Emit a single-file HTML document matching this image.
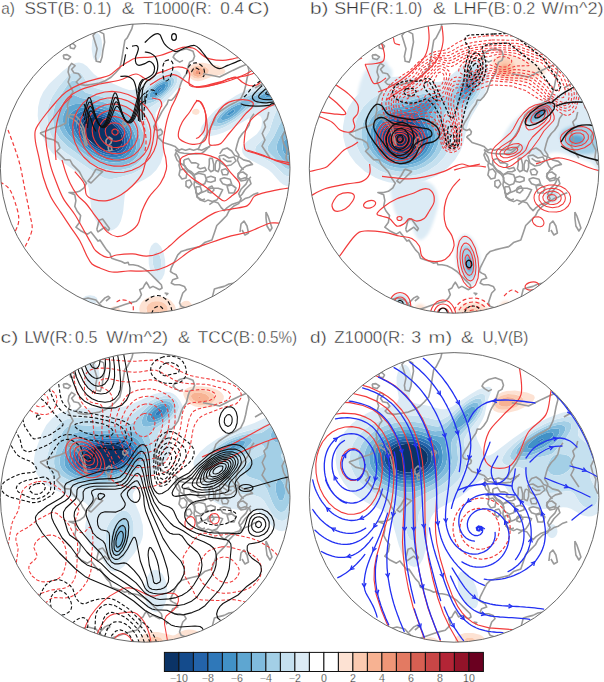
<!DOCTYPE html><html><head><meta charset="utf-8"><style>html,body{margin:0;padding:0;background:#fff;width:604px;height:682px;overflow:hidden}svg{display:block}text{font-family:"Liberation Sans",sans-serif}</style></head><body>
<svg width="604" height="682" viewBox="0 0 604 682">
<defs>
<filter id="b1" x="-50%" y="-50%" width="200%" height="200%"><feGaussianBlur stdDeviation="0.8"/></filter>
<filter id="b2" x="-50%" y="-50%" width="200%" height="200%"><feGaussianBlur stdDeviation="1.6"/></filter>
<filter id="b3" x="-50%" y="-50%" width="200%" height="200%"><feGaussianBlur stdDeviation="2.4000000000000004"/></filter>
<filter id="b4" x="-50%" y="-50%" width="200%" height="200%"><feGaussianBlur stdDeviation="3.2"/></filter>
<filter id="b5" x="-50%" y="-50%" width="200%" height="200%"><feGaussianBlur stdDeviation="4.0"/></filter>
<clipPath id="ca"><circle cx="145.2" cy="168.4" r="144.8"/></clipPath>
<clipPath id="cb"><circle cx="454.1" cy="168.4" r="144.8"/></clipPath>
<clipPath id="cc"><circle cx="145.2" cy="497.4" r="144.8"/></clipPath>
<clipPath id="cd"><circle cx="454.1" cy="497.4" r="144.8"/></clipPath>
</defs>
<rect width="604" height="682" fill="#fff"/>
<text x="1.3" y="13.6" font-size="15.6" fill="#303030" stroke="#fff" stroke-width="0.35" textLength="13.7" lengthAdjust="spacingAndGlyphs">a)</text>
<text x="24.4" y="13.6" font-size="15.6" fill="#303030" stroke="#fff" stroke-width="0.35" textLength="55" lengthAdjust="spacingAndGlyphs">SST(B:</text>
<text x="83.3" y="13.6" font-size="15.6" fill="#303030" stroke="#fff" stroke-width="0.35" textLength="28.1" lengthAdjust="spacingAndGlyphs">0.1)</text>
<text x="121.8" y="13.6" font-size="15.6" fill="#303030" stroke="#fff" stroke-width="0.35" textLength="12.8" lengthAdjust="spacingAndGlyphs">&amp;</text>
<text x="143.2" y="13.6" font-size="15.6" fill="#303030" stroke="#fff" stroke-width="0.35" textLength="68.4" lengthAdjust="spacingAndGlyphs">T1000(R:</text>
<text x="220.2" y="13.6" font-size="15.6" fill="#303030" stroke="#fff" stroke-width="0.35" textLength="23.9" lengthAdjust="spacingAndGlyphs">0.4</text>
<text x="247.4" y="13.6" font-size="15.6" fill="#303030" stroke="#fff" stroke-width="0.35" textLength="22.2" lengthAdjust="spacingAndGlyphs">C)</text>
<text x="309.9" y="13.6" font-size="15.6" fill="#303030" stroke="#fff" stroke-width="0.35" textLength="18.5" lengthAdjust="spacingAndGlyphs">b)</text>
<text x="334.2" y="13.6" font-size="15.6" fill="#303030" stroke="#fff" stroke-width="0.35" textLength="59.6" lengthAdjust="spacingAndGlyphs">SHF(R:</text>
<text x="395" y="13.6" font-size="15.6" fill="#303030" stroke="#fff" stroke-width="0.35" textLength="27.3" lengthAdjust="spacingAndGlyphs">1.0)</text>
<text x="433" y="13.6" font-size="15.6" fill="#303030" stroke="#fff" stroke-width="0.35" textLength="12.9" lengthAdjust="spacingAndGlyphs">&amp;</text>
<text x="453.4" y="13.6" font-size="15.6" fill="#303030" stroke="#fff" stroke-width="0.35" textLength="57.1" lengthAdjust="spacingAndGlyphs">LHF(B:</text>
<text x="513" y="13.6" font-size="15.6" fill="#303030" stroke="#fff" stroke-width="0.35" textLength="22.3" lengthAdjust="spacingAndGlyphs">0.2</text>
<text x="541.6" y="13.6" font-size="15.6" fill="#303030" stroke="#fff" stroke-width="0.35" textLength="62" lengthAdjust="spacingAndGlyphs">W/m^2)</text>
<text x="0.6" y="343" font-size="15.6" fill="#303030" stroke="#fff" stroke-width="0.35" textLength="17.9" lengthAdjust="spacingAndGlyphs">c)</text>
<text x="24.2" y="343" font-size="15.6" fill="#303030" stroke="#fff" stroke-width="0.35" textLength="48.4" lengthAdjust="spacingAndGlyphs">LW(R:</text>
<text x="75.1" y="343" font-size="15.6" fill="#303030" stroke="#fff" stroke-width="0.35" textLength="22.3" lengthAdjust="spacingAndGlyphs">0.5</text>
<text x="106.2" y="343" font-size="15.6" fill="#303030" stroke="#fff" stroke-width="0.35" textLength="61.8" lengthAdjust="spacingAndGlyphs">W/m^2)</text>
<text x="178" y="343" font-size="15.6" fill="#303030" stroke="#fff" stroke-width="0.35" textLength="12.3" lengthAdjust="spacingAndGlyphs">&amp;</text>
<text x="197.8" y="343" font-size="15.6" fill="#303030" stroke="#fff" stroke-width="0.35" textLength="57.1" lengthAdjust="spacingAndGlyphs">TCC(B:</text>
<text x="257.4" y="343" font-size="15.6" fill="#303030" stroke="#fff" stroke-width="0.35" textLength="39.7" lengthAdjust="spacingAndGlyphs">0.5%)</text>
<text x="309.9" y="343" font-size="15.6" fill="#303030" stroke="#fff" stroke-width="0.35" textLength="16.8" lengthAdjust="spacingAndGlyphs">d)</text>
<text x="334.2" y="343" font-size="15.6" fill="#303030" stroke="#fff" stroke-width="0.35" textLength="70.7" lengthAdjust="spacingAndGlyphs">Z1000(R:</text>
<text x="411.2" y="343" font-size="15.6" fill="#303030" stroke="#fff" stroke-width="0.35" textLength="9.9" lengthAdjust="spacingAndGlyphs">3</text>
<text x="428.6" y="343" font-size="15.6" fill="#303030" stroke="#fff" stroke-width="0.35" textLength="23.5" lengthAdjust="spacingAndGlyphs">m)</text>
<text x="460.9" y="343" font-size="15.6" fill="#303030" stroke="#fff" stroke-width="0.35" textLength="12.8" lengthAdjust="spacingAndGlyphs">&amp;</text>
<text x="482.4" y="343" font-size="15.6" fill="#303030" stroke="#fff" stroke-width="0.35" textLength="45.9" lengthAdjust="spacingAndGlyphs">U,V(B)</text>
<g clip-path="url(#ca)">
<path d="M93.4 117 100 117.6 106 119.7 112 123.4 117 128.1 120.8 134 122.3 139 121.9 144 119.2 148 116 149.8 113 150.6 109 150.6 104 149.7 99 147.7 95 145.3 88 139 85.1 135 83.3 131 82.6 127 83 124 84.5 121 86.8 119 90 117.6 93.4 117Z" fill="#0b3366" fill-rule="evenodd"/><path d="M89.7 115 97 114.9 104 116.7 111 120.3 117.8 126 122.2 132 124.7 139 124.4 145 122 149.1 119 151.3 115 152.6 111 152.8 106 152.2 101 150.6 96 148 91.6 145 87.2 141 84 137 81.6 133 80.1 129 79.7 125 80.8 121 83 118.1 86 116.2 89.7 115ZM94 117 90 117.6 86.8 119 84.5 121 83 124 82.6 127 83.3 131 87.2 138 90.8 142 95 145.3 99 147.7 104 149.7 108 150.5 112 150.7 116 149.8 119 148.2 121.5 145 122.4 140 121.2 135 117.7 129 113 124.2 107 120.2 100 117.6 94 117Z" fill="#144b8c" fill-rule="evenodd"/><path d="M86.4 113 94 112.3 103 114.1 112 118.5 118.8 124 124.2 131 126.1 135 127.2 139 127.5 143 127 146 125.7 149 124 151 121 153.2 117 154.6 112 155 107 154.4 101 152.6 96 150.2 91 146.9 86 142.5 82.1 138 78.9 133 77 128 76.5 124 77.4 120 79.4 117 82 114.9 86.4 113ZM90 114.9 86 116.2 83.1 118 80.8 121 79.8 124 79.9 128 81.1 132 84 137 87.2 141 91.6 145 96 148 101 150.6 106 152.2 111 152.8 115 152.6 119 151.3 122 149.1 124.4 145 124.7 139 122.2 132 117.8 126 111 120.3 104 116.7 97 114.9 90 114.9Z" fill="#2363aa" fill-rule="evenodd"/><path d="M159.7 88 161 87.7 161.5 88 161.2 89 159 90.9 157.7 91 157.6 90 159.7 88ZM86.7 110 91 109.6 96 110 105 112.4 114 117.1 122 124 127.4 132 130.1 140 130.2 144 129.7 147 128.5 150 126 153.1 122 155.7 117 157.1 112 157.3 106 156.4 100 154.3 94 151.3 88 147.1 82.6 142 78.4 137 74.8 131 73.1 126 72.9 121 74.3 117 77 114 81 111.6 86.7 110ZM87 112.9 83 114.3 79.4 117 77.4 120 76.5 124 77 128 78.9 133 82.1 138 85.5 142 90 146.1 95 149.6 101 152.6 106 154.2 111 155 116 154.8 121 153.2 124 151 125.7 149 127 146 127.5 143 127.2 139 126.1 135 124.2 131 119 124.2 112 118.5 103 114.1 95 112.3 87 112.9Z" fill="#2f78b9" fill-rule="evenodd"/><path d="M162.7 84 165 84 166 85 165.7 87 163.7 90 158 94.2 155 95.1 153 94.4 153 92 155 89 159 85.6 162.7 84ZM160 87.8 158 89.4 157.7 91 159 90.9 161.2 89 161.5 88 160 87.8ZM271.4 93 275 92.6 277.1 93 277.6 94 275.7 96 270 97.7 265.7 97 265.7 96 266.7 95 271.4 93ZM85.4 107 95 107.1 105 109.7 115.4 115 120 118.4 123.7 122 126.9 126 129.9 131 131.7 135 133 140 133.3 144 132.7 148 131 152 128.6 155 124 158 118 159.6 112 159.7 105 158.5 98 155.9 91 151.9 84.5 147 78.4 141 72.9 134 69.6 128 68.2 123 68.4 118 70.2 114 74 110.5 79 108.3 85.4 107ZM87 109.9 81 111.6 77 114 74.3 117 72.9 121 72.9 125 74.4 130 77.7 136 81.7 141 87 146.2 93 150.7 99 153.9 105 156.1 111 157.2 117 157.1 122 155.7 126 153.1 128.5 150 129.7 147 130.2 144 130.1 140 127.4 132 122 124 114 117.1 105 112.4 96 110 87 109.9ZM232.5 110 235 109.8 234 112 230 115 227 115.6 226.7 115 228 113 232.5 110Z" fill="#4191c6" fill-rule="evenodd"/><path d="M162.8 82 167 81.5 168.8 83 168.4 86 165.8 90 162 93.5 157 96.5 153 97.7 150 97 149.5 96 149.7 94 152.8 89 157.2 85 162.8 82ZM163 83.9 159 85.6 155 89 153 92 153 94.4 155 95.1 158 94.2 163.7 90 165.7 87 166 85 165 84 163 83.9ZM271.6 91 278 90.4 281 90.9 282 91.7 282.5 93 282.2 94 278.7 97 273 99.2 267 100.1 262 99.8 259.5 99 259 98.3 259.2 97 261.6 95 266 92.8 271.6 91ZM272 92.9 266.7 95 265.7 96 265.7 97 270 97.7 275.7 96 277.6 94 277.1 93 272 92.9ZM75 104 90 103.4 101 105.2 107 107.3 113 110.1 119 113.8 123.2 117 127 121 131 126.7 133.8 132 135.9 138 136.6 143 136.3 148 135 152 132.5 156 128 159.6 123 161.6 116 162.6 109 162.1 102 160.3 94 156.6 87 152.2 80 146.5 72.5 139 67.6 133 64.7 128 63 122 63.1 116 65.5 110 69.4 106 75 104ZM86 106.9 79 108.3 74 110.5 70.2 114 68.4 118 68.2 123 69.6 128 72.9 134 77.5 140 83.4 146 90 151.3 97 155.4 104 158.2 111 159.6 118 159.6 123.9 158 128 155.5 130.3 153 132.4 149 133.2 145 133.1 141 132.3 137 130.4 132 124.6 123 117 116.1 107 110.5 101 108.3 96 107.2 86 106.9ZM237.4 105 241 104.3 242.4 105 242.4 106 240.5 109 236.6 113 232 116.5 227 119.2 223 120.2 221 119.4 220.9 118 221.9 116 225.7 112 231.2 108 237.4 105ZM233 109.8 228 113 226.7 115 227 115.6 230 115 234 112 235.2 110 233 109.8ZM285.8 139 288 138.3 289.3 139 291 141.6 291.9 145 292 149 291 153 290 154.6 288 155.7 286 155.1 284.8 154 283.5 152 282.5 149 283 143.6 284.2 141 285.8 139Z" fill="#5ea6d1" fill-rule="evenodd"/><path d="M163.5 80 167 79.2 169 79.2 170.6 80 171.3 81 171.5 83 171 85 167.7 90 162 95.3 156 98.8 151 100.4 149 100.5 147 99.7 146.1 98 146.3 96 149.8 90 156 84.1 163.5 80ZM163 81.9 158 84.5 152.8 89 149.7 94 149.5 96 150 97 153 97.7 157 96.5 162 93.5 165.8 90 168.4 86 168.8 83 167 81.5 163 81.9ZM273.5 89 281 88.6 285.3 90 286.2 91 286.2 93 285 95 282 97.4 277 99.8 271 101.4 265 102 255 102.2 251 103.2 247 105.9 237.1 115 230 119.8 222 123.1 219 123.4 217 122.6 216.8 120 220.1 115 225.5 110 232 105.6 239 102 251 97.7 263.2 92 273.5 89ZM238 104.8 231.2 108 225.7 112 221.9 116 220.9 118 221 119.4 223 120.2 227 119.2 232 116.5 236.6 113 240.5 109 242.4 106 242 104.5 238 104.8ZM272 90.9 263.3 94 260.2 96 259.2 97 259 98.3 259.5 99 262 99.8 267 100.1 273 99.2 278.7 97 282.2 94 282.5 93 282 91.7 281 90.9 278 90.4 272 90.9ZM70 95 73 94.5 81 98 97 100.4 105 102.6 118 108.7 127.1 115 131 119.6 135.5 127 138.6 134 140.2 140 140.6 146 139.8 151 138.2 155 135.2 159 129.7 163 122 165.5 114 166 105 164.6 97 161.6 88 156.5 79.2 150 67.9 140 63 134.5 59.9 129 58.2 123 57.8 117 58.8 111 61.3 105 66 98.5 70 95ZM76 103.9 70 105.6 66.2 109 63.3 115 62.9 121 64.3 127 66.9 132 71.6 138 78.4 145 85 150.7 92 155.5 100 159.5 107 161.7 114 162.6 121 162.1 127 160.1 132 156.5 134.6 153 136.1 149 136.6 144 136.1 139 134.6 134 131.8 128 128 122.2 124 117.8 119.4 114 114 110.7 102 105.5 91 103.5 76 103.9ZM286.2 129 289 129.2 292 132.3 294 137 295.4 144 295.4 151 294 157 292 160.7 289 162.7 286 162.2 282 158.7 278 153 276.5 148 277.3 143 280.4 136 283 131.6 286.2 129ZM286 138.8 284.2 141 283 143.6 282.5 149 283.5 152 284.8 154 286 155.1 288 155.7 290 154.6 291 153 291.9 150 292 145.9 291.2 142 290 139.7 288 138.3 286 138.8Z" fill="#80bbdd" fill-rule="evenodd"/><path d="M167.2 77 172 77.1 173.4 78 174.3 80 174.3 82 173.2 85 168 92 161 97.9 153 102.3 146 104.2 143.4 104 142 103 141.5 101 142.6 97 145.7 92 149.2 88 158 80.9 163 78.3 167.2 77ZM164 79.8 156.2 84 149.8 90 146.3 96 146.1 98 147 99.7 149 100.5 151 100.4 156 98.8 162 95.3 167.7 90 171 85 171.5 83 171.3 81 170.6 80 169 79.2 164 79.8ZM71.7 81 75 80.2 77 81.1 82.5 90 86 92.7 101 96.5 109 99.2 129.6 109 133.4 112 142.5 131 144.5 137 145.5 143 145.4 149 143.8 155 141 160 137 164 130 167.9 121 170.1 112 170.5 103 168.7 94 164.7 84 158.5 67 145.9 60 139 56.3 133 53.8 126 52.8 118 53.5 111 55.6 104 59.3 97 67 85.5 71.7 81ZM70 95 66 98.5 61.3 105 58.8 111 57.8 117 58.2 123 59.9 129 63 134.5 67.9 140 79.2 150 88 156.5 97 161.6 105 164.6 114 166 122 165.5 129.7 163 135.2 159 138.2 155 139.8 151 140.6 146 140.2 140 138.6 134 135.5 127 131 119.6 127.1 115 118 108.7 105 102.6 97 100.4 81 98 73 94.5 70 95ZM275.4 87 281 86.6 285 87 288 88.1 289.9 90 290.1 92 288.6 95 283 99.5 279 101.4 274 102.8 257 104.7 253 105.7 248 108.4 235 118.8 227 123.5 222 125.5 217 126.7 214 126.3 212.6 125 212.5 123 213.2 121 217.6 115 224 109.2 232 103.6 242 98.4 259 91.6 268 88.6 275.4 87ZM274 88.9 263.2 92 251 97.7 239 102 232 105.6 225.5 110 220.1 115 216.8 120 217 122.6 219 123.4 222 123.1 230 119.8 238 114.2 248 105.1 252 102.8 255 102.2 265 102 271 101.4 276 100.1 281 98 284 96 285.8 94 286.4 92 286 90.8 285 89.8 282 88.7 274 88.9ZM283.4 120 285 119.3 287 119.2 290 120.6 293 124.1 296 130.9 296 161.6 293 166.8 291 168.5 289 169.2 286 168.5 283 166.3 269.5 153 268 151 267.4 149 268 146 274 136.5 279.3 125 281 122.3 283.4 120ZM287 128.8 284 130.4 281 134.8 277.3 143 276.5 148 277.5 152 280.6 157 285 161.6 288 162.8 291 161.7 293.6 158 295.1 153 295.6 146 294.8 140 292.9 134 290 129.9 287 128.8Z" fill="#a3cfe6" fill-rule="evenodd"/><path d="M73.5 72 77 71.4 80.6 73 83 75.8 87.1 83 91 86.5 107 91.6 124 98.9 130 100.1 133 99.6 136 98 149.2 85 155 80.5 160 77.5 165 75.2 170 74 174 74.2 176.7 76 177.7 79 177.2 82 175.3 86 171.6 91 162 99.7 147.8 109 145.8 111 144.7 113 144.4 116 144.9 119 149.9 132 151.6 138 152.4 148 151.5 154 149.2 160 145.7 165 141 169.2 133 173.4 120 177.3 111 179.3 105 178.6 98 174.8 65 152.3 59 147.3 55 142.5 50.5 134 47.9 125 47.1 115 48.4 106 52 97 58.6 87 67 76.7 70 74 73.5 72ZM168 76.9 164 77.9 159 80.3 154 83.7 149.2 88 145.7 92 142.6 97 141.5 101 142 103 143.4 104 146 104.2 153 102.3 161 97.9 168 92 172.7 86 174.4 81 174.1 79 173 77.7 171 76.9 168 76.9ZM72 80.8 67 85.5 59.3 97 55.6 104 53.5 111 52.8 118 53.8 126 56.3 133 60 139 67 145.9 84 158.5 94 164.7 103 168.7 112 170.5 121 170.1 130 167.9 137 164 141 160 143.8 155 145.4 149 145.5 143 144.5 137 142.5 131 133.4 112 129.6 109 109 99.2 101 96.5 86 92.7 82.5 90 77 81.1 75 80.2 72 80.8ZM274.2 85 282 84.3 288 84.9 292.7 87 294.4 90 294.2 92 292.7 95 285.9 103 285 105 285.4 106 292 111.6 296 118.1 296 130.9 294 125.9 291 121.5 288 119.4 286 119.1 284 119.6 282 121.1 280 123.7 274.2 136 268.5 145 267.4 148 267.5 150 269.5 153 283 166.3 286 168.5 289 169.2 291 168.5 294 165.5 296 161.6 296 170.9 293 174.6 290 176.3 287 176.2 284 174.7 274 164.5 270 161.7 259.6 156 257 153.8 255.3 151 255.1 149 256.3 146 265.4 137 269.3 131 273.8 117 277.1 109 277 108 276 107.4 273 106.8 267 106.8 255.8 108 251 110 235 121.6 224 127.5 218 129.7 213 130.5 209.7 130 207.8 128 207.7 126 208.7 123 212.8 117 221 109.1 230 102.6 239 97.4 250 92.4 264 87.5 274.2 85ZM276 86.9 268 88.6 259 91.6 242 98.4 232 103.6 224 109.2 217.6 115 213.2 121 212.5 123 212.6 125 214 126.3 217 126.7 222 125.5 227 123.5 235 118.8 248 108.4 253 105.7 257 104.7 274 102.8 279 101.4 283 99.5 288.6 95 290.1 92 289.9 90 288 88.1 285 87 281 86.6 276 86.9ZM155.7 252 157 252 159 253.8 160.4 257 161.3 261 160.9 268 160 270.4 158 272.1 156 271.3 154.9 270 153.6 267 152.7 263 153.1 256 154 253.5 155.7 252Z" fill="#c5e0ef" fill-rule="evenodd"/><path d="M95 34 96 33.3 98 33.3 100 35.4 101.6 40 102.2 45 101.8 51 100.6 56 98 60.2 96 60.9 94 59.5 93 57.4 91.6 49 92.3 40 93.7 36 95 34ZM75.3 63 79 62.6 83 63.6 87 66.3 93.9 74 97.9 77 123 88 129 89.9 133 89.9 138 88.1 157 75.4 163 72.4 168 70.7 173 69.9 177 70.5 180 72.7 181.5 76 181.5 81 178.7 87 172 95.1 158.6 108 155.7 113 155.5 116 156 119 161.6 134 163.7 144 163.4 154 160.7 163 156.3 170 151 175.3 145 179.3 131.5 186 127.1 190 125.5 193 124.7 196 123 213 120.9 221 119 224.8 117 227.3 114 229.6 111 230.6 106 230.2 102 228 98.1 224 95 219.1 92.9 214 91.3 208 88.7 188 87.3 184 85 180 78.2 173 60 160.3 52 152.7 47.9 147 44 140 41.2 133 39 125 37.7 116 38.1 107 40 99 43.2 92 49.1 84 62.8 71 70 65.4 75.3 63ZM74 71.8 71 73.3 67.7 76 59.4 86 52 97 48.4 106 47.1 115 47.7 124 50.5 134 54.7 142 59 147.3 65 152.3 98 174.8 105 178.6 111 179.3 120 177.3 133 173.4 141 169.2 145.7 165 149.2 160 151.5 154 152.4 148 151.6 138 149.9 132 144.9 119 144.4 116 144.7 113 145.8 111 147.8 109 162 99.7 171.6 91 175.3 86 177.2 82 177.7 79 176.7 76 174 74.2 170 74 165 75.2 160 77.5 155 80.5 149.2 85 136 98 133 99.6 130 100.1 124 98.9 107 91.6 91 86.5 87.1 83 83.1 76 81 73.3 78 71.6 74 71.8ZM272.5 81 278 80.2 285 80.3 291 81.4 296 83.3 296 118.1 292 111.6 285.4 106 285 105 285.9 103 293.3 94 294.4 91 293.6 88 291.1 86 287 84.7 282 84.3 277 84.6 267 86.6 253 91.3 241 96.4 232 101.3 222 108.3 213.7 116 208.7 123 207.7 126 207.8 128 209.7 130 213 130.5 218 129.7 224 127.5 235 121.6 251 110 255.8 108 262 107 270 106.7 274.9 107 277 108 276.8 110 274 116.3 268.8 132 265.4 137 256.3 146 255.3 148 255.1 150 256 152.5 258.3 155 273 163.7 282.1 173 286 175.8 289 176.4 291 175.9 294 173.6 296 170.9 296 182.1 293 184.9 290 186.2 287 186.2 283 184.6 279.9 182 272.1 173 268.8 170 264 166.9 248.5 159 244.7 156 242.6 153 241.9 149 243.5 145 247 141.4 256.9 134 260.5 129 261.7 125 262 121 261.5 118 260 115.8 257 115 252.9 116 230 129.6 223 132.8 216 135.1 210 136.3 205 136.3 201.8 135 200.3 132 200.6 129 201.9 126 206.8 119 215 110.5 225 102.5 236 95.4 246 90.3 261 84.4 272.5 81ZM154 243 156 242.6 158 243.4 161 246.7 163.7 253 165.1 260 165.4 267 164.4 274 162 279.1 159 281 156 280.3 152.9 277 150.3 271 148.8 264 148.6 257 149.3 251 151.1 246 154 243ZM156 251.9 154 253.5 153.1 256 152.7 263 153.6 267 154.9 270 156 271.3 158 272.1 160 270.4 160.9 268 161.3 261 160.4 257 159.1 254 158 252.6 156 251.9ZM85.6 296 90 295.2 94.4 296 97.1 298 97.6 301 96.1 303 93 304.5 89 304.8 85.6 304 82.9 302 82.2 300 82.9 298 85.6 296Z" fill="#dcebf5" fill-rule="evenodd"/><path d="M196 63 203 62.8 218 65.6 221.6 67 224.4 69 225.4 71 225.3 72 224 73.5 222 74.6 211 76.9 202 80.6 198 81.2 194 80.6 191.2 79 189.3 77 188 74 187.6 71 188.4 68 190 65.9 193 63.9 196 63ZM196 65.7 192 67.8 190.2 71 190.8 75 192 76.6 194 78 198 78.8 202 77.9 206.4 75 208.7 72 208.8 70 208.2 69 205.4 67 201 65.6 196 65.7ZM194.2 109 197 108.8 199.1 110 199.7 112 198.5 114 196 115 192.9 114 192.2 113 192.1 111 194.2 109ZM149.8 297 155 296.3 162 296.8 167 298.3 171 300.8 174.6 305 175.7 308 174.7 312 172.2 316 168.8 319 145.2 319 143.9 318 141.1 315 139.7 312 139.2 309 139.7 306 141.1 303 143 300.8 146 298.6 149.8 297ZM152 301.9 148 304.6 146.3 308 146.5 311 149 314.4 153 316.5 158 317.1 163 315.7 166.4 313 167.5 311 167.7 308 167 306 165 303.7 162 302 159 301.3 155 301.2 152 301.9ZM184.5 301 187 300.7 189 301.3 191.6 304 192.1 306 191.7 308 190.3 310 188 311.3 186 311.6 183.3 311 181.4 310 179.5 308 179.3 306 180.4 304 182.4 302 184.5 301ZM112 307 115 306.1 118.2 307 119.8 309 119.8 311 119.3 312 118 313.1 116 313.8 114 313.8 111.9 313 110.9 312 110.2 310 110.9 308 112 307Z" fill="#fde2d3" fill-rule="evenodd"/><path d="M195.1 66 200 65.5 205 66.8 208.2 69 208.8 70 208.7 72 206.4 75 202 77.9 198 78.8 194 78 191 75.4 190.1 72 190.5 70 191.8 68 195.1 66ZM196 68 194 69 192.5 71 192.4 73 193.3 75 195 76.3 198 76.9 200 76.5 202.6 75 204.3 72 203.7 70 202 68.6 200 67.8 196 68ZM151.8 302 155 301.2 159 301.3 162 302 165 303.7 167 306 167.7 308 167.5 311 166.4 313 163 315.7 159 317 154 316.8 149.7 315 147 312 146.3 308 148 304.6 151.8 302Z" fill="#fbcab0" fill-rule="evenodd"/><path d="M195.9 68 200 67.8 202 68.6 203.7 70 204.3 72 202.6 75 200 76.5 198 76.9 195 76.3 193.3 75 192.4 73 192.5 71 194 69 195.9 68ZM196 70.8 195.2 72 196 74 199 74.2 200.4 73 200.2 71 199 70.3 196 70.8Z" fill="#f7b292" fill-rule="evenodd"/><path d="M195.7 71 197 70.3 199 70.3 200.2 71 200.4 73 199 74.2 196 74 195.2 73 195.7 71Z" fill="#ef9677" fill-rule="evenodd"/><path d="M133 24 131.9 28.6 129.5 33.3 127.2 37.9 124.9 40.2 123.7 47.2 122.6 54.1 121.4 61.1 119.8 68 115.6 72.7 111 77.3 105.2 80.8 99.4 83.1 92.5 84.3 85.5 85.4 78.5 84.3 76.2 82 80.9 77.3 78.5 73.8 73.9 72.7 71.6 69.2 75.1 65.7 71.6 63.4 69 67 68.1 72 69.8 77 68.1 82 70.6 86.9 73.1 91.9 70.6 95.2 69 100.2 67.3 105.1 68.1 110.1 66.5 116.7 65.7 123.3 60 126 53 128 46 131 40 133" fill="none" stroke="#9a9a9a" stroke-width="1.6" stroke-linejoin="round"/><path d="M97.9 30.6 103.7 33.9 104.6 42.2 102.9 50.5 102.1 57.1 100.4 62.1 96.3 61.3 95.5 56.3 97.1 48.8 94.6 40.6 93 35.6 96.3 31.5 97.9 30.6" fill="none" stroke="#9a9a9a" stroke-width="1.6" stroke-linejoin="round"/><path d="M69.8 44 73 43.5 75.6 46 74 48.8 70.5 48 69.8 44" fill="none" stroke="#9a9a9a" stroke-width="1.6" stroke-linejoin="round"/><path d="M63.2 55 67 54.6 70.6 57 68 59.6 64 58.5 63.2 55" fill="none" stroke="#9a9a9a" stroke-width="1.6" stroke-linejoin="round"/><path d="M68.1 116.6 71.5 118.2 76.4 121.5 81.4 128.1 83.9 138.1 85.5 145.5 87.2 144.7 85.5 138.1 83.9 128.1 79.7 119.9 74.8 114.9 70 114.5 68.1 116.6" fill="none" stroke="#9a9a9a" stroke-width="1.6" stroke-linejoin="round"/><path d="M40 133.1 46.6 138.1 53.2 139.7 58.2 143 59.9 148 56.6 151.3 59.9 154.6 64.8 159.6 70.1 160 72.5 164.6 79.4 171.6 82.9 178.5 86.4 183.2 84 187.8 79.4 191.3 74.8 192.5 69 192.5 74.8 194.8 75.9 200.6 74.8 206.4 77.1 211 80.6 215.6 79.4 222.6 75.9 227.2 80.6 230.7 87.5 234.2 91 231.9 94.5 236.5 98 241.1 100 240 103.3 245 106.6 249.9 109.9 253.2 111.6 258.2 116.6 259.9 121.5 261.5 124.8 263.2 128.1 262.4 129 264.8 133.1 264.8 138.1 265.7 143 268.1 148 271.5 151.3 274.8 154.6 278.1 157.9 281.4 161.3 284.7 162.1 288 159.6 289.7 156.3 288 153 286.4 149.7 288 148 284.7 146.4 282.2 144.7 284.7 143 288 139.7 289.7 141.4 294.6 139.7 297.9 136.4 301.3 129.8 302.9 124.8 304.6 119.9 306.2 114.9 307.9 109.9 309.5 105 307.9 101.7 306.2 100 304.6 95.9 300 88 298 80 300 74 304" fill="none" stroke="#9a9a9a" stroke-width="1.6" stroke-linejoin="round"/><path d="M100 303 105 297.9 108.3 296.3 109.9 297.9 106 301" fill="none" stroke="#9a9a9a" stroke-width="1.6" stroke-linejoin="round"/><path d="M96 169 102.6 171.6 99 175 95 179 91 183 88 181 92 176 96 169" fill="none" stroke="#9a9a9a" stroke-width="1.6" stroke-linejoin="round"/><path d="M96.8 229.5 99.1 220.3 102.6 219.1 106 223.7 109.5 228.4 108.4 230.7 104.9 227.2 101.4 229.5 98 231.9 96.8 229.5" fill="none" stroke="#9a9a9a" stroke-width="1.6" stroke-linejoin="round"/><path d="M106 140 109 137 112 139 111 143 108 146 106 144 106 140" fill="none" stroke="#9a9a9a" stroke-width="1.6" stroke-linejoin="round"/><path d="M108 147 111 146 112 150 109 151 108 147" fill="none" stroke="#9a9a9a" stroke-width="1.6" stroke-linejoin="round"/><path d="M122.8 122 126 121.5 127.7 124 125 126.5 123 125 122.8 122" fill="none" stroke="#9a9a9a" stroke-width="1.6" stroke-linejoin="round"/><path d="M200 246.6 192.7 248.3 186.1 249.9 181.1 251.6 177.8 254.9 176.2 258.2 174.5 261.5 172.8 264.8 171.2 268.1 170.4 271.5 172.8 273.1 176.2 274.8 177.8 278.1 172.8 279.7 171.2 283 174.5 284.7 179.5 284.7 184.4 286.4 186.1 289.7 182.8 293 181.1 297.9 179.5 302.9 181.1 306.2 186.1 307.9 189.4 306.2" fill="none" stroke="#9a9a9a" stroke-width="1.6" stroke-linejoin="round"/><path d="M164.6 293 167.9 293.5 166 295" fill="none" stroke="#9a9a9a" stroke-width="1.6" stroke-linejoin="round"/><path d="M200 246.6 204.6 242.6 211.9 240.1 214.4 232.8 216.8 225.5 221.7 220.6 226.5 215.8 229 210.9 233.8 206 238.7 203.6 241.2 198.7 238.7 193.8 241.2 189 246 184.1 248.5 179.2 250.9 176.8" fill="none" stroke="#9a9a9a" stroke-width="1.6" stroke-linejoin="round"/><path d="M209.3 204.6 213.7 201.6 218.2 203.1 221.2 207.6 224.2 210.6 227.2 207.6 231.6 204.6 236.1 203.1 240.6 201.6 245 198.6 249.5 197.2 254 194.2 258.4 192.7" fill="none" stroke="#9a9a9a" stroke-width="1.6" stroke-linejoin="round"/><path d="M240 232 241 224 244 221 247 226 248.5 233 245 235 242 230" fill="none" stroke="#9a9a9a" stroke-width="1.6" stroke-linejoin="round"/><path d="M266 212 268 216 270 222 272 228 270 231 267 226 266 218 266 212" fill="none" stroke="#9a9a9a" stroke-width="1.6" stroke-linejoin="round"/><path d="M212 298.6 214.4 288.9 219.2 287.6 224.1 286.4 229 284 236.3 282.8" fill="none" stroke="#9a9a9a" stroke-width="1.6" stroke-linejoin="round"/><path d="M174.8 53.8 179.7 50.5 186.4 48.8 193 51.3 194.6 56.3 193 60.4 189.7 62.1 188 67 186.4 73.7 183 78.6 181.4 82 179.7 86.9 178.1 91.9 174.8 96.8 171.5 100.2 168.4 100 167.1 104 164.4 107.9 161.8 111.9 159.1 117.2 156.5 121.2 153.8 126.5 154.5 129.1 157.8 130.5 160.5 129.1 162.5 131.8 161.8 134.4 159.1 135.8 157.8 137.1 160.5 139.7 163.1 142.4 167.1 143.7 171.1 145 175 146.4 177.7 149 179 150.3 181.7 149 185.6 150.3 189.6 149 193.6 150.3 197.5 149 201.5 150.3 204.2 149 206.8 147.7 210 146.4" fill="none" stroke="#9a9a9a" stroke-width="1.6" stroke-linejoin="round"/><path d="M176.4 153 179 157 180.3 160.9 179 164.9 180.3 170" fill="none" stroke="#9a9a9a" stroke-width="1.6" stroke-linejoin="round"/><path d="M174.8 53.8 173.1 57.1 175.6 59.6 179.7 62.1 183 60.4" fill="none" stroke="#9a9a9a" stroke-width="1.6" stroke-linejoin="round"/><path d="M202.9 73.7 211.2 75.3 219.5 77 226.1 73.7 232.7 70.4 240 67 247.3 64" fill="none" stroke="#9a9a9a" stroke-width="1.6" stroke-linejoin="round"/><path d="M247.3 64 249 70.6 247.3 77.2 245.7 85.5 244 92.1 240.7 98.8 235.7 102.1 232.4 103.7 229.1 105.4 224.1 108.7 219.2 112 215.9 115.3 214.2 120.3 210.9 126.9 207.6 133.5 204.3 138.5 201 143.5 197.7 150.1" fill="none" stroke="#9a9a9a" stroke-width="1.6" stroke-linejoin="round"/><path d="M254 113.7 250.6 118.6 249 125.3 245.7 130.2 242.4 133.5 239 138.5 237.4 143.5 235.7 150.1 239 155.1 237.4 160 240 166 243.5 170" fill="none" stroke="#9a9a9a" stroke-width="1.6" stroke-linejoin="round"/><path d="M268.8 112 267.2 118.6 263.9 122 265.5 126.9 262.2 133.5 265 140 262 146 266 152 270 158" fill="none" stroke="#9a9a9a" stroke-width="1.6" stroke-linejoin="round"/><path d="M278.8 110.4 282 117 285.4 123.6 285.4 130.2 282 136.8 283.7 143.5 287 150.1 286 158 289 165" fill="none" stroke="#9a9a9a" stroke-width="1.6" stroke-linejoin="round"/><path d="M255 88 262 84 270 82 278 86 285 90 292 94" fill="none" stroke="#9a9a9a" stroke-width="1.6" stroke-linejoin="round"/><path d="M183.9 159.9 188.4 158.4 191.4 162.9 195.9 162.9 198.8 164.4 197.4 167.4 200.3 168.8 204.8 167.4 206.3 170.3 203.3 171.8 198.8 171.8 194.4 174.8 191.4 171.8 188.4 170.3 185.4 167.4 183.9 164.4 183.9 159.9" fill="none" stroke="#9a9a9a" stroke-width="1.6" stroke-linejoin="round"/><path d="M209.3 158.4 212.3 158.4 213.7 164.4 213.7 170.3 210.8 171.8 208.5 168.8 209.3 164.4 209.3 158.4" fill="none" stroke="#9a9a9a" stroke-width="1.6" stroke-linejoin="round"/><path d="M216.7 159.9 219.7 161.4 219.7 167.4 218.2 171.8 215.2 170.3 215.2 164.4 216.7 159.9" fill="none" stroke="#9a9a9a" stroke-width="1.6" stroke-linejoin="round"/><path d="M221.2 170.3 225.7 168.8 228.6 171.8 227.2 174.8 222.7 174.8 221.2 170.3" fill="none" stroke="#9a9a9a" stroke-width="1.6" stroke-linejoin="round"/><path d="M219.7 179.3 224.2 177.8 230.1 179.3 231.6 183.7 227.2 185.2 222.7 183.7 219.7 179.3" fill="none" stroke="#9a9a9a" stroke-width="1.6" stroke-linejoin="round"/><path d="M206.3 177.8 210.8 176.3 215.2 177.8 215.2 180.8 210.8 182.3 207 181.5 206.3 177.8" fill="none" stroke="#9a9a9a" stroke-width="1.6" stroke-linejoin="round"/><path d="M194.4 174.8 198.8 173.3 204.8 174.8 206.3 179.3 204.8 183.7 200.3 185.2 195.9 182.3 194.4 179.3 194.4 174.8" fill="none" stroke="#9a9a9a" stroke-width="1.6" stroke-linejoin="round"/><path d="M195.9 186.7 200.3 186.7 201.8 191.2 198.8 194.2 195.9 192.7 195.9 186.7" fill="none" stroke="#9a9a9a" stroke-width="1.6" stroke-linejoin="round"/><path d="M197.4 194.2 204.8 191.2 210.8 188.2 218.2 188.2 222.7 189.7 219.7 195.7 216.7 200.1 212.3 201.6 207.8 200.1 204.8 201.6 200.3 200.1 197.4 197.2 197.4 194.2" fill="none" stroke="#9a9a9a" stroke-width="1.6" stroke-linejoin="round"/><path d="M222.7 158.4 227.2 161.4 231.6 161.4" fill="none" stroke="#9a9a9a" stroke-width="1.6" stroke-linejoin="round"/><path d="M219.7 153.9 222.7 149.5 227.2 148 231.6 151 234.6 155.4 239.1 156.9 243.5 159.9 249.5 161.4 252.5 164.4 246.5 165.9 242.1 168.8 239.1 173.3 237.6 176.3 240.6 179.3 245 177.8 249.5 179.3 251 183.7 248 186.7 245 189.7 242.1 194.2 239.1 197.2" fill="none" stroke="#9a9a9a" stroke-width="1.6" stroke-linejoin="round"/><path d="M175 149.5 179.5 152.5 183.9 153.2 189.9 153.9 195.9 153.9 201.8 153.2 204.8 151 207.8 148 210.8 145" fill="none" stroke="#9a9a9a" stroke-width="1.6" stroke-linejoin="round"/><path d="M177 150 175 155 177 160 180 163 185 166 188 171 192 174 195 178 194 185 196 191 197 197 202 200 205 199" fill="none" stroke="#9a9a9a" stroke-width="1.6" stroke-linejoin="round"/><path d="M180 170 184 169 187 173 186 178 182 179 179 175 180 170" fill="none" stroke="#9a9a9a" stroke-width="1.6" stroke-linejoin="round"/><path d="M186 181 190 180 192 184 189 188 186 186 186 181" fill="none" stroke="#9a9a9a" stroke-width="1.6" stroke-linejoin="round"/><path d="M219 156 224 155 229 158 234 157 236 161 231 165 226 166 221 163 219 156" fill="none" stroke="#9a9a9a" stroke-width="1.6" stroke-linejoin="round"/><path d="M238 173 243 172 247 175 246 180 241 181 238 178 238 173" fill="none" stroke="#9a9a9a" stroke-width="1.6" stroke-linejoin="round"/><path d="M227 186 232 185 236 188 234 193 229 193 227 186" fill="none" stroke="#9a9a9a" stroke-width="1.6" stroke-linejoin="round"/><path d="M208 188 212 186 214 190 211 193 208 192 208 188" fill="none" stroke="#9a9a9a" stroke-width="1.6" stroke-linejoin="round"/><path d="M104.7 92 112 91.4 120 92.2 128 94.5 135 97.8 141.1 102 147.2 108 152 114.9 155.2 122 156.9 129 157.4 137 156.4 144 153.9 151 150 157.5 145 162.8 139 167.1 132 170.3 124 172.2 115 172.5 106 170.9 98 167.8 90.2 163 83.7 157 78.5 150 74.8 142 72.9 134 72.8 125 74.5 117 77.7 110 83 103.1 89 98.1 96 94.4 104.7 92" fill="none" stroke="#f23b3b" stroke-width="1.15" stroke-linejoin="round"/><path d="M107.3 98 114 97.7 121 98.7 127 100.6 133 103.7 138.7 108 143 112.6 146.6 118 149.2 124 150.6 130 150.8 137 149.8 143 147.5 149 144.3 154 140 158.4 135 161.9 129 164.6 122 166.1 114 166.1 107 164.8 100 162 93.7 158 88.4 153 84 147 80.8 140 79.3 133 79.3 126 80.8 119 83.6 113 88 107.4 93.5 103 100 99.8 107.3 98" fill="none" stroke="#f23b3b" stroke-width="1.15" stroke-linejoin="round"/><path d="M110.4 104 116 104.1 121 105 126 106.8 131 109.7 135 113 138.5 117 141.6 122 143.4 127 144.3 132 144.2 137 143.2 142 141 147 138 151.1 134 154.8 130 157.2 125 159.1 119 160 113 159.8 107 158.4 101 155.6 96.1 152 92 147.7 88.9 143 86.6 137 85.6 131 86.1 125 87.5 120 90.3 115 94 110.9 99 107.3 104.7 105 110.4 104" fill="none" stroke="#f23b3b" stroke-width="1.15" stroke-linejoin="round"/><path d="M107 111 111 110.3 115 110.2 123 112.2 127 114.4 130.3 117 133.1 120 135.6 124 137.1 128 137.8 132 137.7 136 136.8 140 135 144 132.8 147 129.4 150 126 151.9 122 153.3 117 153.8 112 153.4 108 152.2 104 150.3 100 147.3 96.9 144 94.4 140 92.9 136 92.2 131 92.6 126 93.9 122 96 118.5 99 115.3 103 112.6 107 111" fill="none" stroke="#f23b3b" stroke-width="1.15" stroke-linejoin="round"/><path d="M109.3 117 115 116.4 121.1 118 126.7 122 130 127 131.3 133 130.5 138 127.4 143 123 146.2 117 147.6 113 147.3 110 146.4 104 142.7 101.7 140 100 137 98.7 131 99.9 125 103.6 120 109.3 117" fill="none" stroke="#f23b3b" stroke-width="1.15" stroke-linejoin="round"/><path d="M111.6 123 115 122.7 119 123.8 122 126 124 129 124.8 133 124.2 136 122.1 139 120 140.4 116 141.4 112 140.7 108 138 106 135 105.2 131 105.8 128 108 125 111.6 123" fill="none" stroke="#f23b3b" stroke-width="1.15" stroke-linejoin="round"/><path d="M113.9 129 116 129.1 118 131 118 133.4 116 135 114 134.9 112 133 112 130.6 113.9 129" fill="none" stroke="#f23b3b" stroke-width="1.15" stroke-linejoin="round"/><path d="M62 160C62.6 161.9 64.2 167.7 65.5 171.6C66.8 175.5 68.2 179.3 70.1 183.2C72 187.1 74.4 191.3 77.1 194.8C79.8 198.3 83.7 200.9 86.4 204C89.1 207.1 91 210.2 93.3 213.3C95.6 216.4 98 219.5 100.3 222.6C102.6 225.7 104.5 229.6 107.2 231.9C109.9 234.2 113.4 236.1 116.5 236.5C119.6 236.9 122.3 236.1 125.8 234.2C129.3 232.3 134.7 228.8 137.4 224.9C140.1 221 140.1 215.6 142 211C143.9 206.4 145.9 201.7 149 197.1C152.1 192.5 157.6 187.8 160.5 183.2C163.4 178.6 165.4 173.5 166.3 169.3C167.2 165.2 166.1 161 165.8 158.3C165.5 155.6 164.9 155.4 164.4 153C163.9 150.6 163.1 147 163.1 143.7C163.1 140.4 163.7 137.1 164.4 133.1C165.1 129.1 166 124.1 167.1 119.9C168.2 115.7 169.8 111.2 171.1 107.9C172.4 104.6 173.5 103.3 175 100C176.5 96.7 179.2 90 180 88" fill="none" stroke="#f23b3b" stroke-width="1.2"/><path d="M56 160C55.8 156.7 54.7 147 55 140C55.3 133 56.2 124.7 58 118C59.8 111.3 62.3 104.7 66 100C69.7 95.3 74.3 92.7 80 90C85.7 87.3 93.3 85.7 100 84C106.7 82.3 114 81.7 120 80C126 78.3 131.3 74 136 74C140.7 74 144.9 80.3 148.3 80.3C151.7 80.2 153.6 75.3 156.6 73.7C159.6 72.1 163.2 71.5 166.5 70.4C169.8 69.3 173.1 67.3 176.4 67C179.7 66.7 184.2 67.6 186.4 68.7C188.6 69.8 189.1 70.9 189.7 73.7C190.2 76.5 187.5 83.1 189.7 85.3C191.9 87.5 198.2 87.2 202.9 86.9C207.6 86.6 213.4 85 217.8 83.6C222.2 82.2 225.7 79.7 229.4 78.6C233.1 77.5 236.2 77.8 240 77C243.8 76.2 248.3 75.5 252 74C255.7 72.5 260.3 69 262 68" fill="none" stroke="#f23b3b" stroke-width="1.2"/><path d="M74.8 171.6C76.3 173.5 82.1 179.3 84 183.2C85.9 187.1 84.9 192.1 86.4 194.8C88 197.5 89.8 198.4 93.3 199.4C96.8 200.4 102.6 201.4 107.2 200.6C111.8 199.8 116.8 197.3 121.1 194.8C125.3 192.3 129.2 189 132.7 185.5C136.2 182 139.8 178 142 173.9C144.2 169.8 144.6 164.4 145.9 160.9C147.2 157.4 148.8 155.9 149.9 153C151 150.1 151.8 146.8 152.5 143.7C153.2 140.6 153.4 137.3 153.8 134.4C154.2 131.5 154.5 129.6 155.2 126.5C155.9 123.4 156.9 119 157.8 115.9C158.7 112.8 159.8 109.7 160.5 107.9C161.2 106.1 161.9 106.6 161.8 105.3C161.7 104 161.5 101.2 159.9 100C158.3 98.8 153.3 98.3 152 98" fill="none" stroke="#f23b3b" stroke-width="1.2"/><path d="M72 96C70.6 97.5 66 101.7 63.4 104.7C60.8 107.7 58.6 110.9 56.3 114C53.9 117.1 51 120.7 49.3 123.5C47.5 126.3 46.3 128.2 45.8 131C45.2 133.8 45.8 137 46 140C46.2 143 46.2 144.7 47 149C47.8 153.3 49 160.2 50.5 165.7C52 171.2 54.1 176.7 56.3 182.2C58.4 187.7 60.3 193.1 63.4 198.6C66.5 204.1 71.6 209.5 75.1 215C78.6 220.5 81.8 226.8 84.5 231.5C87.2 236.2 89.1 239.8 91 243C92.9 246.2 93.3 248.6 96 251C98.7 253.4 103.8 256.7 107.2 257.4C110.6 258.1 112.2 255.6 116.5 255C120.8 254.4 127.7 253.7 132.7 253.9C137.7 254.1 142 256.4 146.6 256.2C151.2 256 156.6 254.4 160.5 252.7C164.4 251 166.6 248.5 169.8 245.8C173.1 243.1 175.6 240.1 180 236.5C184.4 232.9 190.6 228.2 196.4 224.2C202.2 220.2 209.1 215.1 214.9 212.6C220.7 210.1 225.7 210.3 231.1 209.1C236.5 207.9 243.5 207.7 247.4 205.6C251.3 203.5 251.6 198.5 254.3 196.4C257 194.3 259.4 194.1 263.6 192.9C267.9 191.7 274.4 190.4 279.8 189.4C285.2 188.4 293.3 187.4 296 187" fill="none" stroke="#f23b3b" stroke-width="1.2"/><path d="M255 54C252.5 54.5 243.7 56.3 240 57.1C236.3 57.9 235.6 58.2 232.7 58.8C229.8 59.3 226.7 60.4 222.8 60.4C218.9 60.4 212.8 59.6 209.5 58.8C206.2 58 205.4 57.2 202.9 55.5C200.4 53.8 197.6 50.2 194.6 48.8C191.6 47.4 187.4 47.2 184.7 47.2C181.9 47.2 180.6 48 178.1 48.8C175.6 49.6 172.8 51 169.8 52.1C166.8 53.2 163.2 54.7 159.9 55.5C156.6 56.3 153.9 56.7 149.9 57.1C145.9 57.5 139.7 57.2 136 58C132.3 58.8 130.7 60.3 127.7 62.1C124.7 63.9 120.8 66.5 117.8 68.7C114.8 70.9 112.8 73.7 109.5 75.3C106.2 76.9 102.6 77.2 97.9 78.6C93.2 80 86.7 81.4 81.4 83.6C76.1 85.8 70.2 88.9 66 92C61.8 95.1 59.3 98.3 56 102C52.7 105.7 48.8 110.4 46 114C43.2 117.6 40.8 120.7 39 123.5C37.2 126.3 35.8 127.9 35.2 131C34.6 134.1 34.9 137.8 35.5 142C36.1 146.2 37.4 150.4 38.7 156.3C40 162.2 41.4 170.8 43.4 177.5C45.4 184.2 47.6 190.3 50.5 196.2C53.4 202.1 57.7 207.6 61 212.7C64.3 217.8 67.3 222.1 70.4 226.8C73.5 231.5 77 235.9 79.8 240.8C82.5 245.7 84.9 252.1 86.9 256C88.9 259.9 89.8 262 92 264C94.2 266 96.7 266.7 100 268C103.3 269.3 107.3 271.5 112 272C116.7 272.5 122.5 271.2 128 271C133.5 270.8 139.7 271.3 145 271C150.3 270.7 155 270.5 160 269C165 267.5 169.7 265.2 175 262C180.3 258.8 185.8 253.2 191.7 250C197.6 246.8 203.7 245.1 210.3 242.7C216.9 240.3 224.9 237.5 231.1 235.8C237.3 234.1 242.4 233.9 247.4 232.3C252.4 230.8 257.4 228.1 261.3 226.5C265.2 224.9 267.4 223.6 270.5 223C273.6 222.4 275.6 223.2 279.8 223C284.1 222.8 293.3 222.2 296 222" fill="none" stroke="#f23b3b" stroke-width="1.2"/><path d="M150 85C152 83.8 157.9 79.7 162 78C166.1 76.3 170.6 74.1 174.8 74.8C179 75.5 183.5 80.1 187.2 82.2C190.9 84.3 192.6 86.8 197.2 87.2C201.8 87.6 208.8 86 214.6 84.7C220.4 83.5 226.2 81.8 232 79.7C237.8 77.6 244.8 74.8 249.3 72.3C253.9 69.8 255.5 67.2 259.3 64.8C263.1 62.4 269.9 59.1 272 58" fill="none" stroke="#f23b3b" stroke-width="1.2"/><path d="M197.2 100.8C199.2 99.6 200.6 102.3 202 104.6C203.4 106.9 205.1 109.5 205.9 114.5C206.7 119.5 207.4 129.8 207 134.4C206.6 139 205.9 140.2 203.4 141.8C200.9 143.5 196.1 144.7 192.2 144.3C188.3 143.9 182.1 141.4 179.8 139.3C177.5 137.2 178.2 134.8 178.6 131.9C179 129 180.5 125.3 182.3 122C184.2 118.7 187.2 115.5 189.7 112C192.2 108.5 195.1 102 197.2 100.8Z" fill="none" stroke="#f23b3b" stroke-width="1.2"/><path d="M209.2 143.5C208.6 140.5 209.2 132.4 210.9 126.9C212.6 121.4 216.2 114.5 219.2 110.4C222.2 106.3 225.2 103.9 229.1 102.1C233 100.3 238.5 99.6 242.4 99.6C246.3 99.6 250.7 100.9 252.3 102.1C254 103.3 253.4 105.1 252.3 107C251.2 108.9 248.2 110.9 245.7 113.7C243.2 116.5 240.2 120.3 237.4 123.6C234.6 126.9 231.9 130.2 229.1 133.5C226.3 136.8 223.3 141.6 220.8 143.5C218.3 145.4 216.1 145.1 214.2 145.1C212.3 145.1 209.8 146.5 209.2 143.5Z" fill="none" stroke="#f23b3b" stroke-width="1.2"/><path d="M244 143.5C244.3 141.3 244.6 134.1 245.7 130.2C246.8 126.3 247.8 123.6 250.6 120.3C253.3 117 258.3 113 262.2 110.4C266.1 107.8 270.2 105.7 273.8 104.6C277.4 103.5 280 103.8 283.7 103.7C287.4 103.6 293.9 104 296 104" fill="none" stroke="#f23b3b" stroke-width="1.2"/><path d="M244 143.5C244.3 144.6 243.8 148.4 245.7 150.1C247.6 151.8 252.3 152.3 255.6 153.4C258.9 154.5 262.2 155.6 265.5 156.7C268.8 157.8 272.5 159.2 275.5 160C278.5 160.8 280.3 161 283.7 161.7C287.1 162.4 293.9 163.6 296 164" fill="none" stroke="#f23b3b" stroke-width="1.2"/><path d="M196 87.2C197.7 86.9 202 86.3 205.9 85.5C209.8 84.7 215.3 83.3 219.2 82.2C223.1 81.1 226.3 79.7 229.1 78.9C231.8 78.1 233.5 76.7 235.7 77.2C237.9 77.8 240.2 80.8 242.4 82.2C244.6 83.6 246.8 85 249 85.5C251.2 86 253.7 86 255.6 85.5C257.5 85 259.8 82.8 260.6 82.2" fill="none" stroke="#f23b3b" stroke-width="1.2"/><path d="M196 100.4C196.8 100.7 199.6 100.7 201 102.1C202.4 103.5 203.5 106 204.3 108.7C205.1 111.5 205.9 115 205.9 118.6C205.9 122.2 205.4 127.2 204.3 130.2C203.2 133.2 200.7 135.4 199.3 136.8C197.9 138.2 196.6 138.2 196 138.5" fill="none" stroke="#f23b3b" stroke-width="1.2"/><path d="M182.5 157C184.8 155.7 189.4 153.7 194 153.5C198.6 153.3 205.7 154.5 210.3 155.8C215 157.2 218.4 158.7 221.9 161.6C225.4 164.5 228.2 169.7 231.1 173.2C234 176.7 238 179.6 239.2 182.5C240.4 185.4 239.4 188.3 238.1 190.6C236.8 192.9 233.4 194.7 231.1 196.4C228.8 198.1 226.5 201 224.2 201C221.9 201 220.3 198.7 217.2 196.4C214.1 194.1 209.8 190.2 205.6 187.1C201.3 184 195.5 180.9 191.7 177.8C187.8 174.7 184.4 171.2 182.5 168.5C180.6 165.8 180.1 163.5 180.1 161.6C180.1 159.7 180.2 158.3 182.5 157Z" fill="none" stroke="#f23b3b" stroke-width="1.2"/><path d="M247.4 150C249.7 150.8 256.7 152.9 261.3 154.6C265.9 156.3 270.4 158.7 275.2 160.4C280 162.1 287.5 164.2 290 165" fill="none" stroke="#f23b3b" stroke-width="1.2"/><path d="M143.2 121.2C143.4 122.5 144.1 126.4 144.6 129.1C145.1 131.8 145.7 134.4 145.9 137.1C146.1 139.8 146.1 142.3 145.9 145C145.7 147.7 144.8 151.7 144.6 153" fill="none" stroke="#f23b3b" stroke-width="1.2" stroke-dasharray="4 2.5"/><path d="M8 130C9 132.7 12 140.2 14 146C16 151.8 18.2 157.7 20 165C21.8 172.3 23.3 181.7 25 190C26.7 198.3 28.8 208.3 30 215C31.2 221.7 32.8 224.7 32 230C31.2 235.3 26.2 244.2 25 247" fill="none" stroke="#f23b3b" stroke-width="1.2" stroke-dasharray="4 2.5"/><path d="M0 182C1.7 183.3 7.1 185.3 10 190C12.9 194.7 16 204.7 17.4 210C18.8 215.3 19 218.3 18.6 222C18.2 225.7 15.6 230.3 15 232" fill="none" stroke="#f23b3b" stroke-width="1.2" stroke-dasharray="4 2.5"/><path d="M116.6 302C117.3 301.7 119.1 300.2 121 300C122.9 299.8 126 300 128 301C130 302 132.2 303.8 133 306C133.8 308.2 133 312.7 133 314" fill="none" stroke="#f23b3b" stroke-width="1.2" stroke-dasharray="4 2.5"/><path d="M83 116C83.4 114.7 84.7 110.1 85.1 108.4C85.6 106.7 85.6 106.5 85.8 105.7C86 104.8 86.2 104 86.4 103.2C86.6 102.5 86.8 101.8 87 101.1C87.2 100.5 87.4 99.9 87.6 99.5C87.8 99 88 98.6 88.2 98.3C88.4 98 88.6 97.8 88.7 97.6C88.9 97.5 89.1 97.5 89.3 97.5C89.5 97.5 89.7 97.7 89.8 97.9C90 98.1 90.2 98.4 90.4 98.8C90.6 99.2 90.8 99.7 91 100.2C91.2 100.8 91.4 101.4 91.6 102.1C91.8 102.7 92 103.5 92.2 104.2C92.4 105 92.7 105.8 92.9 106.7C93.1 107.6 93.4 108.4 93.6 109.3C93.9 110.2 94.1 111.2 94.4 112.1C94.6 113 94.9 113.9 95.2 114.8C95.4 115.7 95.7 116.6 96 117.4C96.3 118.3 96.6 119.1 96.9 119.8C97.2 120.6 97.5 121.3 97.8 122C98.1 122.6 98.4 123.2 98.7 123.7C99 124.2 99.4 124.7 99.7 125C100 125.4 100.3 125.7 100.7 125.9C101 126.1 101.3 126.2 101.7 126.2C102 126.2 102.3 126.1 102.7 125.9C103 125.8 103.3 125.5 103.7 125.2C104 124.8 104.3 124.4 104.6 123.9C105 123.4 105.3 122.8 105.6 122.2C105.9 121.5 106.2 120.8 106.5 120C106.8 119.2 107.1 118.4 107.4 117.5C107.7 116.6 108 115.7 108.3 114.7C108.6 113.8 108.8 112.8 109.1 111.8C109.4 110.8 109.6 109.8 109.9 108.8C110.1 107.8 110.4 106.7 110.6 105.8C110.9 104.8 111.1 103.8 111.3 102.9C111.6 102 111.8 101.1 112 100.2C112.2 99.4 112.4 98.6 112.6 97.9C112.8 97.2 113 96.5 113.2 95.9C113.4 95.3 113.6 94.8 113.8 94.4C114 94 114.2 93.6 114.3 93.4C114.5 93.1 114.7 92.9 114.9 92.9C115.1 92.8 115.3 92.8 115.4 92.9C115.6 93 115.8 93.2 116 93.4C116.2 93.7 116.4 94.1 116.6 94.5C116.8 94.9 117 95.5 117.2 96C117.4 96.6 117.6 97.3 117.8 98C118 98.7 118.2 99.5 118.4 100.3C118.6 101.1 118.9 101.9 119.1 102.8C119.3 103.7 119.6 104.6 119.8 105.5C120.1 106.4 120.3 107.3 120.6 108.2C120.9 109.1 121.1 110 121.4 110.9C121.7 111.8 122 112.7 122.3 113.5C122.5 114.3 122.8 115.1 123.1 115.8C123.4 116.6 123.8 117.2 124.1 117.9C124.4 118.5 124.7 119 125 119.5C125.3 120 125.7 120.3 126 120.7C126.3 121 126.6 121.2 127 121.3C127.3 121.5 127.6 121.5 128 121.5C128.3 121.4 128.6 121.3 129 121.1C129.3 120.9 129.6 120.6 129.9 120.2C130.3 119.8 130.6 119.3 130.9 118.8C131.2 118.2 131.6 117.6 131.9 116.9C132.2 116.2 132.5 115.4 132.8 114.6C133.1 113.8 133.4 112.9 133.7 112C134 111.1 134.2 110.2 134.5 109.2C134.8 108.2 135.1 107.2 135.3 106.2C135.6 105.2 135.9 104.2 136.1 103.2C136.4 102.2 136.6 101.2 136.8 100.2C137.1 99.3 137.3 98.3 137.5 97.4C137.7 96.5 138 95.6 138.2 94.8C138.4 94 138.8 93 138.8 92.6C138.8 92.1 137.9 93.4 138 92C138.1 90.6 138.7 86.2 139.5 84C140.3 81.8 142.4 79.8 143 79" fill="none" stroke="#111111" stroke-width="1.15"/><path d="M84.5 120C84.8 118.2 86 111.3 86.4 109.1C86.8 107 86.8 107.7 87 107.1C87.2 106.4 87.4 105.8 87.6 105.3C87.8 104.7 88 104.2 88.2 103.8C88.4 103.4 88.6 103.1 88.7 102.8C88.9 102.5 89.1 102.3 89.3 102.2C89.4 102 89.6 102 89.8 102C90 102 90.1 102.1 90.3 102.2C90.5 102.4 90.7 102.6 90.9 102.9C91.1 103.2 91.2 103.5 91.4 104C91.6 104.4 91.8 104.8 92 105.4C92.2 105.9 92.4 106.5 92.6 107.1C92.8 107.7 93 108.4 93.3 109.1C93.5 109.8 93.7 110.5 93.9 111.3C94.2 112 94.4 112.8 94.6 113.5C94.9 114.3 95.1 115.1 95.4 115.8C95.7 116.6 95.9 117.3 96.2 118.1C96.5 118.8 96.7 119.5 97 120.2C97.3 120.8 97.6 121.5 97.9 122.1C98.2 122.7 98.5 123.2 98.8 123.7C99.1 124.2 99.4 124.7 99.7 125.1C100 125.4 100.3 125.8 100.6 126C100.9 126.3 101.3 126.4 101.6 126.5C101.9 126.7 102.2 126.7 102.5 126.7C102.9 126.6 103.2 126.5 103.5 126.3C103.8 126.2 104.1 125.9 104.5 125.6C104.8 125.3 105.1 124.9 105.4 124.4C105.7 124 106 123.4 106.3 122.9C106.6 122.3 106.9 121.7 107.2 121C107.5 120.3 107.8 119.6 108.1 118.8C108.4 118.1 108.6 117.3 108.9 116.5C109.2 115.7 109.4 114.8 109.7 114C110 113.1 110.2 112.3 110.5 111.4C110.7 110.6 110.9 109.7 111.2 108.9C111.4 108 111.6 107.2 111.9 106.4C112.1 105.6 112.3 104.9 112.5 104.2C112.7 103.4 112.9 102.7 113.1 102.1C113.3 101.5 113.5 100.9 113.7 100.4C113.9 99.9 114.1 99.4 114.3 99C114.4 98.6 114.6 98.3 114.8 98C115 97.7 115.2 97.6 115.3 97.4C115.5 97.3 115.7 97.3 115.9 97.3C116 97.3 116.2 97.4 116.4 97.6C116.6 97.8 116.8 98 116.9 98.3C117.1 98.6 117.3 99 117.5 99.4C117.7 99.9 117.9 100.4 118.1 100.9C118.3 101.5 118.5 102.1 118.7 102.7C118.9 103.3 119.1 104 119.3 104.7C119.6 105.4 119.8 106.1 120 106.9C120.3 107.6 120.5 108.4 120.7 109.1C121 109.9 121.2 110.7 121.5 111.4C121.8 112.2 122 113 122.3 113.7C122.6 114.4 122.8 115.1 123.1 115.8C123.4 116.4 123.7 117.1 124 117.6C124.3 118.2 124.6 118.8 124.9 119.3C125.2 119.7 125.5 120.2 125.8 120.5C126.1 120.9 126.4 121.2 126.8 121.4C127.1 121.7 127.4 121.8 127.7 121.9C128 122 128.3 122 128.7 122C129 121.9 129.3 121.8 129.6 121.6C129.9 121.4 130.3 121.1 130.6 120.8C130.9 120.4 131.2 120 131.5 119.5C131.8 119.1 132.1 118.5 132.4 118C132.7 117.4 133 116.7 133.3 116C133.6 115.4 133.9 114.6 134.2 113.9C134.5 113.1 134.7 112.3 135 111.5C135.3 110.7 135.6 109.8 135.8 109C136.1 108.1 136.3 107.2 136.6 106.4C136.8 105.5 137 104.7 137.3 103.9C137.5 103 137.7 102.2 137.9 101.4C138.2 100.7 138.4 100.1 138.6 99.2C138.7 98.3 138.4 97.5 138.8 96C139.2 94.5 139.8 91.7 140.7 90C141.6 88.3 143.4 86.7 144 86" fill="none" stroke="#111111" stroke-width="1.15"/><path d="M86 124C86.3 121.8 87.3 113.2 87.7 110.8C88.1 108.3 88.1 109.7 88.2 109.3C88.4 108.9 88.6 108.4 88.8 108.1C89 107.8 89.1 107.5 89.3 107.2C89.5 107 89.7 106.8 89.8 106.7C90 106.5 90.2 106.5 90.3 106.5C90.5 106.5 90.7 106.5 90.9 106.6C91 106.7 91.2 106.9 91.4 107.1C91.6 107.3 91.7 107.6 91.9 107.9C92.1 108.2 92.3 108.6 92.5 109C92.7 109.4 92.8 109.8 93 110.3C93.2 110.8 93.4 111.3 93.7 111.9C93.9 112.4 94.1 113 94.3 113.6C94.5 114.2 94.7 114.8 95 115.4C95.2 116 95.4 116.7 95.7 117.3C95.9 117.9 96.2 118.5 96.4 119.1C96.7 119.7 96.9 120.3 97.2 120.9C97.5 121.5 97.7 122 98 122.6C98.3 123.1 98.6 123.6 98.9 124C99.2 124.5 99.5 124.9 99.7 125.2C100 125.6 100.3 125.9 100.6 126.2C100.9 126.5 101.2 126.7 101.6 126.8C101.9 127 102.2 127.1 102.5 127.1C102.8 127.2 103.1 127.2 103.4 127.1C103.7 127 104 126.9 104.3 126.7C104.6 126.5 104.9 126.3 105.3 126C105.6 125.7 105.9 125.4 106.2 125C106.5 124.6 106.8 124.1 107 123.6C107.3 123.1 107.6 122.6 107.9 122C108.2 121.5 108.5 120.9 108.7 120.2C109 119.6 109.3 118.9 109.5 118.3C109.8 117.6 110.1 116.9 110.3 116.2C110.6 115.5 110.8 114.8 111 114.1C111.3 113.4 111.5 112.6 111.7 111.9C112 111.3 112.2 110.6 112.4 109.9C112.6 109.2 112.8 108.6 113 108C113.2 107.4 113.4 106.8 113.6 106.3C113.8 105.7 114 105.2 114.2 104.8C114.4 104.3 114.5 103.9 114.7 103.5C114.9 103.2 115.1 102.9 115.3 102.6C115.4 102.4 115.6 102.2 115.8 102C115.9 101.9 116.1 101.8 116.3 101.8C116.5 101.8 116.6 101.8 116.8 101.9C117 102 117.1 102.1 117.3 102.3C117.5 102.5 117.7 102.8 117.9 103.1C118 103.4 118.2 103.8 118.4 104.2C118.6 104.6 118.8 105 119 105.5C119.2 106 119.4 106.5 119.6 107C119.8 107.6 120 108.1 120.2 108.7C120.4 109.3 120.7 109.9 120.9 110.5C121.1 111.1 121.4 111.8 121.6 112.4C121.8 113 122.1 113.6 122.3 114.3C122.6 114.9 122.9 115.5 123.1 116C123.4 116.6 123.7 117.2 123.9 117.7C124.2 118.2 124.5 118.7 124.8 119.2C125.1 119.6 125.4 120.1 125.6 120.4C125.9 120.8 126.2 121.1 126.5 121.4C126.8 121.7 127.1 121.9 127.5 122.1C127.8 122.3 128.1 122.4 128.4 122.4C128.7 122.5 129 122.5 129.3 122.4C129.6 122.4 129.9 122.3 130.2 122.1C130.5 121.9 130.8 121.7 131.2 121.4C131.5 121.1 131.8 120.8 132.1 120.4C132.4 120 132.7 119.6 132.9 119.1C133.2 118.6 133.5 118.1 133.8 117.5C134.1 117 134.4 116.4 134.6 115.8C134.9 115.1 135.2 114.5 135.5 113.8C135.7 113.1 136 112.4 136.2 111.7C136.5 111 136.7 110.3 137 109.6C137.2 108.9 137.4 108.2 137.7 107.5C137.9 106.8 138 106.7 138.3 105.4C138.6 104.2 139 101.6 139.6 100C140.2 98.4 141 97.2 141.9 96C142.8 94.8 144.5 93.5 145 93" fill="none" stroke="#111111" stroke-width="1.15"/><path d="M87.5 128C87.7 125.5 88.6 115.9 88.9 113.3C89.2 110.6 89.3 112.6 89.4 112.3C89.6 112 89.8 111.8 89.9 111.6C90.1 111.4 90.3 111.3 90.4 111.1C90.6 111 90.8 111 90.9 111C91.1 110.9 91.3 111 91.4 111C91.6 111.1 91.8 111.2 91.9 111.4C92.1 111.5 92.3 111.7 92.4 112C92.6 112.2 92.8 112.5 93 112.8C93.1 113.1 93.3 113.4 93.5 113.8C93.7 114.1 93.9 114.5 94.1 115C94.3 115.4 94.5 115.8 94.7 116.3C94.9 116.7 95.1 117.2 95.4 117.7C95.6 118.2 95.8 118.7 96 119.1C96.3 119.6 96.5 120.1 96.7 120.6C97 121.1 97.2 121.6 97.5 122C97.7 122.5 98 123 98.2 123.4C98.5 123.8 98.8 124.2 99 124.6C99.3 125 99.6 125.3 99.9 125.6C100.2 126 100.4 126.3 100.7 126.5C101 126.8 101.3 127 101.6 127.1C101.9 127.3 102.2 127.4 102.5 127.5C102.8 127.6 103.1 127.7 103.4 127.7C103.7 127.7 104 127.6 104.3 127.5C104.6 127.4 104.9 127.3 105.2 127.1C105.5 127 105.8 126.7 106.1 126.5C106.3 126.2 106.6 125.9 106.9 125.6C107.2 125.2 107.5 124.9 107.8 124.5C108.1 124 108.3 123.6 108.6 123.1C108.9 122.7 109.1 122.2 109.4 121.7C109.7 121.2 109.9 120.6 110.2 120.1C110.4 119.5 110.7 119 110.9 118.4C111.2 117.8 111.4 117.2 111.6 116.7C111.8 116.1 112.1 115.5 112.3 115C112.5 114.4 112.7 113.8 112.9 113.3C113.1 112.8 113.3 112.3 113.5 111.8C113.7 111.3 113.9 110.8 114.1 110.3C114.3 109.9 114.5 109.5 114.7 109.1C114.8 108.7 115 108.3 115.2 108C115.4 107.7 115.5 107.4 115.7 107.2C115.9 107 116 106.8 116.2 106.6C116.4 106.5 116.5 106.4 116.7 106.3C116.9 106.3 117 106.3 117.2 106.3C117.4 106.3 117.5 106.4 117.7 106.5C117.9 106.6 118 106.8 118.2 107C118.4 107.2 118.5 107.4 118.7 107.7C118.9 108 119.1 108.3 119.3 108.6C119.5 109 119.6 109.3 119.8 109.7C120 110.1 120.2 110.6 120.4 111C120.6 111.4 120.8 111.9 121.1 112.4C121.3 112.8 121.5 113.3 121.7 113.8C121.9 114.3 122.2 114.8 122.4 115.3C122.6 115.8 122.9 116.3 123.1 116.7C123.4 117.2 123.6 117.7 123.9 118.1C124.2 118.6 124.4 119 124.7 119.4C125 119.8 125.2 120.2 125.5 120.5C125.8 120.9 126.1 121.2 126.3 121.5C126.6 121.7 126.9 122 127.2 122.2C127.5 122.4 127.8 122.6 128.1 122.7C128.4 122.8 128.7 122.9 129 123C129.3 123 129.6 123 129.9 122.9C130.2 122.9 130.5 122.8 130.8 122.7C131.1 122.5 131.4 122.3 131.7 122.1C132 121.9 132.2 121.6 132.5 121.3C132.8 121 133.1 120.7 133.4 120.3C133.7 119.9 134 119.5 134.2 119.1C134.5 118.6 134.8 118.2 135 117.7C135.3 117.2 135.6 116.6 135.8 116.1C136.1 115.6 136.3 115 136.6 114.5C136.8 113.9 137.1 113.3 137.3 112.8C137.5 112.2 137.5 112.5 138 111.1C138.5 109.6 139.5 105.5 140.4 104C141.3 102.5 142.2 102.7 143.1 102C144 101.3 145.5 100.3 146 100" fill="none" stroke="#111111" stroke-width="1.15"/><path d="M84 103.7C84.4 104.8 85.5 107.9 86.6 110.3C87.7 112.7 89.5 115.6 90.6 118.3C91.7 121 92.3 124 93.2 126.2C94.1 128.4 95.5 130.6 95.9 131.5" fill="none" stroke="#111111" stroke-width="1.2"/><path d="M126.2 47.6C126.5 47.8 127.5 48.6 127.8 48.8" fill="none" stroke="#111111" stroke-width="1.2"/><path d="M125.6 54.3C125.4 55.3 124.9 58.2 124.5 60.1C124.1 62 123.5 64.9 123.3 65.9" fill="none" stroke="#111111" stroke-width="1.2"/><path d="M132 46.2C132.8 46.1 135.6 45.2 136.7 45.6C137.8 46 138.3 47.2 138.4 48.5C138.5 49.8 137.7 51.7 137.2 53.2C136.7 54.8 135.7 56.1 135.5 57.8C135.3 59.5 135.5 62.4 136.1 63.6C136.7 64.8 137.6 65.3 139 65.3C140.4 65.3 143.1 64.3 144.8 63.6C146.5 62.9 148.1 61.3 149.4 61.3C150.8 61.3 152 62.5 152.9 63.6C153.8 64.8 154.6 66.5 154.6 68.2C154.6 69.9 154 72.5 152.9 74C151.8 75.5 149.8 76.5 148.2 77.5C146.6 78.5 144.8 78.6 143.6 79.8C142.3 81 141.4 82.8 140.7 84.5C140 86.2 139.8 87.7 139.5 90.3C139.2 92.9 139 96.4 139 100C139 103.6 139.3 108.3 139.5 112C139.7 115.7 139.9 120.3 140 122" fill="none" stroke="#111111" stroke-width="1.2"/><path d="M144.8 52C145.8 52.2 148.9 52.4 150.6 53.2C152.3 54 154 55.2 155.2 56.7C156.3 58.2 157.1 60.3 157.5 62.4C157.9 64.5 157.9 67.3 157.5 69.4C157.1 71.5 156.3 73.7 155.2 75.2C154 76.8 152.1 77.6 150.6 78.7C149.1 79.8 147.3 80.5 146 82C144.7 83.5 143.7 85.7 143 88C142.3 90.3 142.2 92.7 142 96C141.8 99.3 141.9 104 142 108C142.1 112 142.4 118 142.5 120" fill="none" stroke="#111111" stroke-width="1.2"/><path d="M144.8 42.7C145.6 41.9 147.7 39.5 149.4 38.1C151.1 36.7 153.5 34.7 155.2 34.1C156.9 33.5 158.7 33.7 159.8 34.6C161 35.5 161.3 37.8 162.1 39.3C162.9 40.8 163.5 42.5 164.5 43.9C165.5 45.2 166.6 46.3 167.9 47.4C169.2 48.5 171.1 49.6 172.6 50.3C174.1 51 174.9 51.9 177.2 51.4C179.5 50.9 183.5 48.2 186.4 47.2C189.3 46.2 192.4 45.2 194.6 45.5C196.8 45.8 197.7 46.9 199.6 48.8C201.5 50.7 204 54.3 206.2 57.1C208.4 59.9 210.6 63.5 212.8 65.4C215 67.3 217 68.7 219.5 68.7C222 68.7 224.9 66.5 227.7 65.4C230.4 64.3 232.3 63.7 236 62.1C239.7 60.5 245.7 58 250 56C254.3 54 260 51 262 50" fill="none" stroke="#111111" stroke-width="1.2"/><ellipse cx="174" cy="37" rx="2.4" ry="3.3" fill="none" stroke="#111" stroke-width="1.2"/><path d="M120.4 76.4C121.6 76.4 125.3 75.8 127.4 76.4C129.5 77 131.8 78.3 133.2 79.8C134.5 81.3 134.9 83.5 135.5 85.6C136.1 87.7 136.3 90.2 136.7 92.6C137.1 95 137.6 97.1 137.8 100C138 102.9 137.9 106.5 138 110C138.1 113.5 138.4 119.2 138.5 121" fill="none" stroke="#111111" stroke-width="1.2"/><path d="M165 61C165.8 60.8 168.7 59.5 170 60C171.3 60.5 172.7 62 173 64C173.3 66 172.7 69.5 172 72C171.3 74.5 170.2 77.5 169 79C167.8 80.5 166 81.7 165 81C164 80.3 163.3 77.5 163 75C162.7 72.5 162.7 68.3 163 66C163.3 63.7 164.7 61.8 165 61C165.3 60.2 164.2 61.2 165 61Z" fill="none" stroke="#111111" stroke-width="1.2" stroke-dasharray="4 2.5"/><path d="M144.8 100C145 98.8 145.1 94.7 146 93C146.9 91.3 148.5 90.3 150 90C151.5 89.7 153.9 90.2 155 91C156.1 91.8 156.1 94.3 156.3 95" fill="none" stroke="#111111" stroke-width="1.2" stroke-dasharray="4 2.5"/><path d="M147 94C146.7 95.7 145.5 101 145 104C144.5 107 144 109.3 144 112C144 114.7 144.8 118.7 145 120" fill="none" stroke="#111111" stroke-width="1.2" stroke-dasharray="4 2.5"/><path d="M186.4 73.7C186.9 72.3 188 67.2 189.7 65.4C191.3 63.6 194.1 62.6 196.3 62.9C198.5 63.2 201.5 65.2 202.9 67C204.3 68.8 204.6 72 204.6 73.7C204.6 75.4 203.2 76.5 202.9 77" fill="none" stroke="#111111" stroke-width="1.2" stroke-dasharray="4 2.5"/><path d="M191.3 72C191.9 71.3 193.3 68.3 194.6 67.9C195.8 67.5 198 68.5 198.8 69.5C199.6 70.5 199.5 73 199.6 73.7" fill="none" stroke="#111111" stroke-width="1.2" stroke-dasharray="4 2.5"/><path d="M296 107C292.3 106.5 278.3 104 273.8 103.7C269.3 103.4 271.3 105 268.8 105.4C266.3 105.8 262.8 106.2 258.9 106.2C255 106.2 248.7 105.8 245.7 105.4C242.7 105 241.5 104 240.7 103.7" fill="none" stroke="#111111" stroke-width="1.2"/><path d="M296 101C292 101.2 277.3 101.8 272.2 102.1C267.1 102.4 268.3 103 265.5 102.9C262.7 102.8 257.8 102.3 255.6 101.3C253.4 100.3 252.3 98.6 252.3 97.1C252.3 95.6 253.9 94 255.6 92.1C257.2 90.2 261.1 86.6 262.2 85.5" fill="none" stroke="#111111" stroke-width="1.2"/><path d="M296 97C291.7 97.4 275.9 99.3 270 99.6C264.1 99.9 262.5 99.5 260.6 98.8C258.8 98.1 258.3 96.9 258.9 95.5C259.4 94.1 262.4 91.9 263.9 90.5C265.4 89.1 267.3 87.6 268 87" fill="none" stroke="#111111" stroke-width="1.2"/><path d="M296 93C292.3 93.3 279 94.8 274 95C269 95.2 267 94.7 266 94C265 93.3 267 91.8 268 91C269 90.2 271.3 89.3 272 89" fill="none" stroke="#111111" stroke-width="1.2"/><path d="M260.6 80.6C259.2 81.7 254.5 85 252.3 87.2C250.1 89.4 248.7 92.2 247.3 93.8C245.9 95.4 244.6 96.5 244 97.1" fill="none" stroke="#111111" stroke-width="1.2" stroke-dasharray="4 2.5"/><path d="M145.5 301.3C146.5 300.6 149.2 298.1 151.3 297.1C153.4 296.1 156 295.5 157.9 295.5C159.8 295.5 161.2 296.1 162.9 297.1C164.6 298.1 166.5 299.5 167.9 301.3C169.3 303.1 170.5 305.8 171.2 307.9C171.9 310 171.9 313 172 314" fill="none" stroke="#111111" stroke-width="1.2" stroke-dasharray="4 2.5"/><path d="M151.3 314C151.9 313 153.3 309.2 154.6 307.9C155.8 306.6 157.6 306.2 158.8 306.2C160.1 306.2 161.1 306.6 162.1 307.9C163.1 309.2 164.2 313 164.6 314" fill="none" stroke="#111111" stroke-width="1.2" stroke-dasharray="4 2.5"/>
</g>
<circle cx="145.2" cy="168.4" r="144.8" fill="none" stroke="#6a6a6a" stroke-width="1"/>
<g clip-path="url(#cb)">
<path d="M396.3 123 403.5 122.1 409.5 123.6 414.7 127 418.4 132 419.8 137 419.2 143 416.2 148 411.5 151.6 408.5 152.8 404.5 153.6 397.5 152.9 393.5 151.3 390.5 149.2 386.3 144 385.2 141 384.7 137 386.3 131 390.5 126 396.3 123Z" fill="#0b3366" fill-rule="evenodd"/><path d="M397.2 120 404.5 119.4 408.5 120.1 411.5 121.2 417.5 125.9 421.4 132 422.3 135 422.7 139 421.2 145 417.5 150.2 411.5 154.2 407.5 155.4 403.5 155.9 399.5 155.6 395.5 154.6 391.9 153 388.5 150.6 385.5 147.4 383.5 144 382.3 140 382.1 136 382.9 132 384.3 129 386.5 126 389.5 123.4 393.5 121.2 397.2 120ZM396.5 122.9 390.5 126 386.3 131 384.7 137 385.2 141 386.3 144 390.5 149.2 393.5 151.3 397.5 152.9 404.5 153.6 408.5 152.8 411.5 151.6 416.2 148 419.2 143 419.8 137 418.4 132 414.7 127 409.5 123.6 403.5 122.1 396.5 122.9Z" fill="#144b8c" fill-rule="evenodd"/><path d="M398.1 117 407.5 116.5 413.5 118.3 416.5 120.5 420.5 124.9 423.1 129 424.7 133 425.4 137 425.2 141 424.1 145 422.6 148 417.5 153.5 410.5 157 405.5 158 400.5 158 395.5 157 391.5 155.4 387.7 153 384.5 150 381.7 146 380 142 379.4 138 379.6 134 380.7 130 382.9 126 385.6 123 389.5 120.1 393.5 118.2 398.1 117ZM397.5 119.9 393.5 121.2 390.1 123 386.5 126 384.5 128.6 382.9 132 382.1 136 382.3 140 383.1 143 385.2 147 387.5 149.7 390.5 152.1 394.5 154.3 398.5 155.5 402.5 155.9 406.5 155.6 410.5 154.6 416.7 151 419.5 148 421.2 145 422.7 139 422.5 136 421.5 132.2 417.5 125.9 411.5 121.2 405.5 119.5 397.5 119.9Z" fill="#2363aa" fill-rule="evenodd"/><path d="M405.7 113 414.5 112.3 417.5 113.1 426.9 130 428.2 135 428.2 141 427.1 145 425.1 149 421.9 153 418.5 155.8 414.5 158 409.5 159.7 404.5 160.4 399.5 160.2 394.5 159.1 389.6 157 385.5 154.3 382.1 151 379.3 147 377.5 143 376.7 139 376.7 134 377.6 130 379.5 125.9 382.5 122 385.9 119 389.5 116.8 394.5 114.9 405.7 113ZM398.5 116.9 393.5 118.2 389.5 120.1 385.6 123 382.9 126 380.7 130 379.6 134 379.4 138 380 142 381.7 146 384.5 150 387.7 153 391.5 155.4 395.5 157 400.5 158 405.5 158 409.5 157.3 416.8 154 420.3 151 422.6 148 424.1 145 425.2 141 425.4 137 424.7 133 423.1 129 420.5 124.9 416.5 120.5 413.5 118.3 407.5 116.5 398.5 116.9Z" fill="#2f78b9" fill-rule="evenodd"/><path d="M468.9 83 470.5 83 471.4 84 471.2 88 468.5 92.5 466.5 94.1 464.5 94.5 463.5 94 463.1 93 463.5 89 466 85 468.9 83ZM425.4 102 429.5 102.3 430.8 103 431.6 105 430.5 107.9 426.5 113 425.3 116 425.8 120 430.7 131 431.6 137 431.3 141 430.3 145 426.5 152 422.5 156.1 417.5 159.4 412.5 161.4 406.5 162.6 400.5 162.7 394.5 161.6 389.5 159.7 384.5 156.7 380.3 153 377.3 149 375.2 145 373.8 140 373.5 135 374.1 131 375.9 126 378.3 122 383.3 117 389.5 113.3 395.5 111.3 409.5 108.4 421.5 103 425.4 102ZM406.5 112.9 394.5 114.9 386.5 118.6 382.5 122 380.1 125 378 129 376.8 133 376.6 138 377.2 142 378.7 146 381.2 150 384.5 153.5 388.5 156.4 392.5 158.4 397.5 159.8 402.5 160.4 407.5 160.1 412.5 158.8 417.5 156.5 421.5 153.4 424.5 150 426.7 146 428 142 428.3 136 427.3 131 425.5 127 417.5 113.1 414.5 112.3 406.5 112.9Z" fill="#4191c6" fill-rule="evenodd"/><path d="M468.7 79 470.5 78.3 472.5 78.4 474.4 80 475.1 83 474.1 88 471.6 93 468.5 96.6 464.5 99.2 461.5 99.5 459.6 98 459 96 460 90 463.5 83.7 465.9 81 468.7 79ZM469.5 82.9 466.5 84.5 463.5 89 463.1 93 463.5 94 464.5 94.5 467.5 93.4 470.8 89 471.5 86.9 471.5 84.4 470.5 83 469.5 82.9ZM425.7 99 430.5 98.8 433.5 99.6 435.6 101 436.5 103 435.7 107 431.2 114 430.3 117 430.6 120 434.4 130 435.2 137 433.9 145 430.4 152 426.5 156.5 421.5 160.4 415.5 163.3 408.5 165 401.5 165.3 394.5 164.3 388.5 162.2 382.5 158.7 378.2 155 374.3 150 371.8 145 370.5 140 370.1 135 370.7 130 372.4 125 375.3 120 381.2 114 388.5 109.8 394.5 107.9 407.5 105.1 420.5 100.3 425.7 99ZM425.5 102 421.5 103 409.5 108.4 395.5 111.3 389.5 113.3 383.3 117 378.3 122 375.9 126 374.1 131 373.5 135 373.8 140 375.2 145 377.3 149 380.3 153 384.5 156.7 389.5 159.7 394.5 161.6 400.5 162.7 406.5 162.6 412.5 161.4 417.5 159.4 422.5 156.1 426.5 152 430.3 145 431.3 141 431.6 137 430.7 131 425.8 120 425.3 116 426.5 113 430.5 107.9 431.6 105 430.8 103 429.5 102.3 425.5 102Z" fill="#5ea6d1" fill-rule="evenodd"/><path d="M470.2 75 472.5 74.4 474.5 74.7 477 77 477.8 82 476.1 89 472.5 95.6 467.5 100.9 462.5 103.8 458.5 103.9 455.9 102 455 99 455.2 96 456.7 91 459.2 86 462.6 81 466.5 77.1 470.2 75ZM469.5 78.6 466.5 80.5 464 83 460 90 459 96 459.6 98 461.5 99.5 464.5 99.2 468.5 96.6 471.6 93 474.1 88 475 84 474.5 80.2 472.5 78.4 469.5 78.6ZM422.5 97 429.5 96.1 435.5 96.7 439.7 99 441.3 102 440.7 106 436.9 113 435.9 116 436.2 120 439.2 130 439.6 136 438.4 144 434.8 152 430.5 157.4 425 162 418.5 165.4 411.5 167.6 404.5 168.3 396.5 167.7 389.5 165.9 382.5 162.5 377.5 158.8 372.9 154 369.7 149 367.3 143 366.2 137 366.4 131 367.9 125 370.8 119 373.8 115 377.5 111.4 381.5 108.5 386.5 105.9 393.5 103.6 408.5 101 422.5 97ZM426.5 98.9 420.5 100.3 407.5 105.1 394.5 107.9 388.5 109.8 381.2 114 375.3 120 372.4 125 370.7 130 370.1 135 370.5 140 371.8 145 374.3 150 378.2 155 382.5 158.7 388.5 162.2 394.5 164.3 400.5 165.3 407.5 165.2 414.5 163.6 420.4 161 425.5 157.4 429.7 153 432.2 149 433.9 145 435.2 137 434.4 130 430.6 120 430.3 117 431.2 114 435.7 107 436.5 103 435.6 101 433.5 99.6 430.5 98.8 426.5 98.9Z" fill="#80bbdd" fill-rule="evenodd"/><path d="M471.7 71 474.5 70.6 476.6 71 478.5 72.3 480.1 75 480.7 78 480.5 82 478.2 90 475.6 95 472.5 99.5 468.5 103.8 464.5 106.9 461.5 108.6 457.5 109.8 448.5 109.3 445.5 111.8 444.4 114 443.9 117 445.4 132 445 138 444 143 442.2 148 439.6 153 435.9 158 431.7 162 424.5 166.8 416.5 170.1 408.5 171.6 399.5 171.7 391.5 170.3 383.5 167.3 376.5 163 370 157 365.8 151 363 145 361.4 138 361.3 131 362.7 124 365.2 118 369.1 112 374.1 107 378.5 103.7 384.5 100.6 389.5 98.8 395.5 97.5 409.5 96.3 424.5 93.7 430.5 93.2 436.5 93.6 446.5 96.4 448.5 96.2 451.5 93.5 458 83 461.8 78 466.5 73.7 471.7 71ZM423.5 96.8 408.3 101 393.5 103.6 386.5 105.9 381.5 108.5 377.5 111.4 373.8 115 370.8 119 367.9 125 366.4 131 366.2 137 367.3 143 369.7 149 372.9 154 377.5 158.8 382.5 162.5 389.5 165.9 396.5 167.7 404.5 168.3 411.5 167.6 418.5 165.4 425 162 430.5 157.4 434.8 152 438.4 144 439.6 136 439.2 130 436.2 120 435.9 116 436.9 113 440.7 106 441.3 102 439.7 99 435.5 96.7 430.5 96.1 423.5 96.8ZM470.5 74.9 466.5 77.1 462.6 81 459.2 86 456.7 91 455.2 96 455 99 455.9 102 458.5 103.9 462.5 103.8 467.5 100.9 472.5 95.6 476.1 89 477.7 83 477.4 78 476.4 76 474.5 74.7 470.5 74.9Z" fill="#a3cfe6" fill-rule="evenodd"/><path d="M471.2 67 474.5 66.2 477.5 66.2 480.5 67.6 482.5 70 483.8 74 484.1 78 483.4 83 482 88 478.9 95 473.7 103 468.5 108.9 458.7 118 456.5 121 454.6 126 451.9 141 449.1 149 444.4 157 437.5 164.4 428.5 170.5 419.5 174.3 409.5 176.3 399.5 176.4 389.5 174.6 379.5 170.8 371.5 165.7 364.4 159 359.5 152 356.3 145 354.5 137 354.4 129 356 121 358.8 114 363.3 107 369.5 100.6 374.5 96.9 380.5 93.6 386.5 91.3 393.5 89.7 400.5 89.2 417.5 90 443.5 89.8 446.5 89.4 450.5 86.8 458.4 77 462.5 72.7 466.5 69.5 471.2 67ZM472.5 70.8 467.5 73 462.5 77.3 458 83 451.5 93.5 448.5 96.2 446.5 96.4 436.5 93.6 430.5 93.2 424.5 93.7 409.5 96.3 395.5 97.5 389.5 98.8 384.5 100.6 379.5 103.1 374.5 106.6 369.5 111.6 365.7 117 363 123 361.4 130 361.3 137 362.7 144 365.2 150 369.2 156 375.2 162 382.5 166.8 390.5 170 399.5 171.7 408.5 171.6 416.5 170.1 424.5 166.8 431.5 162.2 435.9 158 439 154 441.8 149 444 143 445 138 445.4 132 443.9 117 444.4 114 445.5 111.8 448.5 109.3 457.5 109.8 461.5 108.6 464.5 106.9 468.5 103.8 472.1 100 477.8 91 480.3 83 480.4 76 479.5 73.7 477.5 71.5 475.5 70.7 472.5 70.8Z" fill="#c5e0ef" fill-rule="evenodd"/><path d="M473.2 60 476.5 59.4 480.5 59.7 483.6 61 486.6 64 488.3 68 489.1 73 489 78 487.9 84 486.1 90 483.1 97 471.8 116 468.8 122 466.9 128 463.4 143 460.4 151 454.9 160 447.5 168 437.5 175.2 425.5 180.6 413.5 183.4 400.5 184 388.5 182.3 382.5 180.6 375.5 177.8 364.5 171.2 355.5 163 349.6 155 345.4 146 343.2 137 342.9 127 344.7 117 348.7 107 354.5 98.2 361.5 90.9 368.5 85.6 375.5 81.8 383.5 78.8 392.5 76.9 399.5 76.5 407.5 77 431.5 82.1 437.5 82.1 441.5 81.4 447.5 78.3 463.5 64.7 468.5 61.8 473.2 60ZM471.5 66.9 466.5 69.5 462.5 72.7 458.4 77 450.5 86.8 446.5 89.4 443.5 89.8 417.5 90 400.5 89.2 393.5 89.7 386.5 91.3 380.5 93.6 374.5 96.9 369.5 100.6 363.3 107 358.8 114 356 121 354.4 129 354.5 137 356.3 145 359.5 152 364.4 159 371.5 165.7 379.5 170.8 389.5 174.6 399.5 176.4 409.5 176.3 419.5 174.3 428.5 170.5 437.5 164.4 444.4 157 449.1 149 451.9 141 454.6 126 456.5 121 458.7 118 468.5 108.9 473.7 103 478.9 95 482 88 483.4 83 484.1 78 483.8 74 482.5 70 480.5 67.6 478.5 66.5 475.5 66.1 471.5 66.9Z" fill="#dcebf5" fill-rule="evenodd"/><path d="M388 66C388 67.3 387.5 68.8 386.7 70C385.8 71.2 384.4 72.3 383 72.9C381.6 73.6 379.7 74 378 74C376.3 74 374.4 73.6 373 72.9C371.6 72.3 370.2 71.2 369.3 70C368.5 68.8 368 67.3 368 66C368 64.7 368.5 63.2 369.3 62C370.2 60.8 371.6 59.7 373 59.1C374.4 58.4 376.3 58 378 58C379.7 58 381.6 58.4 383 59.1C384.4 59.7 385.8 60.8 386.7 62C387.5 63.2 388 64.7 388 66Z" fill="#dcebf5" filter="url(#b2)"/><path d="M366 70C369.7 65.3 375.7 64 380 64C384.3 64 390.7 66.3 392 70C393.3 73.7 391.3 81.3 388 86C384.7 90.7 376.3 95 372 98C367.7 101 364.3 105 362 104C359.7 103 357.3 97.7 358 92C358.7 86.3 362.3 74.7 366 70Z" fill="#dcebf5" filter="url(#b2)"/><path d="M492 60C493.7 56.7 501.3 54.3 506 54C510.7 53.7 515 56.3 520 58C525 59.7 531.7 61.7 536 64C540.3 66.3 547 69.3 546 72C545 74.7 536 78.7 530 80C524 81.3 515.7 81 510 80C504.3 79 499 77.3 496 74C493 70.7 490.3 63.3 492 60Z" fill="#fde2d3" filter="url(#b2)"/><path d="M515 68C515 69.5 514.5 71.2 513.7 72.5C512.8 73.8 511.4 75 510 75.8C508.6 76.5 506.7 77 505 77C503.3 77 501.4 76.5 500 75.8C498.6 75 497.2 73.8 496.3 72.5C495.5 71.2 495 69.5 495 68C495 66.5 495.5 64.8 496.3 63.5C497.2 62.2 498.6 61 500 60.2C501.4 59.5 503.3 59 505 59C506.7 59 508.6 59.5 510 60.2C511.4 61 512.8 62.2 513.7 63.5C514.5 64.8 515 66.5 515 68Z" fill="#fbcab0" filter="url(#b2)"/><path d="M510 69C510 69.8 509.7 70.8 509.3 71.5C508.9 72.2 508.2 72.9 507.5 73.3C506.8 73.7 505.8 74 505 74C504.2 74 503.2 73.7 502.5 73.3C501.8 72.9 501.1 72.2 500.7 71.5C500.3 70.8 500 69.8 500 69C500 68.2 500.3 67.2 500.7 66.5C501.1 65.8 501.8 65.1 502.5 64.7C503.2 64.3 504.2 64 505 64C505.8 64 506.8 64.3 507.5 64.7C508.2 65.1 508.9 65.8 509.3 66.5C509.7 67.2 510 68.2 510 69Z" fill="#f7b292" filter="url(#b1)"/><path d="M500 150C498 145 504 134.3 508 128C512 121.7 518 116.7 524 112C530 107.3 537 103.3 544 100C551 96.7 558.3 93.7 566 92C573.7 90.3 583.7 89.3 590 90C596.3 90.7 601.7 82.7 604 96C606.3 109.3 606.3 159 604 170C601.7 181 595.3 164.3 590 162C584.7 159.7 577.7 157.7 572 156C566.3 154.3 561.3 152 556 152C550.7 152 546 155 540 156C534 157 526.7 159 520 158C513.3 157 502 155 500 150Z" fill="#dcebf5" filter="url(#b2)"/><path d="M552.3 104.4C552.9 105.2 552.9 106.6 552.4 108C551.8 109.4 550.6 111.3 549.1 113C547.6 114.6 545.5 116.5 543.4 117.9C541.4 119.3 538.9 120.7 536.8 121.6C534.8 122.4 532.6 122.9 531.1 122.9C529.6 122.9 528.3 122.4 527.7 121.6C527.1 120.8 527.1 119.4 527.6 118C528.2 116.6 529.4 114.7 530.9 113C532.4 111.4 534.5 109.5 536.6 108.1C538.6 106.7 541.1 105.3 543.2 104.4C545.2 103.6 547.4 103.1 548.9 103.1C550.4 103.1 551.7 103.6 552.3 104.4Z" fill="#80bbdd" filter="url(#b2)"/><path d="M545.7 108C546 108.4 546.1 109.1 545.8 109.8C545.6 110.4 545 111.3 544.4 112.1C543.7 112.9 542.7 113.8 541.7 114.5C540.8 115.1 539.6 115.8 538.6 116.1C537.7 116.5 536.6 116.7 535.9 116.7C535.2 116.7 534.6 116.4 534.3 116C534 115.6 533.9 114.9 534.2 114.2C534.4 113.6 535 112.7 535.6 111.9C536.3 111.1 537.3 110.2 538.3 109.5C539.2 108.9 540.4 108.2 541.4 107.9C542.3 107.5 543.4 107.3 544.1 107.3C544.8 107.3 545.4 107.6 545.7 108Z" fill="#4191c6" filter="url(#b1)"/><path d="M560 134C561 130.3 567 127 572 126C577 125 585.3 125.7 590 128C594.7 130.3 599 136 600 140C601 144 599.3 149.7 596 152C592.7 154.3 585 154.7 580 154C575 153.3 569.3 151.3 566 148C562.7 144.7 559 137.7 560 134Z" fill="#a3cfe6" filter="url(#b2)"/><path d="M584 140C584 140.8 583.6 141.8 582.9 142.5C582.3 143.2 581.2 143.9 580 144.3C578.8 144.7 577.3 145 576 145C574.7 145 573.2 144.7 572 144.3C570.8 143.9 569.7 143.2 569.1 142.5C568.4 141.8 568 140.8 568 140C568 139.2 568.4 138.2 569.1 137.5C569.7 136.8 570.8 136.1 572 135.7C573.2 135.3 574.7 135 576 135C577.3 135 578.8 135.3 580 135.7C581.2 136.1 582.3 136.8 582.9 137.5C583.6 138.2 584 139.2 584 140Z" fill="#5ea6d1" filter="url(#b2)"/><path d="M530 149C530 149.8 529.5 150.8 528.6 151.6C527.6 152.4 526 153.2 524.4 153.8C522.7 154.4 520.4 154.8 518.4 155C516.4 155.2 514.2 155.1 512.4 154.8C510.6 154.6 508.9 154 507.9 153.4C506.8 152.8 506.1 151.9 506 151C506 150.2 506.5 149.2 507.4 148.4C508.4 147.6 510 146.8 511.6 146.2C513.3 145.6 515.6 145.2 517.6 145C519.6 144.8 521.8 144.9 523.6 145.2C525.4 145.4 527.1 146 528.1 146.6C529.2 147.2 529.9 148.1 530 149Z" fill="#c5e0ef" filter="url(#b2)"/><path d="M392 186C395 182.7 404 180.7 410 180C416 179.3 423.7 180.3 428 182C432.3 183.7 434.3 186.3 436 190C437.7 193.7 438.3 199 438 204C437.7 209 435.7 215 434 220C432.3 225 430.3 230.7 428 234C425.7 237.3 422.3 240.3 420 240C417.7 239.7 415.3 235 414 232C412.7 229 413.7 223.7 412 222C410.3 220.3 406.7 223.3 404 222C401.3 220.7 398 217.7 396 214C394 210.3 392.7 204.7 392 200C391.3 195.3 389 189.3 392 186Z" fill="#dcebf5" filter="url(#b2)"/><path d="M479.9 258.3C480.5 262.6 480.6 267.6 480.1 271.4C479.6 275.3 478.5 279.1 477.1 281.5C475.7 283.8 473.6 285.5 471.6 285.7C469.6 286 467.2 285 465.2 283.1C463.2 281.2 461 277.9 459.5 274.3C458 270.7 456.7 266 456.1 261.7C455.5 257.4 455.4 252.4 455.9 248.6C456.4 244.7 457.5 240.9 458.9 238.5C460.3 236.2 462.4 234.5 464.4 234.3C466.4 234 468.8 235 470.8 236.9C472.8 238.8 475 242.1 476.5 245.7C478 249.3 479.3 254 479.9 258.3Z" fill="#dcebf5" filter="url(#b2)"/><path d="M474.9 261C475.3 263.8 475.4 267.1 475.2 269.6C474.9 272.1 474.3 274.5 473.5 276.1C472.7 277.6 471.5 278.7 470.4 278.8C469.2 279 467.8 278.3 466.6 277.1C465.4 275.8 464.1 273.6 463.2 271.3C462.3 268.9 461.5 265.8 461.1 263C460.7 260.2 460.6 256.9 460.8 254.4C461.1 251.9 461.7 249.5 462.5 247.9C463.3 246.4 464.5 245.3 465.6 245.2C466.8 245 468.2 245.7 469.4 246.9C470.6 248.2 471.9 250.4 472.8 252.7C473.7 255.1 474.5 258.2 474.9 261Z" fill="#a3cfe6" filter="url(#b2)"/><path d="M472 263.6C472.2 264.9 472.2 266.4 472.1 267.6C472 268.8 471.8 269.9 471.4 270.7C471.1 271.4 470.6 271.9 470.1 271.9C469.6 272 469 271.7 468.5 271.1C468 270.5 467.4 269.4 467 268.3C466.6 267.2 466.2 265.7 466 264.4C465.8 263.1 465.8 261.6 465.9 260.4C466 259.2 466.2 258.1 466.6 257.3C466.9 256.6 467.4 256.1 467.9 256.1C468.4 256 469 256.3 469.5 256.9C470 257.5 470.6 258.6 471 259.7C471.4 260.8 471.8 262.3 472 263.6Z" fill="#5ea6d1" filter="url(#b1)"/><path d="M558 196C558 197.2 557.7 198.5 557.2 199.5C556.7 200.5 555.9 201.5 555 202.1C554.1 202.6 553 203 552 203C551 203 549.9 202.6 549 202.1C548.1 201.5 547.3 200.5 546.8 199.5C546.3 198.5 546 197.2 546 196C546 194.8 546.3 193.5 546.8 192.5C547.3 191.5 548.1 190.5 549 189.9C549.9 189.4 551 189 552 189C553 189 554.1 189.4 555 189.9C555.9 190.5 556.7 191.5 557.2 192.5C557.7 193.5 558 194.8 558 196Z" fill="#c5e0ef" filter="url(#b2)"/><path d="M409 306C409 308 408.5 310.3 407.8 312C407 313.7 405.8 315.4 404.5 316.4C403.2 317.4 401.5 318 400 318C398.5 318 396.8 317.4 395.5 316.4C394.2 315.4 393 313.7 392.2 312C391.5 310.3 391 308 391 306C391 304 391.5 301.7 392.2 300C393 298.3 394.2 296.6 395.5 295.6C396.8 294.6 398.5 294 400 294C401.5 294 403.2 294.6 404.5 295.6C405.8 296.6 407 298.3 407.8 300C408.5 301.7 409 304 409 306Z" fill="#c5e0ef" filter="url(#b2)"/><path d="M404 307C404 308.2 403.8 309.5 403.5 310.5C403.1 311.5 402.6 312.5 402 313.1C401.4 313.6 400.7 314 400 314C399.3 314 398.6 313.6 398 313.1C397.4 312.5 396.9 311.5 396.5 310.5C396.2 309.5 396 308.2 396 307C396 305.8 396.2 304.5 396.5 303.5C396.9 302.5 397.4 301.5 398 300.9C398.6 300.4 399.3 300 400 300C400.7 300 401.4 300.4 402 300.9C402.6 301.5 403.1 302.5 403.5 303.5C403.8 304.5 404 305.8 404 307Z" fill="#a3cfe6" filter="url(#b1)"/><path d="M426 310C426 311 425.7 312.1 425.2 313C424.7 313.9 423.9 314.7 423 315.2C422.1 315.7 421 316 420 316C419 316 417.9 315.7 417 315.2C416.1 314.7 415.3 313.9 414.8 313C414.3 312.1 414 311 414 310C414 309 414.3 307.9 414.8 307C415.3 306.1 416.1 305.3 417 304.8C417.9 304.3 419 304 420 304C421 304 422.1 304.3 423 304.8C423.9 305.3 424.7 306.1 425.2 307C425.7 307.9 426 309 426 310Z" fill="#fde2d3" filter="url(#b2)"/><path d="M489 312C489 313.7 488.2 315.6 486.9 317C485.5 318.4 483.3 319.8 481 320.7C478.7 321.5 475.7 322 473 322C470.3 322 467.3 321.5 465 320.7C462.7 319.8 460.5 318.4 459.1 317C457.8 315.6 457 313.7 457 312C457 310.3 457.8 308.4 459.1 307C460.5 305.6 462.7 304.2 465 303.3C467.3 302.5 470.3 302 473 302C475.7 302 478.7 302.5 481 303.3C483.3 304.2 485.5 305.6 486.9 307C488.2 308.4 489 310.3 489 312Z" fill="#fde2d3" filter="url(#b2)"/><path d="M481 314C481 315 480.6 316.1 479.9 317C479.3 317.9 478.2 318.7 477 319.2C475.8 319.7 474.3 320 473 320C471.7 320 470.2 319.7 469 319.2C467.8 318.7 466.7 317.9 466.1 317C465.4 316.1 465 315 465 314C465 313 465.4 311.9 466.1 311C466.7 310.1 467.8 309.3 469 308.8C470.2 308.3 471.7 308 473 308C474.3 308 475.8 308.3 477 308.8C478.2 309.3 479.3 310.1 479.9 311C480.6 311.9 481 313 481 314Z" fill="#fbcab0" filter="url(#b2)"/><path d="M512 306C512 306.8 511.7 307.8 511.2 308.5C510.7 309.2 509.9 309.9 509 310.3C508.1 310.7 507 311 506 311C505 311 503.9 310.7 503 310.3C502.1 309.9 501.3 309.2 500.8 308.5C500.3 307.8 500 306.8 500 306C500 305.2 500.3 304.2 500.8 303.5C501.3 302.8 502.1 302.1 503 301.7C503.9 301.3 505 301 506 301C507 301 508.1 301.3 509 301.7C509.9 302.1 510.7 302.8 511.2 303.5C511.7 304.2 512 305.2 512 306Z" fill="#fde2d3" filter="url(#b2)"/><path d="M441.9 24 440.8 28.6 438.4 33.3 436.1 37.9 433.8 40.2 432.6 47.2 431.5 54.1 430.3 61.1 428.7 68 424.5 72.7 419.9 77.3 414.1 80.8 408.3 83.1 401.4 84.3 394.4 85.4 387.4 84.3 385.1 82 389.8 77.3 387.4 73.8 382.8 72.7 380.5 69.2 384 65.7 380.5 63.4 377.9 67 377 72 378.7 77 377 82 379.5 86.9 382 91.9 379.5 95.2 377.9 100.2 376.2 105.1 377 110.1 375.4 116.7 374.6 123.3 368.9 126 361.9 128 354.9 131 348.9 133" fill="none" stroke="#9a9a9a" stroke-width="1.6" stroke-linejoin="round"/><path d="M406.8 30.6 412.6 33.9 413.5 42.2 411.8 50.5 411 57.1 409.3 62.1 405.2 61.3 404.4 56.3 406 48.8 403.5 40.6 401.9 35.6 405.2 31.5 406.8 30.6" fill="none" stroke="#9a9a9a" stroke-width="1.6" stroke-linejoin="round"/><path d="M378.7 44 381.9 43.5 384.5 46 382.9 48.8 379.4 48 378.7 44" fill="none" stroke="#9a9a9a" stroke-width="1.6" stroke-linejoin="round"/><path d="M372.1 55 375.9 54.6 379.5 57 376.9 59.6 372.9 58.5 372.1 55" fill="none" stroke="#9a9a9a" stroke-width="1.6" stroke-linejoin="round"/><path d="M377 116.6 380.4 118.2 385.3 121.5 390.3 128.1 392.8 138.1 394.4 145.5 396.1 144.7 394.4 138.1 392.8 128.1 388.6 119.9 383.7 114.9 378.9 114.5 377 116.6" fill="none" stroke="#9a9a9a" stroke-width="1.6" stroke-linejoin="round"/><path d="M348.9 133.1 355.5 138.1 362.1 139.7 367.1 143 368.8 148 365.5 151.3 368.8 154.6 373.7 159.6 379 160 381.4 164.6 388.3 171.6 391.8 178.5 395.3 183.2 392.9 187.8 388.3 191.3 383.7 192.5 377.9 192.5 383.7 194.8 384.8 200.6 383.7 206.4 386 211 389.5 215.6 388.3 222.6 384.8 227.2 389.5 230.7 396.4 234.2 399.9 231.9 403.4 236.5 406.9 241.1 408.9 240 412.2 245 415.5 249.9 418.8 253.2 420.5 258.2 425.5 259.9 430.4 261.5 433.7 263.2 437 262.4 437.9 264.8 442 264.8 447 265.7 451.9 268.1 456.9 271.5 460.2 274.8 463.5 278.1 466.8 281.4 470.2 284.7 471 288 468.5 289.7 465.2 288 461.9 286.4 458.6 288 456.9 284.7 455.3 282.2 453.6 284.7 451.9 288 448.6 289.7 450.3 294.6 448.6 297.9 445.3 301.3 438.7 302.9 433.7 304.6 428.8 306.2 423.8 307.9 418.8 309.5 413.9 307.9 410.6 306.2 408.9 304.6 404.8 300 396.9 298 388.9 300 382.9 304" fill="none" stroke="#9a9a9a" stroke-width="1.6" stroke-linejoin="round"/><path d="M408.9 303 413.9 297.9 417.2 296.3 418.8 297.9 414.9 301" fill="none" stroke="#9a9a9a" stroke-width="1.6" stroke-linejoin="round"/><path d="M404.9 169 411.5 171.6 407.9 175 403.9 179 399.9 183 396.9 181 400.9 176 404.9 169" fill="none" stroke="#9a9a9a" stroke-width="1.6" stroke-linejoin="round"/><path d="M405.7 229.5 408 220.3 411.5 219.1 414.9 223.7 418.4 228.4 417.3 230.7 413.8 227.2 410.3 229.5 406.9 231.9 405.7 229.5" fill="none" stroke="#9a9a9a" stroke-width="1.6" stroke-linejoin="round"/><path d="M414.9 140 417.9 137 420.9 139 419.9 143 416.9 146 414.9 144 414.9 140" fill="none" stroke="#9a9a9a" stroke-width="1.6" stroke-linejoin="round"/><path d="M416.9 147 419.9 146 420.9 150 417.9 151 416.9 147" fill="none" stroke="#9a9a9a" stroke-width="1.6" stroke-linejoin="round"/><path d="M431.7 122 434.9 121.5 436.6 124 433.9 126.5 431.9 125 431.7 122" fill="none" stroke="#9a9a9a" stroke-width="1.6" stroke-linejoin="round"/><path d="M508.9 246.6 501.6 248.3 495 249.9 490 251.6 486.7 254.9 485.1 258.2 483.4 261.5 481.7 264.8 480.1 268.1 479.3 271.5 481.7 273.1 485.1 274.8 486.7 278.1 481.7 279.7 480.1 283 483.4 284.7 488.4 284.7 493.3 286.4 495 289.7 491.7 293 490 297.9 488.4 302.9 490 306.2 495 307.9 498.3 306.2" fill="none" stroke="#9a9a9a" stroke-width="1.6" stroke-linejoin="round"/><path d="M473.5 293 476.8 293.5 474.9 295" fill="none" stroke="#9a9a9a" stroke-width="1.6" stroke-linejoin="round"/><path d="M508.9 246.6 513.5 242.6 520.8 240.1 523.3 232.8 525.7 225.5 530.6 220.6 535.4 215.8 537.9 210.9 542.7 206 547.6 203.6 550.1 198.7 547.6 193.8 550.1 189 554.9 184.1 557.4 179.2 559.8 176.8" fill="none" stroke="#9a9a9a" stroke-width="1.6" stroke-linejoin="round"/><path d="M518.2 204.6 522.6 201.6 527.1 203.1 530.1 207.6 533.1 210.6 536.1 207.6 540.5 204.6 545 203.1 549.5 201.6 553.9 198.6 558.4 197.2 562.9 194.2 567.3 192.7" fill="none" stroke="#9a9a9a" stroke-width="1.6" stroke-linejoin="round"/><path d="M548.9 232 549.9 224 552.9 221 555.9 226 557.4 233 553.9 235 550.9 230" fill="none" stroke="#9a9a9a" stroke-width="1.6" stroke-linejoin="round"/><path d="M574.9 212 576.9 216 578.9 222 580.9 228 578.9 231 575.9 226 574.9 218 574.9 212" fill="none" stroke="#9a9a9a" stroke-width="1.6" stroke-linejoin="round"/><path d="M520.9 298.6 523.3 288.9 528.1 287.6 533 286.4 537.9 284 545.2 282.8" fill="none" stroke="#9a9a9a" stroke-width="1.6" stroke-linejoin="round"/><path d="M483.7 53.8 488.6 50.5 495.3 48.8 501.9 51.3 503.5 56.3 501.9 60.4 498.6 62.1 496.9 67 495.3 73.7 491.9 78.6 490.3 82 488.6 86.9 487 91.9 483.7 96.8 480.4 100.2 477.3 100 476 104 473.3 107.9 470.7 111.9 468 117.2 465.4 121.2 462.7 126.5 463.4 129.1 466.7 130.5 469.4 129.1 471.4 131.8 470.7 134.4 468 135.8 466.7 137.1 469.4 139.7 472 142.4 476 143.7 480 145 483.9 146.4 486.6 149 487.9 150.3 490.6 149 494.5 150.3 498.5 149 502.5 150.3 506.4 149 510.4 150.3 513.1 149 515.7 147.7 518.9 146.4" fill="none" stroke="#9a9a9a" stroke-width="1.6" stroke-linejoin="round"/><path d="M485.3 153 487.9 157 489.2 160.9 487.9 164.9 489.2 170" fill="none" stroke="#9a9a9a" stroke-width="1.6" stroke-linejoin="round"/><path d="M483.7 53.8 482 57.1 484.5 59.6 488.6 62.1 491.9 60.4" fill="none" stroke="#9a9a9a" stroke-width="1.6" stroke-linejoin="round"/><path d="M511.8 73.7 520.1 75.3 528.4 77 535 73.7 541.6 70.4 548.9 67 556.2 64" fill="none" stroke="#9a9a9a" stroke-width="1.6" stroke-linejoin="round"/><path d="M556.2 64 557.9 70.6 556.2 77.2 554.6 85.5 552.9 92.1 549.6 98.8 544.6 102.1 541.3 103.7 538 105.4 533 108.7 528.1 112 524.8 115.3 523.1 120.3 519.8 126.9 516.5 133.5 513.2 138.5 509.9 143.5 506.6 150.1" fill="none" stroke="#9a9a9a" stroke-width="1.6" stroke-linejoin="round"/><path d="M562.9 113.7 559.5 118.6 557.9 125.3 554.6 130.2 551.3 133.5 547.9 138.5 546.3 143.5 544.6 150.1 547.9 155.1 546.3 160 548.9 166 552.4 170" fill="none" stroke="#9a9a9a" stroke-width="1.6" stroke-linejoin="round"/><path d="M577.7 112 576.1 118.6 572.8 122 574.4 126.9 571.1 133.5 573.9 140 570.9 146 574.9 152 578.9 158" fill="none" stroke="#9a9a9a" stroke-width="1.6" stroke-linejoin="round"/><path d="M587.7 110.4 590.9 117 594.3 123.6 594.3 130.2 590.9 136.8 592.6 143.5 595.9 150.1 594.9 158 597.9 165" fill="none" stroke="#9a9a9a" stroke-width="1.6" stroke-linejoin="round"/><path d="M563.9 88 570.9 84 578.9 82 586.9 86 593.9 90 600.9 94" fill="none" stroke="#9a9a9a" stroke-width="1.6" stroke-linejoin="round"/><path d="M492.8 159.9 497.3 158.4 500.3 162.9 504.8 162.9 507.7 164.4 506.3 167.4 509.2 168.8 513.7 167.4 515.2 170.3 512.2 171.8 507.7 171.8 503.3 174.8 500.3 171.8 497.3 170.3 494.3 167.4 492.8 164.4 492.8 159.9" fill="none" stroke="#9a9a9a" stroke-width="1.6" stroke-linejoin="round"/><path d="M518.2 158.4 521.2 158.4 522.6 164.4 522.6 170.3 519.7 171.8 517.4 168.8 518.2 164.4 518.2 158.4" fill="none" stroke="#9a9a9a" stroke-width="1.6" stroke-linejoin="round"/><path d="M525.6 159.9 528.6 161.4 528.6 167.4 527.1 171.8 524.1 170.3 524.1 164.4 525.6 159.9" fill="none" stroke="#9a9a9a" stroke-width="1.6" stroke-linejoin="round"/><path d="M530.1 170.3 534.6 168.8 537.5 171.8 536.1 174.8 531.6 174.8 530.1 170.3" fill="none" stroke="#9a9a9a" stroke-width="1.6" stroke-linejoin="round"/><path d="M528.6 179.3 533.1 177.8 539 179.3 540.5 183.7 536.1 185.2 531.6 183.7 528.6 179.3" fill="none" stroke="#9a9a9a" stroke-width="1.6" stroke-linejoin="round"/><path d="M515.2 177.8 519.7 176.3 524.1 177.8 524.1 180.8 519.7 182.3 515.9 181.5 515.2 177.8" fill="none" stroke="#9a9a9a" stroke-width="1.6" stroke-linejoin="round"/><path d="M503.3 174.8 507.7 173.3 513.7 174.8 515.2 179.3 513.7 183.7 509.2 185.2 504.8 182.3 503.3 179.3 503.3 174.8" fill="none" stroke="#9a9a9a" stroke-width="1.6" stroke-linejoin="round"/><path d="M504.8 186.7 509.2 186.7 510.7 191.2 507.7 194.2 504.8 192.7 504.8 186.7" fill="none" stroke="#9a9a9a" stroke-width="1.6" stroke-linejoin="round"/><path d="M506.3 194.2 513.7 191.2 519.7 188.2 527.1 188.2 531.6 189.7 528.6 195.7 525.6 200.1 521.2 201.6 516.7 200.1 513.7 201.6 509.2 200.1 506.3 197.2 506.3 194.2" fill="none" stroke="#9a9a9a" stroke-width="1.6" stroke-linejoin="round"/><path d="M531.6 158.4 536.1 161.4 540.5 161.4" fill="none" stroke="#9a9a9a" stroke-width="1.6" stroke-linejoin="round"/><path d="M528.6 153.9 531.6 149.5 536.1 148 540.5 151 543.5 155.4 548 156.9 552.4 159.9 558.4 161.4 561.4 164.4 555.4 165.9 551 168.8 548 173.3 546.5 176.3 549.5 179.3 553.9 177.8 558.4 179.3 559.9 183.7 556.9 186.7 553.9 189.7 551 194.2 548 197.2" fill="none" stroke="#9a9a9a" stroke-width="1.6" stroke-linejoin="round"/><path d="M483.9 149.5 488.4 152.5 492.8 153.2 498.8 153.9 504.8 153.9 510.7 153.2 513.7 151 516.7 148 519.7 145" fill="none" stroke="#9a9a9a" stroke-width="1.6" stroke-linejoin="round"/><path d="M485.9 150 483.9 155 485.9 160 488.9 163 493.9 166 496.9 171 500.9 174 503.9 178 502.9 185 504.9 191 505.9 197 510.9 200 513.9 199" fill="none" stroke="#9a9a9a" stroke-width="1.6" stroke-linejoin="round"/><path d="M488.9 170 492.9 169 495.9 173 494.9 178 490.9 179 487.9 175 488.9 170" fill="none" stroke="#9a9a9a" stroke-width="1.6" stroke-linejoin="round"/><path d="M494.9 181 498.9 180 500.9 184 497.9 188 494.9 186 494.9 181" fill="none" stroke="#9a9a9a" stroke-width="1.6" stroke-linejoin="round"/><path d="M527.9 156 532.9 155 537.9 158 542.9 157 544.9 161 539.9 165 534.9 166 529.9 163 527.9 156" fill="none" stroke="#9a9a9a" stroke-width="1.6" stroke-linejoin="round"/><path d="M546.9 173 551.9 172 555.9 175 554.9 180 549.9 181 546.9 178 546.9 173" fill="none" stroke="#9a9a9a" stroke-width="1.6" stroke-linejoin="round"/><path d="M535.9 186 540.9 185 544.9 188 542.9 193 537.9 193 535.9 186" fill="none" stroke="#9a9a9a" stroke-width="1.6" stroke-linejoin="round"/><path d="M516.9 188 520.9 186 522.9 190 519.9 193 516.9 192 516.9 188" fill="none" stroke="#9a9a9a" stroke-width="1.6" stroke-linejoin="round"/><path d="M473.5 60.8 469.8 63 467.5 66 467.6 69 468.5 70.1 470.5 71.2 473.5 71.3 475.5 70.5 477.5 68.9 479.3 66 479.5 63.1 478.5 61.5 476.5 60.6 473.5 60.8M440.5 72 438.5 72.8 437.5 73.8 433.4 82 433.7 84 434.5 84.8 437.5 86.1 439.5 86.2 441.5 85.1 444 80 444.2 77 443.5 74.2 442.5 72.9 440.5 72" fill="none" stroke="#f23b3b" stroke-width="1.05" stroke-dasharray="3 1.8" stroke-linejoin="round"/><path d="M499.5 56.8 495.5 58.6 494.1 61 495.7 64 498.4 66 501.5 67.1 505.5 67 508.5 65.8 511.4 63 511.8 61 511.4 60 508.7 58 504.5 56.7 499.5 56.8M475.5 57.9 472.5 58.8 469.5 60.4 464.7 65 463.9 67 464 69 465.9 72 469.5 73.4 473.5 73.2 477.5 71.4 480.9 68 483 64 482.9 61 481.5 59.4 479.5 58.4 475.5 57.9M439.5 68.7 436.5 71 428.5 81 427.7 84 427.8 86 428.7 88 430.5 89.2 435.5 90.1 440.5 90.1 442.5 88.8 444.5 85.1 446.5 79 446.4 74 445.5 72 443.5 69.9 441.5 68.8 439.5 68.7M413.5 95.8 409.7 97 407 99 406.3 102 407.7 104 410.5 104.8 413.5 104.4 416.9 103 418.9 101 419.5 99 418.5 96.7 416.5 95.8 413.5 95.8" fill="none" stroke="#f23b3b" stroke-width="1.05" stroke-dasharray="3 1.8" stroke-linejoin="round"/><path d="M501.5 54 496.5 54.6 487.5 57 477.5 55.6 472.5 56.6 467.9 59 462.7 63 459.1 68 458.7 71 460.4 73 463.7 75 466.5 75.6 470.5 75.6 474.5 74.7 477.5 73.3 485.5 66.3 488.5 64.8 490.5 64.9 499.3 69 503.5 69.7 508.1 69 515.5 66 528.5 65.7 529.5 65 527.8 63 523 60 516.7 57 507.5 54.6 501.5 54M439.5 65.9 437.2 67 432.5 72.6 427.5 77.1 425.7 80 422.7 88 421.5 89.7 407.5 94.8 403.5 97.4 402.4 99 401.9 102 402.5 105 403.7 107 405.5 108.1 407.5 108.4 415.5 106.7 419.3 105 421.9 103 423.4 101 424.6 97 426.5 94.7 432.5 93.5 440.5 93.7 442.5 93 443.5 92 449.1 78 450 73 448.9 71 445.1 68 441.5 66.1 439.5 65.9" fill="none" stroke="#f23b3b" stroke-width="1.05" stroke-dasharray="3 1.8" stroke-linejoin="round"/><path d="M498.5 51.9 486.5 53.6 477.5 53.5 473.5 54.2 467.3 57 462.5 59.8 455.5 64.8 451.5 66.6 447.5 66.3 440.5 63.3 437.5 63.7 431.5 70.5 426.1 75 420.5 84.4 418.5 86.7 413.2 90 402.5 94.6 399.8 97 398.7 100 398.6 103 399.1 107 400.2 110 402.3 112 405.5 112.4 407.4 112 422.3 106 424.9 104 428.5 99.1 431.5 97.1 435.5 96.4 441.5 97.3 443.5 96.8 445.3 94 449.5 82.7 451.5 79.5 453.5 77.8 456.5 77.1 465.5 78.4 472.5 77 478.5 74.5 486.5 69 489.5 68.2 491.5 68.3 498.5 70.9 502.5 71.6 507.5 71.4 513.5 69.7 517.5 69.6 524.5 70.4 534.5 72.6 538.5 75.2 550.5 84.8 554.5 89.9 556.5 91.1 558.9 91 559.6 90 559.6 88 556.9 79 541.5 62.7 531.5 59.5 516.5 53.5 505.5 52 498.5 51.9M447.5 120.5 446.5 121.2 445.8 123 445.7 127 448.5 133.4 449.5 134.7 450.5 134.6 451.5 130 451.2 126 449.5 121.7 447.5 120.5" fill="none" stroke="#f23b3b" stroke-width="1.05" stroke-dasharray="3 1.8" stroke-linejoin="round"/><path d="M495.5 50 476.5 51.6 472.5 52.5 462.5 57 454.5 61.8 450.5 63.4 446.5 63.3 439.5 60.7 436.5 61.5 431.5 67.5 424.7 73 419.5 81.2 416.5 84.6 411.5 88.2 400.5 92.9 397.9 95 396.4 98 395.8 103 396.3 108 397.9 112 403.5 114 409.6 114 424.5 107.7 426.9 106 430.5 101.4 434.5 99.5 437.5 99.6 442.5 101.9 444.5 102 446.5 98.6 448.1 91 449.5 87.1 451.5 83.6 453.5 81.7 456.5 80.8 463.5 81.3 466.5 80.8 476.5 77.2 485.5 72 489.5 70.7 491.5 70.7 498.5 72.8 503.5 73.6 513.5 72.6 521.5 72.9 533.5 75.6 547.5 87 550 91 553.1 94 559.5 97.2 561.5 97.7 563.5 97.4 565.2 95 565.4 91 564.4 87 560.5 77.1 543.5 60.7 516.5 50.9 503.5 49.8 495.5 50M445.5 114.3 444.4 116 443.5 120 443.9 127 447.2 136 448.9 143 449.8 144 451.5 144.3 452.5 143.9 453.5 142 453.2 129 452.6 124 451.5 120.6 448.5 115.7 446.5 114.1 445.5 114.3" fill="none" stroke="#f23b3b" stroke-width="1.05" stroke-dasharray="3 1.8" stroke-linejoin="round"/><path d="M492.5 48 476.5 49.6 472.5 50.4 461.5 54.8 453.5 59.3 449.5 60.8 446.5 60.8 439.5 58.8 435.5 59.9 430.5 65.5 423.5 70.7 418.5 78.6 415.5 82.1 409.5 86.8 399.5 90.9 395.9 94 394.1 98 393.4 103 393.8 108 395 112 397.5 113.8 402.5 115.4 406.5 115.8 411.5 115.4 418.5 112.1 427.5 109.4 433.5 103.9 435.5 103.4 437.5 103.9 439.6 106 440.8 109 441.5 123 442.9 129 445.9 137 447.1 143 448.5 145.1 451.5 146 453.8 145 455 143 454.5 127 453.5 121 448.8 109 448.3 103 449.3 94 450.5 89.8 452.5 86.3 455.5 84.3 462.5 84.2 465.5 83.7 477.5 78.5 485.5 74.3 489.5 73.1 491.5 73 503.5 75.4 512.5 75.2 523.5 75.9 532.5 78.3 544.5 88.1 549 94 553.1 97 561.5 102.1 564.5 102.6 566.5 102 568.3 100 569 98 568.8 92 567.5 86.4 563.5 76.3 561.5 73.6 545.3 59 542.5 57.4 517.5 48.6 502.5 47.7 492.5 48" fill="none" stroke="#f23b3b" stroke-width="1.05" stroke-dasharray="3 1.8" stroke-linejoin="round"/><path d="M487.5 45.9 475.5 47.5 470.5 48.7 460.5 52.5 453.5 56.5 449.5 58.1 446.5 58.4 439.5 57.2 436.5 57.7 434.5 58.7 428.9 64 422.5 68.4 416.7 77 413.5 80.5 407.9 85 398.5 89.1 394.5 92.5 392.2 97 391.2 102 391.5 108 392.9 113 399.5 116.2 407.5 117.3 414.5 116.5 418.5 114.6 422.5 113.6 433.5 111.9 435.5 112.5 437.5 116.6 444.2 136 446.1 144 448.5 146.7 451.5 147.4 454.8 146 456.1 144 456.5 142 455.5 123 451.7 110 450.9 105 451.3 96 452.5 91.2 453.5 89.6 455.5 88.1 464.5 86.8 471.5 83 486.5 76.2 491.5 75.3 502.5 77.3 521.5 78.3 530.5 80.4 542.6 90 547.7 96 555.5 100.8 559.6 104 562.5 105.4 564.5 105.7 568.5 104.3 570.5 102 571.4 100 571.9 95 570.6 87 566.4 76 563.5 71.8 546.5 56.9 542.5 54.8 517.5 46.1 500.5 45.4 487.5 45.9" fill="none" stroke="#f23b3b" stroke-width="1.05" stroke-dasharray="3 1.8" stroke-linejoin="round"/><path d="M495.5 43 487.5 43.3 472.5 45.6 460.5 49.6 449.5 55.3 446.5 55.9 438.5 55.6 433.5 57.4 428 62 420.8 67 414.3 76 407.5 82 404.5 84 396.5 87.7 392.9 91 390.2 96 388.8 102 389 108 390.8 114 397.5 117 404.5 118.6 416.5 118.2 420.5 116.7 424.5 116.1 429.5 116.4 432.5 117.5 435.5 120.3 438.5 125.7 442.7 136 445.5 145.7 448.5 148.2 451.5 148.8 453.5 148.4 455.7 147 457.2 145 457.9 142 457.1 122 453.6 105 453.7 101 455.2 95 457.2 93 463.5 90.6 472.4 85 486.5 78.8 492.5 77.8 501.5 79.3 519.5 80.8 528.5 82.9 540.5 91.8 545.4 97 553.5 101.7 560.2 107 562.5 107.9 565.5 108.3 569.5 106.9 572.7 103 574.4 97 573.9 89 571.5 81 568.6 74 566.5 70.9 549.5 55.9 544.5 52.7 519.5 43.8 515.5 43.3 495.5 43" fill="none" stroke="#f23b3b" stroke-width="1.05" stroke-dasharray="3 1.8" stroke-linejoin="round"/><path d="M491.5 40 473.5 42.2 465.5 44.2 459.5 46.5 451.5 51.2 447.5 52.9 438.5 53.7 434.5 54.7 421.5 63.4 418.5 66.1 411 75 403.5 80.9 394.5 86 389.9 91 387 97 385.9 103 386.3 109 388.3 115 396.5 118.2 403.5 119.8 418.5 120.3 424.5 119.1 427.5 119.5 430.5 120.6 434.5 123.7 437.5 128.2 441.5 136.9 443.2 144 444.6 147 447.5 149.5 451.5 150.3 454.5 149.7 457 148 458.5 146 459.4 143 459 120 457.4 107 458.7 101 462.6 96 472.5 87.8 486 82 492.5 80.7 511.5 82.4 527.5 86.3 538.4 94 542.5 97.8 552.4 103 560.5 109.8 565.5 111.1 568.5 110.6 570.5 109.7 573.5 106.6 575.6 102 576.8 96 576.9 90 575.9 84 573 76 570.6 71 567.2 67 549.5 51.5 545.5 49.3 535.5 45.2 518.5 40.3 491.5 40" fill="none" stroke="#f23b3b" stroke-width="1.05" stroke-dasharray="3 1.8" stroke-linejoin="round"/><path d="M485.5 35.9 469.5 38.1 464.5 39.3 458.5 42 447.5 49.1 443.5 50.4 435.5 51.5 430.5 53.5 419.5 61.2 409.5 70.9 402.8 75 393.5 82 389.5 85.7 386.9 89 384 94 382.3 99 381.7 103 381.9 107 383.3 112 385.5 116.9 402.5 121 415.5 121.9 420.5 123.1 425.5 122.8 429.5 124 433.5 126.9 436.5 130.9 439.6 137 441.6 145 443.5 148.6 447.5 151.7 451.5 152.4 454.5 151.9 457.5 150.4 459.8 148 461.2 145 461.6 142 462 108 463.5 101.4 467.9 96 473.5 91.2 484.5 86.8 492.5 84.9 511.5 86 525.5 90.6 538.5 98.8 549.5 103.1 552.2 105 558.5 111.5 563.5 114.5 566.5 115.4 568.5 115.3 572.5 113.1 576 108 578.9 98 580.1 88 579.2 80 576.2 72 573.4 67 561.9 56 553.5 46.5 549.5 43.9 539.5 39.6 520.5 36.1 498.5 35.6 485.5 35.9" fill="none" stroke="#f23b3b" stroke-width="1.05" stroke-dasharray="3 1.8" stroke-linejoin="round"/><path d="M535 105 539.5 104.1 543.5 104.3 546.5 105.1 549.4 107 552.2 111 554.1 116 554.2 119 553.3 121 543.9 131 539 139 531.7 149 526.5 154.4 512.5 165 509.5 166.6 506.5 167.4 503.5 167.4 498.5 165.7 494.5 162.1 492.2 158 491.6 153 493.1 149 495.5 146.1 510.5 132.8 513.2 129 518.6 119 523.5 113 529.5 107.7 535 105M605.5 106.8 595.5 110 589.5 110.4 587.5 109.8 585.5 108.3 584.4 106 584.1 103 584.6 99 586 95 588.2 91 590.5 88.3 594.5 85.2 599.5 82.6 602.5 81.7 605.5 81.7M387.5 122 392.5 121.9 414.5 125.6 419.5 127.7 422.5 130.6 425.5 136.9 427.3 139 427.4 141 426.2 143 424.5 144.3 424.2 146 420.5 152.3 414.5 158.4 410.5 160.9 405.5 162.8 401.5 163.5 396.5 163.3 391.5 162 387.5 160 383.7 157 381.1 154 378.7 150 376.9 145 376.2 140 376.5 135 378 130 380.5 126.1 383.5 123.5 387.5 122M575.7 127 582.5 126.6 586.5 127.6 589.1 129 591.4 131 593.1 134 593.5 136 593.2 139 591.7 142 590.1 144 584.5 147.8 577.5 149.7 573.5 149.8 569.5 149.1 565.5 147.5 562.5 145 560.7 142 560.3 138 561.6 135 565.5 131.4 570.5 128.6 575.7 127M548.8 185 554.5 184.9 560.5 186.3 565.5 189 569.1 193 570.6 197 570.3 202 568.2 206 564.5 209.4 560.5 211.3 556.5 212.1 548.5 211.7 544.5 210.5 541.5 209 536.2 204 534.6 201 534 198 534.3 195 535.7 192 538.5 189.1 541.5 187.2 548.8 185M534.7 217 538.5 216.7 540.5 217.4 542.4 219 543.6 221 544 223 543.5 224.8 542.5 225.9 540.5 226.7 538.5 226.6 536.5 226 533.9 224 532.7 222 532.4 220 533.3 218 534.7 217M462.5 237 464.5 236.2 466.5 236.5 469.5 238.4 471.5 240.8 475.2 248 477.9 258 478.9 269 478.1 278 475.5 284.9 473.5 287 471.5 287.8 469.5 287.5 467.5 286.4 463.7 282 460.1 274 458.1 266 457.1 257 457.5 248 459.4 241 462.5 237" fill="none" stroke="#f23b3b" stroke-width="1.05" stroke-linejoin="round"/><path d="M605.5 100.3 598.5 102.7 594.5 103.3 591.5 102.6 590.5 101.6 590 100 591.1 96 594.5 92.2 601.5 88.2 605.5 87.7M539.8 106 542.5 105.9 545.5 106.6 547.8 108 549.3 110 550.5 113 550.8 116 550.3 119 549.3 121 532.6 137 529 142 525.7 150 522.5 153.3 517.5 156.6 507.5 161.6 503.5 161.9 499.5 160.1 497.4 158 496.1 155 496.3 152 497.4 150 501.5 146.4 511.4 140 515.8 136 518.8 131 522.2 121 527.9 113 533.5 108.3 539.8 106M389.3 124 395.5 124 411.5 126.7 416.5 128.7 420.2 132 421.7 135 422.4 138 421.7 144 418.1 151 412.5 156.5 408.5 158.8 404.5 160.1 400.5 160.7 396.5 160.4 389.5 157.9 385.7 155 383.1 152 380.8 148 379.5 144 378.9 139 379.3 135 380.7 131 382.7 128 385.5 125.5 389.3 124M576.4 130 581.5 130.1 586 132 588.3 135 588.3 139 585.5 142.9 581.5 145.3 575.5 146.4 570.5 145.5 567.9 144 566.1 142 565.4 140 565.7 137 566.8 135 569.5 132.6 572.5 131 576.4 130M546.8 189 551.5 188.3 555.5 188.6 559.5 190 562.4 192 564.7 195 565.4 198 564.9 201 563 204 558.5 206.8 552.5 207.8 546.5 206.6 542.1 204 539.2 200 539 196 539.8 194 541.5 191.9 546.8 189M463.5 244 464.5 243.3 466.5 243.1 468.5 244.2 470.2 246 473.4 252 475.3 259 476 267 475.4 274 473.5 278.9 472.5 280 470.5 280.9 467.5 279.8 464.5 276.1 462.3 271 460.7 265 460 258 460.3 252 461.5 247.1 463.5 244" fill="none" stroke="#f23b3b" stroke-width="1.05" stroke-linejoin="round"/><path d="M539.3 108 543.5 107.9 546.8 110 548.1 114 547.3 118 544.4 122 538.5 126.5 532.5 129.5 528.5 129.9 526.5 128.1 525.8 126 525.8 123 527 119 529.5 115 532.2 112 535.5 109.5 539.3 108M390.7 126 396.5 125.8 408.5 127.8 414.2 130 417.6 133 419.5 138 419 143 416.2 149 411.5 153.9 408.5 155.8 404.5 157.3 397.5 157.7 393.5 156.7 390.5 155.2 385.5 150.6 383.5 147.3 382.3 144 381.7 140 382 136 383.4 132 385.5 129.1 388.2 127 390.7 126M575.8 133 580.5 133.1 583.6 135 584.4 138 582.5 141.1 579.5 142.8 575.5 143.4 572.5 142.6 570.3 141 569.5 139 570.5 136 573 134 575.8 133M513.3 144 518.5 143.5 521.5 145.2 522.3 147 522.2 149 520.1 152 514.5 155.5 507.5 157.8 503.5 157.7 500.7 156 499.8 153 501.5 150 506.5 146.6 513.3 144M547.2 192 552.5 191.1 555.5 191.7 558.3 193 560.3 195 561.1 197 561.1 199 560.3 201 557.5 203.4 553.5 204.5 549.5 204.2 545.5 202.3 543.4 200 542.8 197 544.2 194 547.2 192M465.2 249 467.5 248.9 469.8 251 471.8 255 473.3 261 473.7 266 473.1 271 471.5 274.4 469.5 275.4 467.5 274.5 465.5 271.9 463.8 268 462.7 263 462.3 258 462.7 254 463.6 251 465.2 249" fill="none" stroke="#f23b3b" stroke-width="1.05" stroke-linejoin="round"/><path d="M540.2 110 542.5 110.1 544.8 112 545.2 114 544.3 117 541.9 120 538.5 122.2 535.5 123.2 532.5 123 531.3 122 530.7 120 532 116 535.6 112 540.2 110M392.2 128 398.5 127.6 406.5 129 411.5 131 414.9 134 416.5 138 416.1 143 413.6 148 409.5 152 403.5 154.7 397.5 154.9 391.5 152.5 387.5 148.7 384.9 143 384.4 139 384.9 136 387.5 131 389.5 129.2 392.2 128M509.3 148 512.5 147.2 515.5 147.2 517.3 148 517.8 150 516.1 152 513.5 153.5 509.5 154.6 506.5 154.6 504.9 154 504.2 153 504.3 152 505.8 150 509.3 148M549.1 195 551.5 194.4 554.5 195 556.4 197 556.2 199 554.5 200.5 552.5 201 548.7 200 547.8 199 547.4 197 549.1 195M466.5 255 467.5 254.8 468.5 255.5 470.6 260 470.9 266 469.5 269 468.5 269.2 467.5 268.5 465.4 264 465.1 258 466.5 255" fill="none" stroke="#f23b3b" stroke-width="1.05" stroke-linejoin="round"/><path d="M537.7 115 539.5 114.2 540.2 115 539.5 116.3 537.5 117 537.1 116 537.7 115M393.7 130 398.5 129.4 404.5 130.2 408.8 132 412.2 135 413.4 138 413.3 142 411.6 146 408.5 149.3 403.5 151.9 398.5 152.2 393.5 150.5 389.7 147 387.5 142 387.5 137 389.5 132.9 391.5 131.1 393.7 130" fill="none" stroke="#f23b3b" stroke-width="1.05" stroke-linejoin="round"/><path d="M395 132 399.5 131.2 403.5 131.9 407.5 133.9 409.5 136 410.5 139 410.3 142 408.8 145 406.5 147.4 403.5 149 399.5 149.6 395.5 148.5 392.4 146 390.4 142 390.2 138 392.2 134 395 132" fill="none" stroke="#f23b3b" stroke-width="1.05" stroke-linejoin="round"/><path d="M396.4 134 398.5 133.3 401.5 133.4 403.5 134 406.1 136 407.2 138 407.4 141 406.5 143.2 404.5 145.3 402.5 146.4 399.5 146.7 396.5 145.8 394.4 144 393 141 393.1 138 394.1 136 396.4 134" fill="none" stroke="#f23b3b" stroke-width="1.05" stroke-linejoin="round"/><path d="M397.8 136 400.5 135.4 403.5 137 404.4 140 403.6 142 402.5 143.1 399.5 143.8 396.6 142 395.8 139 396.7 137 397.8 136" fill="none" stroke="#f23b3b" stroke-width="1.05" stroke-linejoin="round"/><path d="M399.4 138 400.5 137.9 401.4 139 400.5 140.5 399 140 398.7 139 399.4 138" fill="none" stroke="#f23b3b" stroke-width="1.05" stroke-linejoin="round"/><path d="M328.6 96.3C330 97.4 333.9 100.2 336.8 103C339.7 105.8 345.8 111.5 345.8 113.4C345.8 115.3 341 114.4 336.8 114.2C332.6 114 323.1 112.4 320.4 112" fill="none" stroke="#f23b3b" stroke-width="1.2"/><path d="M336.1 85.1C338.2 86.6 345.1 90.9 348.7 94.1C352.3 97.3 356.2 101.3 357.7 104.5C359.2 107.7 358.4 110.9 357.7 113.4C356.9 115.9 353.7 117.2 353.2 119.4C352.7 121.7 355.2 124.8 354.7 126.9C354.2 129 352.4 131.5 350 132C347.6 132.5 342.9 131.6 340 130C337.1 128.4 335.9 124.7 332.4 122.4C328.9 120.1 321.2 117.4 319 116.4" fill="none" stroke="#f23b3b" stroke-width="1.2"/><path d="M365.1 64.3C366.9 64.2 372.6 64 375.6 63.5C378.6 63 381.5 62.7 383 61.3C384.5 59.9 384.5 57.5 384.5 55.3C384.5 53.1 383.5 49.9 383 47.9C382.5 45.9 381.8 44.1 381.5 43.4" fill="none" stroke="#f23b3b" stroke-width="1.2"/><path d="M365.1 64.3C366.1 66.8 369.6 76 371.1 79.2C372.6 82.4 372.6 83.1 374.1 83.6C375.6 84.1 378 83.1 380 82.2C382 81.3 385 78.7 386 78" fill="none" stroke="#f23b3b" stroke-width="1.2"/><path d="M393.4 37.5C393.6 38.5 393.8 42.2 394.9 43.4C396 44.6 399.1 44.6 400 44.9" fill="none" stroke="#f23b3b" stroke-width="1.2"/><path d="M428 24C428.2 26.7 429.5 34.7 429 40C428.5 45.3 427.5 51.2 425 56C422.5 60.8 418 65 414 69C410 73 405.3 76.8 401 80C396.7 83.2 391.8 86 388 88C384.2 90 379.7 91.3 378 92" fill="none" stroke="#f23b3b" stroke-width="1.2"/><path d="M442 26C442.2 28.7 443.7 36.7 443 42C442.3 47.3 440.8 53 438 58C435.2 63 430.3 67.8 426 72C421.7 76.2 416.7 79.7 412 83C407.3 86.3 402.3 89.2 398 92C393.7 94.8 388 98.7 386 100" fill="none" stroke="#f23b3b" stroke-width="1.2"/><path d="M344 70C345.7 68.7 351 64 354 62C357 60 360.7 58.7 362 58" fill="none" stroke="#f23b3b" stroke-width="1.2"/><path d="M333.6 201C334.7 199.2 336 196.4 338.4 195C340.8 193.6 345.3 192.6 347.9 192.6C350.5 192.6 353.2 193.6 354 195C354.8 196.4 354.1 198.7 352.7 201C351.3 203.3 348.2 207 345.4 208.7C342.6 210.4 337.9 211.6 335.7 211.2C333.5 210.8 332.4 207.7 332 206C331.6 204.3 332.5 202.8 333.6 201Z" fill="none" stroke="#f23b3b" stroke-width="1.2"/><path d="M375.6 202.7C375.8 203.5 375.3 204.8 374.5 205.6C373.7 206.5 371.9 207.4 370.5 207.8C369.1 208.2 367.2 208.2 366 207.9C364.9 207.6 363.8 206.7 363.6 205.9C363.4 205.1 363.9 203.8 364.7 203C365.5 202.1 367.3 201.2 368.7 200.8C370.1 200.4 372 200.4 373.2 200.7C374.3 201 375.4 201.9 375.6 202.7Z" fill="none" stroke="#f23b3b" stroke-width="1.2"/><path d="M310 196.3C312.5 195.1 318.7 190.9 324.9 188.8C331.1 186.7 341 185.1 347.2 183.9C353.4 182.7 358.4 183.1 362.1 181.4C365.8 179.7 368.4 176.8 369.6 173.9C370.9 171 369.6 165.7 369.6 164" fill="none" stroke="#f23b3b" stroke-width="1.2"/><path d="M310 171.4C312.5 170.8 321.6 168.9 324.9 167.7C328.2 166.5 328 165.6 329.9 164C331.8 162.4 333.6 160.3 336 158C338.4 155.7 341.3 152 344 150C346.7 148 349.7 147.3 352 146C354.3 144.7 357 142.7 358 142" fill="none" stroke="#f23b3b" stroke-width="1.2"/><path d="M377 213.7C377.4 212 381.2 208.7 384.5 206.2C387.8 203.7 392.3 200.9 396.9 198.8C401.4 196.7 407.2 195.5 411.8 193.8C416.4 192.1 420.9 189.2 424.2 188.8C427.5 188.4 430 189.2 431.7 191.3C433.4 193.4 434.6 197.9 434.2 201.2C433.8 204.5 430.9 208.3 429.2 211.2C427.5 214.1 426.3 216.9 424.2 218.6C422.1 220.2 419.3 221.1 416.8 221.1C414.3 221.1 411.4 218.2 409.3 218.6C407.2 219 406.5 222.3 404.4 223.6C402.3 224.8 399.4 226.9 396.9 226.1C394.4 225.3 392 220.2 389.5 218.6C387 216.9 384.1 217 382 216.2C379.9 215.4 376.6 215.4 377 213.7Z" fill="none" stroke="#f23b3b" stroke-width="1.2"/><path d="M402 218.5C402 219 401.7 219.6 401.3 219.9C400.9 220.2 400.1 220.5 399.5 220.5C398.9 220.5 398.1 220.2 397.7 219.9C397.3 219.6 397 219 397 218.5C397 218 397.3 217.4 397.7 217.1C398.1 216.8 398.9 216.5 399.5 216.5C400.1 216.5 400.9 216.8 401.3 217.1C401.7 217.4 402 218 402 218.5Z" fill="none" stroke="#f23b3b" stroke-width="1.2"/><path d="M318 290C320 286.7 326.4 275.7 330 270C333.6 264.3 335.7 261.6 339.8 255.9C343.9 250.2 350.6 240.2 354.7 236C358.8 231.8 359.6 231.6 364.6 231C369.6 230.4 378.7 231.5 384.5 232.3C390.3 233.1 394.8 235 399.4 236C403.9 237 408.5 236.8 411.8 238.5C415.1 240.2 417.7 243.1 419.3 246C420.9 248.9 420.1 253.4 421.7 255.9C423.3 258.4 425.9 260 429.2 260.8C432.5 261.6 438.3 261.6 441.6 260.8C444.9 260 447 258.4 449.1 255.9C451.2 253.4 453.5 249.3 454 246C454.5 242.7 453.3 239.3 452 236C450.7 232.7 447.3 229.7 446 226C444.7 222.3 444 218.3 444 214C444 209.7 444.7 204.3 446 200C447.3 195.7 449.7 191.5 452 188C454.3 184.5 458.7 180.4 460 178.9" fill="none" stroke="#f23b3b" stroke-width="1.2"/><path d="M382 176.4C386.6 176.8 401.9 178.9 409.3 178.9C416.8 178.9 420.9 177.7 426.7 176.4C432.5 175.2 439.6 173.1 444.1 171.4C448.7 169.8 451 167.7 454 166.5C457 165.3 459.3 164.1 462 164C464.7 163.9 467 166 470 166C473 166 478.3 164.3 480 164" fill="none" stroke="#f23b3b" stroke-width="1.2"/><path d="M604 172C601.7 171.3 594.8 169.7 590 168C585.2 166.3 580 163.7 575 162C570 160.3 564.5 158.3 560 158C555.5 157.7 552 159 548 160C544 161 538 163.3 536 164" fill="none" stroke="#f23b3b" stroke-width="1.2"/><path d="M454 170C456 169.5 462 167.7 466 167C470 166.3 474.7 166 478 166C481.3 166 484.7 166.8 486 167" fill="none" stroke="#f23b3b" stroke-width="1.2"/><path d="M407.2 306C407.2 307.5 406.8 309.2 406.2 310.5C405.6 311.8 404.6 313 403.6 313.8C402.6 314.5 401.2 315 400 315C398.8 315 397.4 314.5 396.4 313.8C395.4 313 394.4 311.8 393.8 310.5C393.2 309.2 392.8 307.5 392.8 306C392.8 304.5 393.2 302.8 393.8 301.5C394.4 300.2 395.4 299 396.4 298.2C397.4 297.5 398.8 297 400 297C401.2 297 402.6 297.5 403.6 298.2C404.6 299 405.6 300.2 406.2 301.5C406.8 302.8 407.2 304.5 407.2 306Z" fill="none" stroke="#f23b3b" stroke-width="1.2"/><path d="M410.8 306C410.8 308.2 410.3 310.8 409.4 312.8C408.5 314.7 407 316.6 405.4 317.7C403.8 318.8 401.8 319.5 400 319.5C398.2 319.5 396.2 318.8 394.6 317.7C393 316.6 391.5 314.7 390.6 312.8C389.7 310.8 389.2 308.2 389.2 306C389.2 303.8 389.7 301.2 390.6 299.2C391.5 297.3 393 295.4 394.6 294.3C396.2 293.2 398.2 292.5 400 292.5C401.8 292.5 403.8 293.2 405.4 294.3C407 295.4 408.5 297.3 409.4 299.2C410.3 301.2 410.8 303.8 410.8 306Z" fill="none" stroke="#f23b3b" stroke-width="1.2"/><path d="M449.4 316C449.4 317.3 449.1 318.8 448.5 320C448 321.2 447.1 322.3 446.2 322.9C445.3 323.6 444.1 324 443 324C441.9 324 440.7 323.6 439.8 322.9C438.9 322.3 438 321.2 437.5 320C436.9 318.8 436.6 317.3 436.6 316C436.6 314.7 436.9 313.2 437.5 312C438 310.8 438.9 309.7 439.8 309.1C440.7 308.4 441.9 308 443 308C444.1 308 445.3 308.4 446.2 309.1C447.1 309.7 448 310.8 448.5 312C449.1 313.2 449.4 314.7 449.4 316Z" fill="none" stroke="#f23b3b" stroke-width="1.2"/><path d="M452.6 316C452.6 318 452.1 320.3 451.3 322C450.5 323.7 449.2 325.4 447.8 326.4C446.4 327.4 444.6 328 443 328C441.4 328 439.6 327.4 438.2 326.4C436.8 325.4 435.5 323.7 434.7 322C433.9 320.3 433.4 318 433.4 316C433.4 314 433.9 311.7 434.7 310C435.5 308.3 436.8 306.6 438.2 305.6C439.6 304.6 441.4 304 443 304C444.6 304 446.4 304.6 447.8 305.6C449.2 306.6 450.5 308.3 451.3 310C452.1 311.7 452.6 314 452.6 316Z" fill="none" stroke="#f23b3b" stroke-width="1.2"/><path d="M455.8 316C455.8 318.7 455.2 321.7 454.1 324C453 326.3 451.2 328.5 449.4 329.9C447.6 331.2 445.1 332 443 332C440.9 332 438.4 331.2 436.6 329.9C434.8 328.5 433 326.3 431.9 324C430.8 321.7 430.2 318.7 430.2 316C430.2 313.3 430.8 310.3 431.9 308C433 305.7 434.8 303.5 436.6 302.1C438.4 300.8 440.9 300 443 300C445.1 300 447.6 300.8 449.4 302.1C451.2 303.5 453 305.7 454.1 308C455.2 310.3 455.8 313.3 455.8 316Z" fill="none" stroke="#f23b3b" stroke-width="1.2"/><path d="M479.6 316C479.6 317 479.3 318.1 478.7 319C478.2 319.9 477.3 320.7 476.3 321.2C475.3 321.7 474.1 322 473 322C471.9 322 470.7 321.7 469.7 321.2C468.7 320.7 467.8 319.9 467.3 319C466.7 318.1 466.4 317 466.4 316C466.4 315 466.7 313.9 467.3 313C467.8 312.1 468.7 311.3 469.7 310.8C470.7 310.3 471.9 310 473 310C474.1 310 475.3 310.3 476.3 310.8C477.3 311.3 478.2 312.1 478.7 313C479.3 313.9 479.6 315 479.6 316Z" fill="none" stroke="#f23b3b" stroke-width="1.2" stroke-dasharray="4 2.5"/><path d="M484 316C484 317.7 483.4 319.6 482.5 321C481.6 322.4 480.1 323.8 478.5 324.7C476.9 325.5 474.8 326 473 326C471.2 326 469.1 325.5 467.5 324.7C465.9 323.8 464.4 322.4 463.5 321C462.6 319.6 462 317.7 462 316C462 314.3 462.6 312.4 463.5 311C464.4 309.6 465.9 308.2 467.5 307.3C469.1 306.5 471.2 306 473 306C474.8 306 476.9 306.5 478.5 307.3C480.1 308.2 481.6 309.6 482.5 311C483.4 312.4 484 314.3 484 316Z" fill="none" stroke="#f23b3b" stroke-width="1.2" stroke-dasharray="4 2.5"/><path d="M488.4 316C488.4 318.3 487.6 321 486.3 323C485.1 325 482.9 327 480.7 328.1C478.5 329.3 475.6 330 473 330C470.4 330 467.5 329.3 465.3 328.1C463.1 327 460.9 325 459.7 323C458.4 321 457.6 318.3 457.6 316C457.6 313.7 458.4 311 459.7 309C460.9 307 463.1 305 465.3 303.9C467.5 302.7 470.4 302 473 302C475.6 302 478.5 302.7 480.7 303.9C482.9 305 485.1 307 486.3 309C487.6 311 488.4 313.7 488.4 316Z" fill="none" stroke="#f23b3b" stroke-width="1.2" stroke-dasharray="4 2.5"/><path d="M492.8 316C492.8 319 491.8 322.4 490.1 325C488.5 327.6 485.8 330.1 482.9 331.6C480 333.1 476.3 334 473 334C469.7 334 466 333.1 463.1 331.6C460.2 330.1 457.5 327.6 455.9 325C454.2 322.4 453.2 319 453.2 316C453.2 313 454.2 309.6 455.9 307C457.5 304.4 460.2 301.9 463.1 300.4C466 298.9 469.7 298 473 298C476.3 298 480 298.9 482.9 300.4C485.8 301.9 488.5 304.4 490.1 307C491.8 309.6 492.8 313 492.8 316Z" fill="none" stroke="#f23b3b" stroke-width="1.2" stroke-dasharray="4 2.5"/><path d="M538.9 284.8C539 285.6 538.7 286.6 538 287.3C537.3 288.1 536 288.9 534.8 289.4C533.5 289.8 531.9 290.1 530.5 290.1C529.2 290.1 527.7 289.8 526.8 289.3C525.9 288.8 525.2 288 525.1 287.2C525 286.4 525.3 285.4 526 284.7C526.7 283.9 528 283.1 529.2 282.6C530.5 282.2 532.1 281.9 533.5 281.9C534.8 281.9 536.3 282.2 537.2 282.7C538.1 283.2 538.8 284 538.9 284.8Z" fill="none" stroke="#f23b3b" stroke-width="1.2"/><path d="M504 296C505.3 295 509.3 290.3 512 290C514.7 289.7 518.7 293.3 520 294" fill="none" stroke="#f23b3b" stroke-width="1.2" stroke-dasharray="4 2.5"/><path d="M474.5 63.9 471.5 67.8 470.6 70 471.2 74 472.5 75.5 474.5 75.2 476.5 73.7 478.1 70 477.5 64.9 476.5 63.6 475.5 63.4 474.5 63.9" fill="none" stroke="#111111" stroke-width="1.3" stroke-dasharray="3 1.8" stroke-linejoin="round"/><path d="M475.5 57.7 473.5 59 472.5 60.5 468.8 70 469.5 78 470.5 79.5 471.5 79.8 474.5 78.7 477.5 76.2 479.5 73.3 480.5 70 480.6 65 479.7 61 477.5 58.1 475.5 57.7M451.5 134.7 450.5 137 450.1 142 451.3 144 452.5 144.3 453.7 144 454.6 143 454.8 140 453.5 135.1 452.5 134.4 451.5 134.7" fill="none" stroke="#111111" stroke-width="1.3" stroke-dasharray="3 1.8" stroke-linejoin="round"/><path d="M475.5 52.8 473.2 54 470.9 57 467.5 68 466.8 83 467.5 87.8 478.7 79 480.9 76 482.4 72 483.1 65 481.9 59 479.5 54.7 477.5 53.1 475.5 52.8M426.5 81.7 424.7 83 423.8 85 425 89 432.5 97.6 435.5 100.4 436.9 101 437.2 100 436.5 96.8 432.5 87.1 429.5 82.3 428.5 81.8 426.5 81.7M406.5 88.8 404.8 90 403.9 92 404.8 94 406.5 95.2 408.5 95.8 411.5 95.8 413.9 95 415.9 93 416 91 413.5 88.8 409.5 88.1 406.5 88.8M448.5 126.4 447.6 130 448.3 143 449.4 145 450.5 145.8 453.5 146.2 455.6 145 456.9 142 456.5 127.2 455.5 126.1 452.5 126.7 448.5 126.4" fill="none" stroke="#111111" stroke-width="1.3" stroke-dasharray="3 1.8" stroke-linejoin="round"/><path d="M493.5 34 469.5 35 467 36 465.4 38 464.9 40 465.2 42 469.3 48 469.6 50 466.1 62 464.9 69 464 80 462.5 87.6 454.6 115 452.5 118.4 451.5 118.4 449.6 116 436 87 432.5 81 430.5 79.2 428.5 78.5 425.5 78.6 418.5 81.4 409.5 80.7 403.5 81.5 399.5 82.9 396.5 84.8 393 89 392.5 93 393.6 96 396.5 99.2 401.5 101.8 407.5 103.1 413.5 103 418.5 101.9 425.5 99 427.5 99.4 430.5 101.6 434.9 107 440 116 444.5 132.3 446.4 144 447.5 146 450.5 148.1 454.5 148.1 456.5 147 458.2 145 459.1 142 459.7 134 461.5 124.9 465.2 109 469.5 95.8 471.5 91.3 473.5 88.4 479.5 83.6 481.9 81 484.8 75 485.9 69 485.9 63 485 58 481.9 49 482.5 47 484.5 45.5 491.5 43.9 508.5 43 536.5 65.5 552.5 89.1 554.5 90.3 557.5 90.2 559.5 89 560.6 87 560.7 85 559.8 83 543.5 58.7 513.5 34.6 510.5 33.2 493.5 34" fill="none" stroke="#111111" stroke-width="1.3" stroke-dasharray="3 1.8" stroke-linejoin="round"/><path d="M546.9 103 549.5 102.5 552.5 102.7 554.4 104 554.8 105 554.1 109 549.5 115 542.5 120.6 535.5 124.2 529.5 125.6 526.7 125 525.5 124 525.1 122 525.9 119 530.5 113 538.5 106.7 546.9 103M397.1 123 402.5 122.4 405.5 123.3 408.3 125 410.5 127.3 412.1 130 413.8 136 413.2 143 410.5 149 408.5 151.4 405.5 153.8 400.5 155.6 395.5 155.1 390.6 152 387.9 148 386.2 142 386.6 136 388.9 130 392.5 125.6 397.1 123M467 261 468.5 260.2 469.5 260.3 471.4 262 471.9 265 470.5 267.5 468.5 267.7 466.6 266 466.1 263 467 261" fill="none" stroke="#111111" stroke-width="1.3" stroke-linejoin="round"/><path d="M543.4 110 544.5 110.2 545.1 111 543.6 114 539.5 117.1 537.5 117.8 535.5 117.8 534.9 117 535 116 536.4 114 540.3 111 543.4 110M397.7 129 401.5 128.4 404.5 129.5 407.5 132.9 408.7 137 408.5 141 406.9 145 404.1 148 400.5 149.5 397.5 149.4 394.5 147.7 392.4 145 391.3 141 391.5 137 392.6 134 394.7 131 397.7 129" fill="none" stroke="#111111" stroke-width="1.3" stroke-linejoin="round"/><path d="M398.1 136 400.5 135.1 402.2 136 402.9 137 403.2 139 402.7 141 400.5 142.8 398.5 142.6 397.1 141 396.9 138 398.1 136" fill="none" stroke="#111111" stroke-width="1.3" stroke-linejoin="round"/><path d="M367.9 115.8C369.5 112.6 373.5 106.5 375.8 104.8C378.1 103.1 379.8 104.3 381.8 105.8C383.8 107.3 384.8 111.8 387.8 113.8C390.8 115.8 395.4 116.8 399.7 117.8C404 118.8 410 119.5 413.6 119.7C417.2 119.9 418.9 118.4 421.5 118.7C424.1 119 426.9 120.2 429.5 121.7C432.1 123.2 435.8 125.4 437.4 127.7C439 130 440 133.3 439.4 135.6C438.8 137.9 435.8 140.3 433.5 141.6C431.2 142.9 427.8 142.6 425.5 143.6C423.2 144.6 421.1 145.6 419.5 147.6C417.9 149.6 417.2 153.2 415.6 155.5C414 157.8 412.2 160.2 409.6 161.5C407 162.8 403 163.8 399.7 163.5C396.4 163.2 392.7 161.5 389.7 159.5C386.7 157.5 384.4 154.5 381.8 151.5C379.2 148.5 376.1 144.9 373.8 141.6C371.5 138.3 369.2 134.7 367.9 131.7C366.6 128.7 365.9 126.3 365.9 123.7C365.9 121.1 366.2 119 367.9 115.8Z" fill="none" stroke="#111111" stroke-width="1.4"/><path d="M375.8 119.7C377.5 118 380.8 117.1 383.8 117.8C386.8 118.5 390.1 122.4 393.7 123.7C397.3 125 401.3 125 405.6 125.7C409.9 126.4 415.5 127 419.5 127.7C423.5 128.4 427.5 128.4 429.5 129.7C431.5 131 432.5 133.9 431.5 135.6C430.5 137.2 426.1 138.3 423.5 139.6C420.9 140.9 417.6 141.6 415.6 143.6C413.6 145.6 413.3 149.2 411.6 151.5C409.9 153.8 407.9 156.5 405.6 157.5C403.3 158.5 400.4 158.5 397.7 157.5C395 156.5 392 153.8 389.7 151.5C387.4 149.2 385.8 146.2 383.8 143.6C381.8 140.9 379.5 138.2 377.8 135.6C376.1 132.9 374.1 130.3 373.8 127.7C373.5 125.1 374.1 121.4 375.8 119.7Z" fill="none" stroke="#111111" stroke-width="1.3"/><path d="M404 307C404 308.3 403.7 309.8 403.2 310.8C402.8 311.9 402 312.8 401.2 313.2C400.5 313.6 399.5 313.6 398.8 313.2C398 312.8 397.2 311.9 396.8 310.8C396.3 309.8 396 308.3 396 307C396 305.7 396.3 304.2 396.8 303.2C397.2 302.1 398 301.2 398.8 300.8C399.5 300.4 400.5 300.4 401.2 300.8C402 301.2 402.8 302.1 403.2 303.2C403.7 304.2 404 305.7 404 307Z" fill="none" stroke="#111111" stroke-width="1.2"/><path d="M556 106C557.7 105.5 562.3 103.7 566 103C569.7 102.3 574 102 578 102C582 102 586.3 102.3 590 103C593.7 103.7 598.3 105.5 600 106" fill="none" stroke="#111111" stroke-width="1.4"/><path d="M552 102C553.7 100.7 558.3 96.5 562 94C565.7 91.5 570 89.3 574 87C578 84.7 582.3 82.2 586 80C589.7 77.8 594.3 75 596 74" fill="none" stroke="#111111" stroke-width="1.4"/><path d="M561 142C562.2 140.3 565.2 134.7 568 132C570.8 129.3 574.3 127.2 578 126C581.7 124.8 586.3 124.7 590 125C593.7 125.3 598.3 127.5 600 128" fill="none" stroke="#111111" stroke-width="1.4"/><path d="M561 146C562.8 147 568 150.2 572 152C576 153.8 580.3 155.5 585 157C589.7 158.5 597.5 160.3 600 161" fill="none" stroke="#111111" stroke-width="1.4"/><path d="M448 316C448 317.6 447.6 319.4 447 320.7C446.5 322 445.5 323.1 444.5 323.6C443.6 324.1 442.4 324.1 441.5 323.6C440.5 323.1 439.5 322 439 320.7C438.4 319.4 438 317.6 438 316C438 314.4 438.4 312.6 439 311.3C439.5 310 440.5 308.9 441.5 308.4C442.4 307.9 443.6 307.9 444.5 308.4C445.5 308.9 446.5 310 447 311.3C447.6 312.6 448 314.4 448 316Z" fill="none" stroke="#111111" stroke-width="1.2"/><path d="M482 316C482 317.7 481.5 319.6 480.8 321C480 322.4 478.8 323.8 477.5 324.7C476.2 325.5 474.5 326 473 326C471.5 326 469.8 325.5 468.5 324.7C467.2 323.8 466 322.4 465.2 321C464.5 319.6 464 317.7 464 316C464 314.3 464.5 312.4 465.2 311C466 309.6 467.2 308.2 468.5 307.3C469.8 306.5 471.5 306 473 306C474.5 306 476.2 306.5 477.5 307.3C478.8 308.2 480 309.6 480.8 311C481.5 312.4 482 314.3 482 316Z" fill="none" stroke="#111111" stroke-width="1.2" stroke-dasharray="3 1.8"/>
</g>
<circle cx="454.1" cy="168.4" r="144.8" fill="none" stroke="#6a6a6a" stroke-width="1"/>
<g clip-path="url(#cc)">
<path d="M101 445 111 444.2 116 444.9 120 446.2 122.8 448 124.5 450 125.3 453 124.7 456 122.8 459 119 462.3 114.3 465 108.9 467 103 468.3 97 468.7 91 468 87 466.7 84 464.8 81.9 462 81.5 459 82.9 455 85.5 452 89.7 449 95 446.6 101 445Z" fill="#0b3366" fill-rule="evenodd"/><path d="M101.6 443 109 442.3 115 442.6 121 444 124.8 446 127.5 449 128.5 452 127.7 456 125 460 121 463.4 116 466.2 110 468.4 103 470 96 470.4 90 469.8 85 468.3 81.2 466 78.9 463 78.3 459 79.6 455 81.9 452 85.5 449 90 446.5 95 444.6 101.6 443ZM101 445 95 446.6 89.7 449 85.5 452 82.9 455 81.5 459 81.9 462 84 464.8 87 466.7 91 468 97 468.7 103 468.3 108.9 467 114.3 465 119 462.3 122.8 459 124.7 456 125.3 453 124.5 450 122.8 448 120 446.2 116 444.9 111 444.2 101 445Z" fill="#144b8c" fill-rule="evenodd"/><path d="M102 441 109 440.3 116 440.6 122 441.8 127 444.2 130 447 131.6 451 131.1 455 128.1 460 123.6 464 118 467.2 111 469.9 103 471.7 95 472.2 88 471.5 82 469.6 78.1 467 75.8 464 74.9 460 76.3 455 79.3 451 84 447.1 89 444.5 95 442.5 102 441ZM102 442.9 96 444.3 90 446.5 85.5 449 81.9 452 79.6 455 78.3 459 78.9 463 81.2 466 85 468.3 90 469.8 96 470.4 103 470 110 468.4 116 466.2 121 463.4 125 460 127.7 456 128.5 452 127.5 449 124.8 446 121 444 115 442.6 109 442.3 102 442.9Z" fill="#2363aa" fill-rule="evenodd"/><path d="M159.1 410 162 409.9 162.5 411 162.2 412 159 414.9 156 415 155.6 414 156 412.7 159.1 410ZM101.6 439 110 438.2 118 438.6 125 440.2 130.3 443 133.8 447 134.9 451 133.9 456 130.4 461 125 465.5 118 469.3 110 472.1 102 473.6 94 474.1 86 473.2 80 471.3 75 468.1 72.2 464 71.6 460 72.9 455 76.3 450 81 446 86 443.2 93 440.8 101.6 439ZM103 440.9 96 442.2 89 444.5 84 447.1 79.3 451 76.3 455 74.9 460 75.8 464 78.1 467 82 469.6 88 471.5 95 472.2 102 471.8 109 470.5 116 468.1 122.1 465 127.2 461 130.3 457 131.7 452 130.6 448 128.1 445 124 442.6 118 440.9 111 440.3 103 440.9Z" fill="#2f78b9" fill-rule="evenodd"/><path d="M161.7 406 165 406.1 166.9 408 167 410 165.5 413 162.5 416 159 418.2 155 419.4 152 419 150.9 418 150.5 416 152.3 412 156.8 408 161.7 406ZM160 409.7 156.5 412 155.6 414 156 415 158.6 415 161.5 413 162.5 411 162.2 410 160 409.7ZM109.5 436 118 436.2 126 437.6 132 440.3 136 444 138.2 449 137.9 454 135.4 459 130.7 464 124 468.5 116 472.2 107 474.7 98 476 89 475.9 81 474.3 75 471.8 70.5 468 68.2 463 68 460 68.6 457 71.5 451 77 445 82 441.8 89 439.2 99 437.1 109.5 436ZM102 438.9 93 440.8 86 443.2 81 446 76.3 450 72.9 455 71.6 460 72.2 464 74.9 468 79.3 471 86 473.2 94 474.1 102 473.6 110 472.1 118 469.3 125 465.5 130.4 461 133.9 456 134.9 451 133.8 447 130.3 443 125 440.2 119 438.8 111 438.2 102 438.9ZM232.4 446 235 445.2 236 445.3 236.5 446 234.3 448 231 449.1 229.9 449 229.7 448 232.4 446Z" fill="#4191c6" fill-rule="evenodd"/><path d="M160.4 404 166 403.4 169.2 405 170.2 407 170.1 409 168.3 413 164 417.5 158 421.1 152 422.7 148 421.7 146.7 420 146.5 418 148.5 413 154 407.3 160.4 404ZM162 405.9 156.8 408 152.3 412 150.5 416 150.9 418 152 419 155 419.4 159 418.2 162.5 416 165.5 413 167 410 166.9 408 165 406.1 162 405.9ZM101.7 434 113 433.3 123 433.8 131 435.7 136 438.5 138.6 441 140.6 444 141.8 447 142.1 450 140.8 456 136.7 462 130 467.6 122 472.1 112 475.7 102 477.8 92 478.3 83 477.4 75 475 68.6 471 66 468 64.6 465 64.2 459 66.6 452 72 444 76.6 440 82 437.5 90 435.7 101.7 434ZM110 436 100 436.9 89 439.2 82 441.8 77 445 71.5 451 68.6 457 68 460 68.2 463 70.5 468 75 471.8 81 474.3 89 475.9 98 476 107 474.7 115 472.5 123 469.1 130 464.6 135.4 459 137.9 454 138.2 449 136 444 132 440.3 126 437.6 119 436.3 110 436ZM237.1 441 243 440.5 244.5 441 245.3 442 244.3 445 241 448 236 451 230 453.2 225 454 221.7 453 221.2 452 221.9 450 224.8 447 231 443.2 237.1 441ZM233 445.8 229.7 448 229.9 449 232 448.9 235.7 447 236.5 446 236 445.3 233 445.8Z" fill="#5ea6d1" fill-rule="evenodd"/><path d="M164 401 167 401 170 401.9 171.5 403 172.8 405 173.1 407 172.5 410 169.4 415 163 420.7 156 424.6 148 426.8 145 426.8 143 425.9 141.7 423 142.2 419 144 415 146.9 411 151 407 155 404.3 160 401.9 164 401ZM161 403.8 154.5 407 149.2 412 147.4 415 146.5 418 146.7 420 148 421.7 152 422.7 158 421.1 164 417.5 168.3 413 170.1 409 170.2 407 169.2 405 166 403.4 161 403.8ZM277.9 427 282 426.2 285.9 427 288.4 429 289.7 432 289.2 436 287.4 439 284 441.7 281 442.8 277 442.7 274 441.3 271.9 439 270.7 436 270.9 434 272.4 431 275 428.6 277.9 427ZM112 430 124 430.2 135 431.4 139 433.4 142 437.2 145.8 445 146.4 449 146.2 452 145.3 455 143.2 459 136.8 466 129 471.4 118 476.4 107 479.5 97 480.8 86 480.6 76 478.7 68 475.2 63 471 61 468 59.9 465 59.5 461 60.1 457 62.2 451 66.5 442 69 437.7 71.3 435 74.7 433 79 432 112 430ZM102 434 90 435.7 82 437.5 76.6 440 72 444 66.6 452 64.2 459 64.6 465 66 468 68.6 471 75 475 83 477.4 92 478.3 102 477.8 112 475.7 122 472.1 130 467.6 136.7 462 140.8 456 142.1 450 141.8 447 140.6 444 138.6 441 136 438.5 131 435.7 123 433.8 113 433.3 102 434ZM239.6 438 247 437.1 250 437.7 251.8 439 252 441 251.1 443 246.3 448 239 452.6 229 456.3 221 457.3 218.8 457 216.6 456 215.8 454 216.4 452 220.9 447 230 441.5 239.6 438ZM238 440.8 231.5 443 224.8 447 221.9 450 221.2 452 221.7 453 225 454 230 453.2 236 451 241 448 244.3 445 245.3 442 244.5 441 243 440.5 238 440.8ZM277.7 480 280 479.4 282 480.8 284 484.5 284.9 488 285.1 493 284.4 497 283 499.8 281 500.8 279.3 500 278 498.3 275.9 492 275.8 484 277.7 480ZM121.1 526 123 526 125 528.1 125.9 532 125.8 537 124.6 542 122.8 546 120 549.3 118 550 116.1 549 115 547 114.2 543 114.3 539 115.4 534 117 530.2 119 527.4 121.1 526Z" fill="#80bbdd" fill-rule="evenodd"/><path d="M162.1 399 168 398.6 171 399.4 173 400.6 175 402.9 175.8 405 175.9 407 175.2 410 172.3 415 168 419.5 163 423.5 152.9 430 149.9 433 149.3 435 149.4 437 151.2 444 151.6 448 150.3 455 148.3 459 145.3 463 141.2 467 136 471 126 476.7 115 480.9 103 483.5 92 484.3 80 483.3 70 480.7 62 476.4 56.7 471 55.1 468 54.1 464 54.1 460 54.8 456 61.5 434 63.8 430 67 427.1 71 425.3 75 424.7 97 426.2 123 425.1 130 424 133 422.6 135 420.9 142.1 412 148.4 406 155 401.7 162.1 399ZM165 400.9 161 401.6 156 403.7 151 407 146.9 411 144 415 142.2 419 141.7 423 143 425.9 145 426.8 148 426.8 156 424.6 163 420.7 169 415.4 172.5 410 173.1 407 172.8 405 171.5 403 170 401.9 165 400.9ZM112 430 79 432 74.7 433 71.3 435 69 437.7 66.5 442 62.2 451 60.1 457 59.5 461 59.9 465 61 468 63 471 68 475.2 76 478.7 86 480.6 97 480.8 107 479.5 118 476.4 129 471.4 136.8 466 143.2 459 145.3 455 146.2 452 146.4 449 145.8 445 142 437.2 139 433.4 135 431.4 124 430.2 112 430ZM277.1 423 283 422.1 286 422.5 289 423.5 293 427 294.8 432 294.5 436 292.5 441 289 445.6 282.7 452 281.2 455 281.9 458 286.5 466 288.9 472 290.5 480 291.1 488 290.5 497 288.5 505 285.6 510 284 511.4 282 512.1 280 512 278.1 511 275 507.6 272.1 502 267 489.3 263 483.1 259 480.3 249 476.9 246.5 475 244.9 472 244.7 470 245.4 467 249 462.1 252 459.8 261.7 455 264.2 453 265.2 451 265.1 449 263 445.3 261 444.6 259 445 249 452.5 245 454.8 238 457.6 231 459.4 223 460.7 217 460.8 212 459.2 210.5 457 210.6 455 211.6 453 214.9 449 220 444.9 227 440.7 235 437.2 243 434.8 249 433.8 261 432.9 264 431.3 272 425.4 277.1 423ZM278 426.9 275 428.6 272.4 431 270.9 434 270.7 436 271.9 439 274 441.3 277 442.7 281 442.8 284 441.7 287.4 439 289.2 436 289.7 432 288.4 429 285.9 427 282 426.2 278 426.9ZM240 437.9 230 441.5 220.9 447 216.4 452 215.8 454 216.6 456 218.8 457 221 457.3 229 456.3 239 452.6 246.3 448 251.1 443 252 441 251.8 439 250.7 438 248 437.2 240 437.9ZM278 479.7 276.9 481 275.8 484 275.8 491 278 498.3 279.3 500 281 500.8 283 499.8 284.1 498 285 494 285 489 284 484.5 282 480.8 280 479.4 278 479.7ZM120.9 519 123 518.5 125 518.9 127 520.6 128 522.3 129.5 528 129.3 536 127.4 544 124 551.1 120 555.6 118 556.5 116 556.6 113 554.1 111.4 550 110.5 544 110.7 538 111.9 532 114.4 526 117.1 522 120.9 519ZM122 525.8 119.5 527 117.1 530 115.4 534 114.5 538 114.2 543 115 547 116.1 549 118 550 120 549.3 122.1 547 124.2 543 125.6 538 126 533 125.3 529 124 526.6 122 525.8Z" fill="#a3cfe6" fill-rule="evenodd"/><path d="M163.2 396 170 396.1 175 398.7 177.1 401 178.6 404 179.1 407 178.5 410 176.5 414 173.4 418 161.7 429 158.5 433 157.6 437 158.6 445 158.4 450 157.1 455 154.5 460 148 467.7 139 474.8 127 481.6 115 486.2 104 488.7 92 489.5 79 488.3 66 484.8 61 482.6 56 479.5 52.1 476 49.7 473 47.7 469 46.7 465 46.5 460 47.4 455 54.1 431 57 426 61.3 422 67 419.1 74 417.7 80 417.7 102 419.2 116 418.5 125 417.1 129 415.8 133 413.6 145 404.5 151 400.6 157 397.7 163.2 396ZM163 398.8 156 401.2 149 405.6 143 411 135 420.9 133 422.6 130 424 123 425.1 97 426.2 75 424.7 71 425.3 67 427.1 63.8 430 61.5 434 54.8 456 54.1 460 54.1 464 55.1 468 56.7 471 62 476.4 70 480.7 80 483.3 92 484.3 103 483.5 115 480.9 126 476.7 136 471 141.2 467 145.3 463 148.3 459 150.3 455 151.6 448 151.2 444 149.4 437 149.3 435 149.9 433 152.9 430 163 423.5 168 419.5 172.3 415 175.2 410 175.9 407 175.8 405 175.1 403 173.5 401 169 398.7 163 398.8ZM276.6 419 282 418 287 418.3 292 420 296 423 296 492.3 295.5 496 293.5 506 290.3 514 286.4 519 284 520.5 282 520.9 278 520 274.3 517 271.3 513 264 501 260 497.3 255 495.5 245 494.7 239 493.5 234 491.6 229.6 489 226 485.4 223.4 481 221 468.9 218.3 467 210 464.9 207 463.6 205 461.9 204.1 459 205.4 455 209.4 450 216 444.5 224 439.6 238 433.4 259 427.7 271 421.2 276.6 419ZM278 422.7 272.7 425 264 431.3 261 432.9 249 433.8 243 434.8 235 437.2 227 440.7 220 444.9 214.9 449 211.6 453 210.6 455 210.5 457 212 459.2 217 460.8 223 460.7 231 459.4 238 457.6 245 454.8 249 452.5 259 445 261 444.6 263 445.3 265.1 449 265.2 451 264.2 453 261.7 455 252 459.8 249 462.1 245.4 467 244.7 470 244.9 472 246.5 475 249 476.9 259 480.3 263 483.1 267 489.3 272.1 502 275 507.6 278.1 511 280 512 282 512.1 284 511.4 285.6 510 288.5 505 290.5 497 291.1 488 290.5 480 288.9 472 286.5 466 281.9 458 281.2 455 282.7 452 289 445.6 292.5 441 294.3 437 294.9 433 293.6 428 292 425.8 289.8 424 287 422.7 284 422.1 278 422.7ZM121.2 511 124 510.4 127 511.2 129 512.8 131 515.6 132.4 519 133.6 524 133.7 534 131.3 544 128.8 550 126 555 123 559 120 561.7 117 563.1 115 563.2 113 562.4 111 560.6 107.8 554 105.6 543 105.5 534 107.2 527 110.4 521 116 514.4 121.2 511ZM121 518.9 118 521.1 114.4 526 112.2 531 110.8 537 110.5 544 111.4 550 113 554.1 116 556.6 118 556.5 120 555.6 124 551.1 127.4 544 129.3 536 129.5 528 128 522.3 127 520.6 125 518.9 123 518.5 121 518.9Z" fill="#c5e0ef" fill-rule="evenodd"/><path d="M89.6 363 93 362.4 96 364.3 98.2 368 99.4 373 99.4 379 98 384.9 96 388.5 93 390.6 90 390 88 388.1 85.9 384 84.7 379 84.6 374 85.5 369 87 365.7 89.6 363ZM162.3 392 166 391.7 170 392.3 173 393.4 176 395.7 179.6 400 182.3 405 183.2 409 182.8 412 180.8 416 172.7 427 170.6 431 169.8 435 170.5 445 170.3 450 168.7 456 166.3 461 162.7 466 158.1 471 137.1 488 134.3 491 132.8 494 132.9 498 139.7 514 142.8 525 143.1 534 142.4 538 140.6 543 134.6 553 124 566.3 118 570.8 115 571.6 112 571.2 109 569.4 107 567.1 100 555.5 90.2 545 86.4 538 85.2 533 85 528 85.8 522 88.8 510 88.6 507 87.7 505 85 502.4 80.6 500 63 493.6 54 489.6 47 485.3 41.9 481 36.8 474 34.4 467 34 459 35.4 451 41.6 434 46.3 425 52.5 418 60 413.1 70 410 89 407.8 110 408.1 123 406.7 132.1 404 153 394.4 162.3 392ZM164 395.9 158 397.4 151 400.6 145 404.5 133 413.6 129 415.8 125 417.1 116 418.5 102 419.2 80 417.7 74 417.7 67 419.1 61.3 422 57 426 54.1 431 47.4 455 46.5 460 46.7 465 47.7 469 49.7 473 52.1 476 56 479.5 61 482.6 66 484.8 79 488.3 92 489.5 104 488.7 115 486.2 127 481.6 139 474.8 148 467.7 154.5 460 157.1 455 158.4 450 158.6 445 157.6 437 158.5 433 161.7 429 173.4 418 176.5 414 178.5 410 179.1 407 178.6 404 177.1 401 175.3 399 173 397.3 170 396.1 164 395.9ZM122 510.7 117 513.5 111.8 519 107.6 526 105.6 533 105.6 543 107.8 554 111 560.6 113 562.4 115 563.2 117 563.1 120 561.7 123 559 126 555 130.6 546 133.5 535 133.7 525 132.7 520 131.2 516 129 512.8 127 511.2 125 510.5 122 510.7ZM278.6 413 283 412.5 288 412.8 296 415.3 296 423 292 420 288 418.5 284 418 279 418.4 272 420.7 258.3 428 244 431.6 235 434.5 224 439.6 213 446.8 206.7 453 204.8 456 204.1 459 205 461.9 207 463.6 210 464.9 218.3 467 221 468.9 223.4 481 225.7 485 229 488.5 234 491.6 239 493.5 245 494.7 255 495.5 260 497.3 263 499.8 265 502.4 273.5 516 276 518.6 279 520.5 282 520.9 285 520 288 517.4 290 514.5 293.7 505 296 492.3 296 517 293 522.9 289.9 527 286 530.1 282 531.2 278 530.5 274 528.1 270 524 263 515.3 258 511.6 253 510.4 239 510 230 508.6 221 505.6 213.3 501 208 496 204.5 491 202 485 199.5 475 194.6 468 193.4 464 193.8 461 195.2 458 199.9 452 207 445.7 218 438.3 234 430.3 254.4 423 271 415.1 278.6 413ZM153.5 570 156 569.8 158 570.4 161 572.5 163 575 166.1 582 167.3 590 166.7 599 164.2 606 162.3 609 160.1 611 156 612.4 152 611.1 150 609.3 148 606.5 145.5 600 144.5 593 144.9 585 146.7 578 150 572.3 153.5 570ZM57.1 615 59 614.3 61 614.3 63 615 65 617 65.7 619 65.7 621 65 623 63 625 61 625.7 59 625.7 57 625 55 623 54.3 621 54.3 619 55 617 57.1 615Z" fill="#dcebf5" fill-rule="evenodd"/><path d="M190.1 387 195 386.2 202 386.2 209 387.2 214 388.6 219 390.8 221.9 393 223.8 396 223.7 399 221.8 402 219.6 404 216 406 212 407.3 203 408.1 195 406.6 191 404.8 187.4 402 185.1 399 183.4 395 183.4 392 184.6 390 187 388.2 190.1 387ZM193 390 188.5 392 187.2 394 187 396 189.1 400 194 403.4 200 404.9 207 404.8 212.1 403 215 400 215.3 398 214.6 396 212.8 394 209.5 392 201 389.7 193 390ZM185.1 630 189 629.4 193 629.7 197 631 199.6 633 200.7 635 200.3 638 198.6 640 195 641.8 188 642.7 178 641.3 176 641.5 174 642.7 169.2 648 141.1 648 138.7 644 138.8 640 140.4 637 143 634.8 147 632.9 152 632 158 632 173 635.4 175 635 181 631.5 185.1 630ZM153 636.8 149.4 638 147.2 640 146.6 643 148 645.2 151 647 155 647.7 159 647.1 162.4 645 163.7 642 162.3 639 158 637 153 636.8Z" fill="#fde2d3" fill-rule="evenodd"/><path d="M193 390 201 389.7 209.5 392 212.8 394 214.6 396 215.3 398 215 400 212.1 403 207 404.8 200 404.9 194 403.4 189.1 400 187 396 187.2 394 188.5 392 193 390ZM194 393 191.2 395 191 397 193 399.8 196 401.5 200 402.4 204 402.3 207.7 401 209.3 399 209 397 208.3 396 205 393.8 199 392.4 194 393ZM152.1 637 157 636.8 161 638.1 163.6 641 163.1 644 161 646.1 157 647.5 153 647.5 149 646.1 147 644 146.7 641 149 638.3 152.1 637Z" fill="#fbcab0" fill-rule="evenodd"/><path d="M193.9 393 199 392.4 205 393.8 208.3 396 209 397 209.3 399 207.7 401 204 402.3 200 402.4 196 401.5 193 399.8 191 397 191.2 395 193.9 393ZM199 396.8 198.2 397 198.6 398 200.9 398 200.5 397 199 396.8Z" fill="#f7b292" fill-rule="evenodd"/><path d="M198.2 397 200.5 397 200.9 398 198.6 398 198.2 397Z" fill="#ef9677" fill-rule="evenodd"/><path d="M133 353 131.9 357.6 129.5 362.3 127.2 366.9 124.9 369.2 123.7 376.2 122.6 383.1 121.4 390.1 119.8 397 115.6 401.7 111 406.3 105.2 409.8 99.4 412.1 92.5 413.3 85.5 414.4 78.5 413.3 76.2 411 80.9 406.3 78.5 402.8 73.9 401.7 71.6 398.2 75.1 394.7 71.6 392.4 69 396 68.1 401 69.8 406 68.1 411 70.6 415.9 73.1 420.9 70.6 424.2 69 429.2 67.3 434.1 68.1 439.1 66.5 445.7 65.7 452.3 60 455 53 457 46 460 40 462" fill="none" stroke="#9a9a9a" stroke-width="1.6" stroke-linejoin="round"/><path d="M97.9 359.6 103.7 362.9 104.6 371.2 102.9 379.5 102.1 386.1 100.4 391.1 96.3 390.3 95.5 385.3 97.1 377.8 94.6 369.6 93 364.6 96.3 360.5 97.9 359.6" fill="none" stroke="#9a9a9a" stroke-width="1.6" stroke-linejoin="round"/><path d="M69.8 373 73 372.5 75.6 375 74 377.8 70.5 377 69.8 373" fill="none" stroke="#9a9a9a" stroke-width="1.6" stroke-linejoin="round"/><path d="M63.2 384 67 383.6 70.6 386 68 388.6 64 387.5 63.2 384" fill="none" stroke="#9a9a9a" stroke-width="1.6" stroke-linejoin="round"/><path d="M68.1 445.6 71.5 447.2 76.4 450.5 81.4 457.1 83.9 467.1 85.5 474.5 87.2 473.7 85.5 467.1 83.9 457.1 79.7 448.9 74.8 443.9 70 443.5 68.1 445.6" fill="none" stroke="#9a9a9a" stroke-width="1.6" stroke-linejoin="round"/><path d="M40 462.1 46.6 467.1 53.2 468.7 58.2 472 59.9 477 56.6 480.3 59.9 483.6 64.8 488.6 70.1 489 72.5 493.6 79.4 500.6 82.9 507.5 86.4 512.2 84 516.8 79.4 520.3 74.8 521.5 69 521.5 74.8 523.8 75.9 529.6 74.8 535.4 77.1 540 80.6 544.6 79.4 551.6 75.9 556.2 80.6 559.7 87.5 563.2 91 560.9 94.5 565.5 98 570.1 100 569 103.3 574 106.6 578.9 109.9 582.2 111.6 587.2 116.6 588.9 121.5 590.5 124.8 592.2 128.1 591.4 129 593.8 133.1 593.8 138.1 594.7 143 597.1 148 600.5 151.3 603.8 154.6 607.1 157.9 610.4 161.3 613.7 162.1 617 159.6 618.7 156.3 617 153 615.4 149.7 617 148 613.7 146.4 611.2 144.7 613.7 143 617 139.7 618.7 141.4 623.6 139.7 626.9 136.4 630.3 129.8 631.9 124.8 633.6 119.9 635.2 114.9 636.9 109.9 638.5 105 636.9 101.7 635.2 100 633.6 95.9 629 88 627 80 629 74 633" fill="none" stroke="#9a9a9a" stroke-width="1.6" stroke-linejoin="round"/><path d="M100 632 105 626.9 108.3 625.3 109.9 626.9 106 630" fill="none" stroke="#9a9a9a" stroke-width="1.6" stroke-linejoin="round"/><path d="M96 498 102.6 500.6 99 504 95 508 91 512 88 510 92 505 96 498" fill="none" stroke="#9a9a9a" stroke-width="1.6" stroke-linejoin="round"/><path d="M96.8 558.5 99.1 549.3 102.6 548.1 106 552.7 109.5 557.4 108.4 559.7 104.9 556.2 101.4 558.5 98 560.9 96.8 558.5" fill="none" stroke="#9a9a9a" stroke-width="1.6" stroke-linejoin="round"/><path d="M106 469 109 466 112 468 111 472 108 475 106 473 106 469" fill="none" stroke="#9a9a9a" stroke-width="1.6" stroke-linejoin="round"/><path d="M108 476 111 475 112 479 109 480 108 476" fill="none" stroke="#9a9a9a" stroke-width="1.6" stroke-linejoin="round"/><path d="M122.8 451 126 450.5 127.7 453 125 455.5 123 454 122.8 451" fill="none" stroke="#9a9a9a" stroke-width="1.6" stroke-linejoin="round"/><path d="M200 575.6 192.7 577.3 186.1 578.9 181.1 580.6 177.8 583.9 176.2 587.2 174.5 590.5 172.8 593.8 171.2 597.1 170.4 600.5 172.8 602.1 176.2 603.8 177.8 607.1 172.8 608.7 171.2 612 174.5 613.7 179.5 613.7 184.4 615.4 186.1 618.7 182.8 622 181.1 626.9 179.5 631.9 181.1 635.2 186.1 636.9 189.4 635.2" fill="none" stroke="#9a9a9a" stroke-width="1.6" stroke-linejoin="round"/><path d="M164.6 622 167.9 622.5 166 624" fill="none" stroke="#9a9a9a" stroke-width="1.6" stroke-linejoin="round"/><path d="M200 575.6 204.6 571.6 211.9 569.1 214.4 561.8 216.8 554.5 221.7 549.6 226.5 544.8 229 539.9 233.8 535 238.7 532.6 241.2 527.7 238.7 522.8 241.2 518 246 513.1 248.5 508.2 250.9 505.8" fill="none" stroke="#9a9a9a" stroke-width="1.6" stroke-linejoin="round"/><path d="M209.3 533.6 213.7 530.6 218.2 532.1 221.2 536.6 224.2 539.6 227.2 536.6 231.6 533.6 236.1 532.1 240.6 530.6 245 527.6 249.5 526.2 254 523.2 258.4 521.7" fill="none" stroke="#9a9a9a" stroke-width="1.6" stroke-linejoin="round"/><path d="M240 561 241 553 244 550 247 555 248.5 562 245 564 242 559" fill="none" stroke="#9a9a9a" stroke-width="1.6" stroke-linejoin="round"/><path d="M266 541 268 545 270 551 272 557 270 560 267 555 266 547 266 541" fill="none" stroke="#9a9a9a" stroke-width="1.6" stroke-linejoin="round"/><path d="M212 627.6 214.4 617.9 219.2 616.6 224.1 615.4 229 613 236.3 611.8" fill="none" stroke="#9a9a9a" stroke-width="1.6" stroke-linejoin="round"/><path d="M174.8 382.8 179.7 379.5 186.4 377.8 193 380.3 194.6 385.3 193 389.4 189.7 391.1 188 396 186.4 402.7 183 407.6 181.4 411 179.7 415.9 178.1 420.9 174.8 425.8 171.5 429.2 168.4 429 167.1 433 164.4 436.9 161.8 440.9 159.1 446.2 156.5 450.2 153.8 455.5 154.5 458.1 157.8 459.5 160.5 458.1 162.5 460.8 161.8 463.4 159.1 464.8 157.8 466.1 160.5 468.7 163.1 471.4 167.1 472.7 171.1 474 175 475.4 177.7 478 179 479.3 181.7 478 185.6 479.3 189.6 478 193.6 479.3 197.5 478 201.5 479.3 204.2 478 206.8 476.7 210 475.4" fill="none" stroke="#9a9a9a" stroke-width="1.6" stroke-linejoin="round"/><path d="M176.4 482 179 486 180.3 489.9 179 493.9 180.3 499" fill="none" stroke="#9a9a9a" stroke-width="1.6" stroke-linejoin="round"/><path d="M174.8 382.8 173.1 386.1 175.6 388.6 179.7 391.1 183 389.4" fill="none" stroke="#9a9a9a" stroke-width="1.6" stroke-linejoin="round"/><path d="M202.9 402.7 211.2 404.3 219.5 406 226.1 402.7 232.7 399.4 240 396 247.3 393" fill="none" stroke="#9a9a9a" stroke-width="1.6" stroke-linejoin="round"/><path d="M247.3 393 249 399.6 247.3 406.2 245.7 414.5 244 421.1 240.7 427.8 235.7 431.1 232.4 432.7 229.1 434.4 224.1 437.7 219.2 441 215.9 444.3 214.2 449.3 210.9 455.9 207.6 462.5 204.3 467.5 201 472.5 197.7 479.1" fill="none" stroke="#9a9a9a" stroke-width="1.6" stroke-linejoin="round"/><path d="M254 442.7 250.6 447.6 249 454.3 245.7 459.2 242.4 462.5 239 467.5 237.4 472.5 235.7 479.1 239 484.1 237.4 489 240 495 243.5 499" fill="none" stroke="#9a9a9a" stroke-width="1.6" stroke-linejoin="round"/><path d="M268.8 441 267.2 447.6 263.9 451 265.5 455.9 262.2 462.5 265 469 262 475 266 481 270 487" fill="none" stroke="#9a9a9a" stroke-width="1.6" stroke-linejoin="round"/><path d="M278.8 439.4 282 446 285.4 452.6 285.4 459.2 282 465.8 283.7 472.5 287 479.1 286 487 289 494" fill="none" stroke="#9a9a9a" stroke-width="1.6" stroke-linejoin="round"/><path d="M255 417 262 413 270 411 278 415 285 419 292 423" fill="none" stroke="#9a9a9a" stroke-width="1.6" stroke-linejoin="round"/><path d="M183.9 488.9 188.4 487.4 191.4 491.9 195.9 491.9 198.8 493.4 197.4 496.4 200.3 497.8 204.8 496.4 206.3 499.3 203.3 500.8 198.8 500.8 194.4 503.8 191.4 500.8 188.4 499.3 185.4 496.4 183.9 493.4 183.9 488.9" fill="none" stroke="#9a9a9a" stroke-width="1.6" stroke-linejoin="round"/><path d="M209.3 487.4 212.3 487.4 213.7 493.4 213.7 499.3 210.8 500.8 208.5 497.8 209.3 493.4 209.3 487.4" fill="none" stroke="#9a9a9a" stroke-width="1.6" stroke-linejoin="round"/><path d="M216.7 488.9 219.7 490.4 219.7 496.4 218.2 500.8 215.2 499.3 215.2 493.4 216.7 488.9" fill="none" stroke="#9a9a9a" stroke-width="1.6" stroke-linejoin="round"/><path d="M221.2 499.3 225.7 497.8 228.6 500.8 227.2 503.8 222.7 503.8 221.2 499.3" fill="none" stroke="#9a9a9a" stroke-width="1.6" stroke-linejoin="round"/><path d="M219.7 508.3 224.2 506.8 230.1 508.3 231.6 512.7 227.2 514.2 222.7 512.7 219.7 508.3" fill="none" stroke="#9a9a9a" stroke-width="1.6" stroke-linejoin="round"/><path d="M206.3 506.8 210.8 505.3 215.2 506.8 215.2 509.8 210.8 511.3 207 510.5 206.3 506.8" fill="none" stroke="#9a9a9a" stroke-width="1.6" stroke-linejoin="round"/><path d="M194.4 503.8 198.8 502.3 204.8 503.8 206.3 508.3 204.8 512.7 200.3 514.2 195.9 511.3 194.4 508.3 194.4 503.8" fill="none" stroke="#9a9a9a" stroke-width="1.6" stroke-linejoin="round"/><path d="M195.9 515.7 200.3 515.7 201.8 520.2 198.8 523.2 195.9 521.7 195.9 515.7" fill="none" stroke="#9a9a9a" stroke-width="1.6" stroke-linejoin="round"/><path d="M197.4 523.2 204.8 520.2 210.8 517.2 218.2 517.2 222.7 518.7 219.7 524.7 216.7 529.1 212.3 530.6 207.8 529.1 204.8 530.6 200.3 529.1 197.4 526.2 197.4 523.2" fill="none" stroke="#9a9a9a" stroke-width="1.6" stroke-linejoin="round"/><path d="M222.7 487.4 227.2 490.4 231.6 490.4" fill="none" stroke="#9a9a9a" stroke-width="1.6" stroke-linejoin="round"/><path d="M219.7 482.9 222.7 478.5 227.2 477 231.6 480 234.6 484.4 239.1 485.9 243.5 488.9 249.5 490.4 252.5 493.4 246.5 494.9 242.1 497.8 239.1 502.3 237.6 505.3 240.6 508.3 245 506.8 249.5 508.3 251 512.7 248 515.7 245 518.7 242.1 523.2 239.1 526.2" fill="none" stroke="#9a9a9a" stroke-width="1.6" stroke-linejoin="round"/><path d="M175 478.5 179.5 481.5 183.9 482.2 189.9 482.9 195.9 482.9 201.8 482.2 204.8 480 207.8 477 210.8 474" fill="none" stroke="#9a9a9a" stroke-width="1.6" stroke-linejoin="round"/><path d="M177 479 175 484 177 489 180 492 185 495 188 500 192 503 195 507 194 514 196 520 197 526 202 529 205 528" fill="none" stroke="#9a9a9a" stroke-width="1.6" stroke-linejoin="round"/><path d="M180 499 184 498 187 502 186 507 182 508 179 504 180 499" fill="none" stroke="#9a9a9a" stroke-width="1.6" stroke-linejoin="round"/><path d="M186 510 190 509 192 513 189 517 186 515 186 510" fill="none" stroke="#9a9a9a" stroke-width="1.6" stroke-linejoin="round"/><path d="M219 485 224 484 229 487 234 486 236 490 231 494 226 495 221 492 219 485" fill="none" stroke="#9a9a9a" stroke-width="1.6" stroke-linejoin="round"/><path d="M238 502 243 501 247 504 246 509 241 510 238 507 238 502" fill="none" stroke="#9a9a9a" stroke-width="1.6" stroke-linejoin="round"/><path d="M227 515 232 514 236 517 234 522 229 522 227 515" fill="none" stroke="#9a9a9a" stroke-width="1.6" stroke-linejoin="round"/><path d="M208 517 212 515 214 519 211 522 208 521 208 517" fill="none" stroke="#9a9a9a" stroke-width="1.6" stroke-linejoin="round"/><path d="M143 413.8 139.3 416 136.5 419 134.3 423 133.6 427 134.6 431 137 434.1 140 436.1 144 436.8 148 435.6 152 432.1 154.2 428 155 423 153.7 418 151 414.7 147 413.3 143 413.8" fill="none" stroke="#f23b3b" stroke-width="1.05" stroke-dasharray="3.5 2" stroke-linejoin="round"/><path d="M145 404 139 406 133 410.9 128.3 418 126 425 126.1 428 127.2 432 132 440.5 136 444.2 139 445.5 142 446 145 445.8 149 444.7 153 442.5 156 439.8 158.9 436 160.9 432 162.8 424 162.7 419 161.9 415 160.1 411 158 408.2 155 405.8 152 404.5 149 403.9 145 404" fill="none" stroke="#f23b3b" stroke-width="1.05" stroke-dasharray="3.5 2" stroke-linejoin="round"/><path d="M142 396.9 138 398.3 134 400.6 128 406.5 125 411.3 122.3 417 120.8 422 120.4 426 120.7 429 122.1 433 130 447.9 132 450 135 451.9 138 452.9 142 453.3 148 452.6 153 450.7 157.1 448 161 444 164.4 439 167.1 433 168.6 427 169.2 420 168.6 414 167.4 409 165 404.3 162 401.1 158 398.5 153 396.7 148 396.2 142 396.9" fill="none" stroke="#f23b3b" stroke-width="1.05" stroke-dasharray="3.5 2" stroke-linejoin="round"/><path d="M144 389 138 390.1 132.5 392 128 394.7 125 397.7 121.7 403 118.3 411 115.9 419 114.9 425 115.1 429 116.1 433 126 453.5 128.3 456 132 458.3 136 459.7 141 460.3 148 459.8 154.8 458 159 455.9 163 452.2 168 444.8 171.7 437 174.1 429 175.2 420 174.6 405 173.3 401 171.2 398 165.9 394 158 390.3 151 388.8 144 389" fill="none" stroke="#f23b3b" stroke-width="1.05" stroke-dasharray="3.5 2" stroke-linejoin="round"/><path d="M104 378.8 102 379.4 100 381 99.1 383 99.2 385 100.8 387 106 389.4 109.4 392 111.4 395 112.5 399 112.3 405 109.5 420 108.8 427 109.3 435 111.4 443 115.8 453 121.1 460 128 464.8 136 467.2 144 467.6 155 466.6 161 465 165 462.5 168 458.3 175.3 444 177.8 438 180.5 428 182.7 412 185 406.7 188 404 191 402.8 204 401.6 210 400.2 214.1 398 215.6 396 215.2 394 214.4 393 211.1 391 208 390 201 389.4 187 391.2 181 390.9 173 388.4 159 381.6 154 380 150 379.8 136 381.6 127 382 121 381.4 109 378.7 104 378.8M94 390.7 92.6 392 92.3 393 93 394.1 94 394 95.1 393 95.2 391 94 390.7M50 535 46 535.5 42 537 38 539.8 35.3 543 34.1 546 34 548 36.9 555 36.8 557 35.5 559 30.1 564 28.8 567 29.1 571 32.1 576 37 580 42 581.8 46 581.9 51 581.2 55.4 580 59 578.2 61.4 576 63 573.6 65.5 566 66.2 560 66.2 553 65.5 548 64 543.6 61.5 540 58 537.1 54 535.5 50 535M223 556.9 218 558.5 213.9 562 211.7 566 211.4 571 213.9 576 219 580.5 224 582.7 229 582.7 233.1 581 237.3 577 239.1 573 239 569 237 565 232.2 560 228 557.6 223 556.9" fill="none" stroke="#f23b3b" stroke-width="1.05" stroke-dasharray="3.5 2" stroke-linejoin="round"/><path d="M93 369 88 371 85.4 375 84.6 380 84.4 390 85.3 396 87 399.2 90 401.8 93 402.9 99.6 404 101 405 102 406.6 102.8 412 101.8 432 103 444 110.9 456 115 466.1 117 468.2 122 471.6 127 473.9 132 475.3 142 476.2 156 475 163 473 169.9 469 173.9 464 177.2 455 183.1 443 185.3 436 189.1 419 191.9 413 194 411 198 409 213 405.4 225.7 401 229 399 230.6 396 230 393.4 228 391.2 220.9 388 207 384.4 188 383.6 181 382.5 174 379.9 161 372.2 156 370.3 151 370.1 140 371.9 134 372.2 127 371.6 108 368.2 101 368.1 93 369M38 393.7 35 395.1 33 397.3 32.2 400 32.9 403 35 405.2 38 406.6 42 406.8 45 405.7 47 404 48 402 48.2 399 47.4 397 46 395.4 43.7 394 41 393.4 38 393.7M51 512.7 38 519.6 26.8 528 19 532.1 17 534 16 536.4 15.9 540 18.1 549 16.2 564 16.6 569 17.9 575 20.9 582 25 588.3 29 592.3 34 594.6 38 594.6 50 590.3 63 588.5 67 587.2 70.2 585 72.7 582 74.9 578 76.1 574 76.7 569 77.7 547 77.5 543 76.7 540 69 525 66 521.2 57 513.5 54 512.4 51 512.7M221 546.9 214 548.6 209 550.7 205 554.5 200.4 561 198.5 566 198 572 199.5 578 202.6 583 206 586.3 212 590 218 592.5 223 593.3 230 593 243 590.7 249 588.3 253.8 585 259 579 260.4 576 261.4 572 261.4 568 260.7 565 259.4 562 257 558.6 252 554.3 246 551.6 230 547.1 226 546.6 221 546.9" fill="none" stroke="#f23b3b" stroke-width="1.05" stroke-dasharray="3.5 2" stroke-linejoin="round"/><path d="M78 355.7 75.4 357 74 358.6 72.7 363 74.7 383 76.6 391 81.5 402 84.4 406 89.8 412 91.5 415 92.8 421 94.3 438 104.3 450 108 456 110.2 461 111.7 466 112.1 470 111.6 474 110 478.5 117 483.6 125 486.6 132 487.9 139 488.1 146 487.6 154 486.1 162 483.3 176 474.3 179 471.4 181.4 468 188.4 452 190.3 446 193.1 429 195 424 198 419.4 201 416.7 206 414.1 223 407.6 235.8 404 239 401.4 240.9 398 241.2 394 240.1 391 237 387.3 233 384.9 228 383.1 212 379.5 195 376.7 189 375.2 182 372.1 168 364 160 361 152 360 136 361.3 127 361.1 97.6 359 93 358.2 84 355.5 81 355.2 78 355.7M38 386.8 32 389.1 29 391.2 26.3 394 24.1 399 24.1 402 25 405 28 409.1 34 412.7 42 414.4 46 414.4 49 413.8 53 410.8 55.8 406 57 401 56.3 396 53.7 392 49 388.5 44 386.8 38 386.8M37 481.8 32 483.4 27 486 24 488.5 22 491.7 20.5 497 18.6 510 13.2 520 11.5 525 8.4 544 2.6 553 1.3 560 1.7 569 3.6 579 6.6 588 10.1 595 14.7 601 20 605.4 27 609.2 33 610.6 37 610 40 608.6 43 606.1 47.6 601 51 598.6 55 597.5 65 598.1 70 597.2 76.3 594 81.8 589 87.3 581 90.5 573 91.3 568 91.6 555 93 541 92.4 532 91 528.1 90 527.2 89 527.5 85 531.6 82 532.8 79 532 76.4 529 75.2 525 75.2 521 76 517.6 78.6 512 78.8 510 77.4 507 73.9 503 62 490.9 54 484.8 49 482.6 45 481.6 41 481.3 37 481.8M201 533.5 197.5 536 194.2 540 184.7 554 183.3 557 182.8 560 184.5 568 184.6 574 185.3 577 191.2 587 196 596.7 199 599.4 202 600 218 600.5 233 599.6 238 600.2 248 602.6 252 602.6 256 601.8 262 599.3 266 596.7 268.3 594 271.9 586 274 583 276.8 581 283 578.2 285.8 575 286.5 572 285.7 568 276.4 554 270 547.8 259 541.3 250 537.9 232 534.2 227 534 215 535.9 205 533.1 201 533.5" fill="none" stroke="#f23b3b" stroke-width="1.05" stroke-dasharray="3.5 2" stroke-linejoin="round"/><path d="M75.8 438 82 438 88 440.5 94 445.4 100.3 453 103.8 460 104.9 466 103.8 471 102 473.6 100 475.3 97 476.8 93 477.7 89 477.7 85 476.6 81 474.3 77 471 69.4 462 67.3 458 66 454 65.6 450 66 447 67.2 444 69.5 441 72.6 439 75.8 438M211.7 514 215 513.4 217 514.2 218.5 516 219.2 518 219.1 520 218.3 522 217 523.3 215 524 213 523.7 210.3 521 209.7 517 210.6 515 211.7 514M188.6 517 191 516.4 193 517.2 194.4 519 195 521 195 524 194 526.7 192 528.8 190 529.6 187 528.7 185.6 527 185 525 185 522.2 185.7 520 188.6 517M79 648 81.7 637 86.4 624 90.6 616 95.8 609 103 601.3 110 595.9 122 589 125.5 588 129 587.7 136 589.2 147 594.7 151 596 155 596.1 164 593.6 170 592.9 175 593.8 177.5 596 178.3 598 178.4 601 176.7 606 174 609.6 166.2 616 164.5 620 164.5 624 167.2 639 167.9 648" fill="none" stroke="#f23b3b" stroke-width="1.05" stroke-linejoin="round"/><path d="M77 442 82 441.7 87 443.4 93 448.2 97.9 454 100.4 459 101.4 464 100.1 469 97.2 472 94 473.4 91 473.9 88 473.6 85 472.6 79 468.4 73.5 462 70.5 456 70 450 70.9 447 72.3 445 74.7 443 77 442M93.8 648 95.5 639 98.4 631 102.1 624 106.9 618 110 615.6 114 614 130 611.9 134 612.4 137.1 614 141 617.6 144.2 622 147 627.5 149.3 634 150.8 641 151.5 648" fill="none" stroke="#f23b3b" stroke-width="1.05" stroke-linejoin="round"/><path d="M79 446 83 445.7 87 447.1 91 450 94.7 454 97 458 97.9 462 97 466 95 468.2 91 469.6 86 468.8 81 465.6 77 461.1 74.6 456 74.2 452 75.9 448 79 446M110.9 648 112.1 643 115 637.8 119 634.5 123 633.6 127 634.9 130 637.6 132.4 642 133.8 648" fill="none" stroke="#f23b3b" stroke-width="1.05" stroke-linejoin="round"/><path d="M82.3 450 85 450.1 87 450.9 92.1 455 93.9 458 94.4 460 94.2 462 93 464.1 90 465.3 87 464.9 83.5 463 80.5 460 79 457 78.6 454 80 451.1 82.3 450" fill="none" stroke="#f23b3b" stroke-width="1.05" stroke-linejoin="round"/><path d="M84 455 86 454.4 89 455.7 90.7 458 90.7 460 89 461.2 87 460.9 85.5 460 83.5 457 84 455" fill="none" stroke="#f23b3b" stroke-width="1.05" stroke-linejoin="round"/><path d="M202 457C204 456.2 209.8 453.7 214 452C218.2 450.3 222.7 449 227 447C231.3 445 235.3 442.5 240 440C244.7 437.5 250.2 434.6 255 432C259.8 429.4 264.5 426.7 269 424.5C273.5 422.3 278.2 420.4 282 419C285.8 417.6 290.3 416.5 292 416" fill="none" stroke="#f23b3b" stroke-width="1.2"/><path d="M205 470C207.8 468.7 216.3 464.8 222 462C227.7 459.2 233.5 455.7 239 453C244.5 450.3 249.8 448.2 255 446C260.2 443.8 265 441.7 270 440C275 438.3 281 437 285 436C289 435 292.5 434.3 294 434" fill="none" stroke="#f23b3b" stroke-width="1.2"/><path d="M244 489C246 488.5 251.7 487.2 256 486C260.3 484.8 265.3 483.3 270 482C274.7 480.7 280 479 284 478C288 477 292.3 476.3 294 476" fill="none" stroke="#111111" stroke-width="1.2"/><path d="M253 488C253 488.8 252.1 489.9 250.9 490.5C249.8 491.1 247.6 491.5 246 491.5C244.4 491.5 242.2 491.1 241.1 490.5C239.9 489.9 239 488.8 239 488C239 487.2 239.9 486.1 241.1 485.5C242.2 484.9 244.4 484.5 246 484.5C247.6 484.5 249.8 484.9 250.9 485.5C252.1 486.1 253 487.2 253 488Z" fill="none" stroke="#111111" stroke-width="1.2"/><path d="M127.4 648 125 643.2 123 641.7 121 641.4 118 643.1 115.9 648" fill="none" stroke="#111111" stroke-width="1.1" stroke-dasharray="3.5 2" stroke-linejoin="round"/><path d="M167 452.8 165.4 454 164 456 162.9 460 163.1 465 164 467.2 165 467.8 167 467.1 169 464.8 171.5 459 171.5 456 170.7 454 169 452.7 167 452.8M134.9 648 133 640.9 129.5 635 125 631.3 120 629.9 116 631 112 635 109.5 641 108.3 648" fill="none" stroke="#111111" stroke-width="1.1" stroke-dasharray="3.5 2" stroke-linejoin="round"/><path d="M38 414.9 37 415.1 36.4 417 37 418.3 39 419.2 40 418.6 40.2 417 39 415.3 38 414.9M166 447.9 164 449.5 162 452.5 160.7 456 159.9 461 160 467 160.8 471 162 473.5 164 474.6 167 472.9 171 467.8 174.4 462 175.9 457 175.6 453 173 448.9 170 447.2 168 447.2 166 447.9M140.3 648 139.3 643 137.6 638 135.5 634 132.5 630 129 626.6 125 623.8 121 622.1 117 621.6 114 622.1 112 623.1 110 624.9 107.8 628 104.4 637 102.8 648" fill="none" stroke="#111111" stroke-width="1.1" stroke-dasharray="3.5 2" stroke-linejoin="round"/><path d="M36 397.9 31 399.5 26.4 403 23.8 407 22.7 412 23 420 24.5 426 32 437.5 34 439 44 437 50 434.8 60.2 428 63 425 63 424 61.7 422 55 414.6 45 401.8 41 398.7 39 398 36 397.9M83 422 75.9 424 74.6 425 74.3 426 77.4 429 85 432.7 93.2 435 107 436.4 111 435.7 113 433.5 113 431 111.8 429 108 426.1 104 424.3 93 421.8 83 422M167 442.9 164 444.6 161 448.2 159 453 157.9 459 157.7 467 158.7 474 160.4 478 163 479.5 166 478.4 169 475.1 178.2 462 180.4 456 179.8 451 176.3 446 172 443.2 169 442.6 167 442.9M36 483.8 31 486 30 487.1 29.3 489 30.1 491 32.2 493 35 494.2 38 494.2 41 493 43.6 491 45 488.9 45.3 486 44 484.1 42 483.2 36 483.8M145.4 648 144.2 642 142 636 139 631 134.7 626 129 620.4 124 616.8 117 613.5 112 612.4 109 612.8 107 613.9 105 616.2 103.5 619 98.8 638 97.5 648" fill="none" stroke="#111111" stroke-width="1.1" stroke-dasharray="3.5 2" stroke-linejoin="round"/><path d="M166 363 162 365 159.8 368 159.4 370 159.8 372 162 374.7 164 375.6 166 375.7 172 374 177 373.3 178.7 372 179.3 370 179 368 178 366 176 364.2 171 362.5 166 363M47 380.7 40.9 386 21.1 397 17.7 400 15.3 404 14.3 409 13.5 425 15.1 430 20 439 22 447.7 24 450.3 26 451.3 29 451.7 35 450.3 48 444.8 60 436.5 66 434.5 72 434.8 87 439.6 101 441.7 111 444.3 115 444 122.9 442 125.6 440 126.4 436 125 430.9 121.5 427 116 423.8 108 420.9 96 418.1 88 417 71 415.8 67 414.6 62.6 412 58 407.4 54 401 49.5 390 49.3 382 48.5 381 47 380.7M168 438 164 439.5 160 443.7 157.5 449 156.2 455 155.7 466 156.7 476 158.6 481 160 482.5 162 483.1 165 482.5 168.2 480 175 470.8 184 461 185.7 458 186.4 455 185.5 450 183.7 447 180.9 444 174 439 171 438 168 438M43 477 27 480.3 21.9 482 18.8 484 17 486 16.3 488 16.7 490 18.4 492 21.5 494 32 498.6 37 498.9 42.8 497 47 494.3 49.3 492 50.4 490 50.9 487 50.5 483 49 479.5 46 477.4 43 477M57 590.8 53.5 593 51.1 597 50.2 602 51 606.9 53.4 611 57 613.9 61 615 65 614.5 69 612 71.1 609 71.8 606 71 602 68 596.3 65 592.9 61 590.8 57 590.8M151 648 149.8 642 147.6 636 145.4 632 142.2 628 126 612.2 115 605.6 109 604.2 105 604.8 101 606.9 97.9 610 96.3 613 95.5 617 94.9 630 92.3 642 91.6 648" fill="none" stroke="#111111" stroke-width="1.1" stroke-dasharray="3.5 2" stroke-linejoin="round"/><path d="M163 356.9 156.3 360 154 362 151.8 365 150.8 368 150.7 371 151.5 374 153 376.5 158 380.7 165 383.2 175 383.6 179 382.8 182 381.1 185.3 377 186.4 372 185.6 367 183 361.8 180 358.9 175 356.7 169 356 163 356.9M43 369.9 39 372.4 33 381 28.8 385 24 387.9 12 393.3 7.3 397 5.6 400 3.9 409 0.1 417 -0.8 421 -0.5 425 1.4 430 15.7 453 18 455.5 21 457.6 29.5 461 32 462.5 35.5 466 36.7 469 35.8 471 34 472.2 21 473.7 14 476.4 7.3 480 4 482.3 1.7 485 1 487 1.3 490 4.4 494 9.7 497 32 502.6 37 502.4 43 500.4 50.4 496 52.7 494 54.1 492 54.6 489 54 475 52.7 472 47.7 466 47.1 462 48.1 459 56.4 446 58.9 443 61.4 441 65 439.5 68 439.4 72 440.5 76.3 443 80.9 447 82.6 454 84.2 457 86.7 459 89 459.6 91 459.4 93 457.9 93.9 456 95 450 97 448.4 101 447.9 112 449.7 126 449.1 128 447.9 130 445.4 131.8 440 130.4 427 129 424.4 125.6 422 119 419.5 109 417.2 91 413.5 74 411 70 409.6 67 407.8 63.5 404 61.5 400 60.2 395 58.3 381 56 375.2 53 372 50 370.3 46 369.5 43 369.9M167 431.7 162 434.3 158 438.8 155.7 444 154.1 452 153.7 465 154.8 478 157 483.9 159 485.7 161 486.2 164 485.8 167.4 484 177 472.4 188.1 464 192.2 459 194.1 454 194 451 193.1 448 191 445 187.8 442 179 435.2 175 432.8 171 431.5 167 431.7M214 510 206 512.1 203 514 201.3 516 200.8 518 202 520.6 204 522.3 207.7 524 216 525.2 225.1 524 232.8 521 235 519 236.1 517 236.2 515 235.5 513 232 510.8 224 509.7 214 510M11 583.9 9 585.8 8.5 588 9 590 11 590.9 13 589.8 14.4 587 14 585 13 584.1 11 583.9M158.3 648 155.1 638 149.9 629 146.1 625 138 618.5 131 610.9 127 607.6 116 600.4 112 598.8 108 598.2 100 598.8 91 601.1 85 603.9 82 603.6 79 601.8 76.6 599 75.1 596 72.9 589 70 585.4 64 581.3 60 579.9 57 579.6 51 581 46 584.8 43.1 589 38.5 598 30.3 605 29.6 607 29.8 609 32 611.4 41 615.3 51.3 625 55 627 59 628.1 64 628.3 68 627.1 75 620.8 80 618 83 617.5 86 618.5 87.7 621 87.9 625 86.7 633 83.8 643 83.3 648" fill="none" stroke="#111111" stroke-width="1.1" stroke-dasharray="3.5 2" stroke-linejoin="round"/><path d="M122.5 348 130 388 129.8 393 126.6 400 122 404.9 116 407.6 109 408.4 101 407.6 91.9 405 85 401.6 80 397 77.1 392 73.5 383 71.1 376 67.1 360 61.6 348M227.2 407 231 406.8 234 408.5 236.2 412 237.4 417 237.1 423 235.4 428 232.4 432 229 433.5 226 432.8 222.5 430 220.1 426 219.2 422 219.5 418 221.2 413 224 409.1 227.2 407M140.6 445 143 444.5 145 445.3 147.4 449 149 456.7 150.7 477 151.8 484 153 487.4 155 490.9 157 493 159 494 162 493.5 168 489.9 178 478.7 189 472.9 197 464.8 209 454.3 215 450.5 222 447.5 228 445.4 232 444.6 236 444.6 240 445.5 244 448.3 251.1 459 251.7 461 251.9 464 250.2 468 248 470.2 240 476 235.8 481 235 484 236.3 489 236.4 492 235.8 494 234 496.3 230 497.9 210 498.5 196 501.2 191.9 503 189 505.3 186.3 509 184.8 513 184.8 517 185.8 520 187.9 523 191.5 526 196 528.5 201 530.4 208 532.2 214 533 229 533.1 237 533.8 240 533.4 241.6 532 243 529.6 245 525.1 247.2 518 249 514.5 253 510.8 257 509.2 262 509.3 267 511.4 271.5 516 273.7 521 274.2 525 273.5 529 271.6 533 268 537.2 262 541.1 258 542.5 249 544 247.3 546 247.2 550 249.1 555 252 558.2 258.9 563 260.9 566 261.4 571 259.4 576 256 579.7 247 586.2 238 595 223 603.5 220 606.4 217.7 610 216.6 614 217.7 618 221 620.8 227.2 622 229 623.8 229.8 626 229.5 630 227.5 634 224.8 637 221 639.2 215 640.4 210 639.1 206.6 636 202.2 628 200 626.5 195 626 180 627 175 626.3 171 624.9 162 618.4 152 614.3 145 610.5 133.6 601 119 591.2 90 579.1 85 576.4 75.6 569 59.4 553 42.3 533 36.2 523 35.4 518 36 516 38.3 513 47.2 506 60.9 498 64 495.1 65 492 64.7 486 65.7 484 66.8 483 72 480.6 97 472.2 105 470.3 117 469 121 467.8 124 465.7 127 462.6 137 448.3 140.6 445" fill="none" stroke="#111111" stroke-width="1.1" stroke-linejoin="round"/><path d="M116.1 348 118.2 358 119.7 369 120.7 383 120.2 390 118.2 395 114.7 399 110 401.5 105 402.2 98 401.2 92 398.7 87.1 395 83 390 79.5 384 76.4 377 71.4 358 67.8 348M227 415 229 414.5 230.3 415 231.8 417 232.2 419 232 422 231.3 424 230 425.6 228 426.4 225.3 425 224.2 422 224.7 418 227 415M229 449 235 449.1 240 451.1 242.1 453 244.1 456 245.4 459 245.9 462 245.2 465 243.9 467 230.2 482 228.9 485 228.8 490 228 491.4 225 492.7 220 493.7 203 495.3 197 495.4 190 494.4 176 496.4 174 496 172.6 495 172.1 493 173.2 490 176.3 485 179 481.8 181.7 480 187 477.7 191 475 198.9 466 212 455.5 220 451.4 229 449M139.4 452 141 451.3 143 451.7 145.3 455 147.2 462 149 480 150.2 486 154 494.8 159 502.2 163 505.1 169 507.1 172 508.8 173.7 511 176.7 518 179.2 522 183.6 526 190 530.3 196 533 205 535.8 213 537.6 226 539.6 229 541.2 230.8 544 231.2 548 229.2 569 227.1 576 222.5 585 219.2 590 205 605.7 199 609.8 192 612.6 184 614.6 178 614.7 175 613.9 167 610.3 155 609.8 152 609 148.3 607 134 595.1 124 588.4 109.9 580 99 569.7 96 568.2 87 564.9 82 561.3 78.1 557 70.8 547 62.2 538 53.9 523 51.8 518 51.2 513 52.9 509 56.1 506 65 501 68.7 498 70.5 495 71 488 73 485.3 78 483 89 480.5 99 479.1 115 478.4 119.8 477 124 473.1 134 458 139.4 452M255.1 514 260 513.3 264 514.7 267.5 518 269.2 522 269.1 527 267.3 531 264 534.3 259 536.3 255 536.2 252 535.1 249.6 533 248.4 530 248.5 525 250 519.1 252 516.1 255.1 514M212.7 628 215 628.1 216.4 630 216.2 632 215 633.2 213 633.3 211.7 632 211.4 630 212.7 628" fill="none" stroke="#111111" stroke-width="1.1" stroke-linejoin="round"/><path d="M111.3 348 113.3 357 114.4 366 114.6 376 113.8 383 112 388 109.6 391 106 393.2 101 394 96 393.2 92 391.2 88 387.8 83.6 382 78.9 372 72.5 348M225.9 452 232 451.7 237 453.4 240.3 457 241.4 462 240.6 465 237.4 470 221 488.7 218.8 490 215 491.2 202 492.5 196 491.8 190 489.5 182.6 488 181.9 487 182.6 485 192 477.8 198.7 469 206 462.3 216 455.5 221 453.3 225.9 452M140 458 142 458.7 144 461.9 148.5 488 154 502 159 509.8 170.3 523 173.6 526 183 530.7 192 536.9 204.2 542 209.9 545 213.5 548 215.7 552 216.5 558 216 565 214.6 570 211.6 576 197 597 191 601.6 184 604.5 178 605.5 167 604.7 157 605.6 154 605 152 604 134 588.7 111 573.3 101 563.4 90.8 556 86.9 552 78.2 541 69.7 535 67.6 531 63.5 517 63.5 512 65.9 508 75.5 499 76.7 496 77 490 78.1 488 82 485.7 90 483.8 97 483.1 115 482.9 121 481.6 125.2 478 135 461.8 138 458.8 140 458M256.8 517 260 516.9 262.6 518 264.6 520 265.7 523 265.7 526 264.3 529 262 531.2 259 532.3 256 532.1 254 531.1 252.3 529 251.7 527 251.8 523 252.9 520 254.8 518 256.8 517" fill="none" stroke="#111111" stroke-width="1.1" stroke-linejoin="round"/><path d="M107.1 348 109 356 109.9 363 109.9 370 109.1 376 107.8 380 105 383.7 102 385.5 98 386.2 94 385.2 91 383.2 87.8 380 84.5 375 81 366.3 76.6 348M226 454 230 453.9 234 455 236.5 457 238 460 238.1 463 236.7 467 234.1 471 229.8 476 219 485.9 214 488.5 208 489.7 202 490 197 489 193.6 487 192.2 485 192.6 482 199.4 471 202 468 208 462.7 214 458.4 220 455.5 226 454M136.7 466 138 465.3 140 465.5 141.7 468 143.5 474 146 487 151.1 503 155 511.5 164 527 167 530.9 170 533.3 173 534.1 179 534.3 182 535.9 187.8 544 197.4 552 199.5 555 201.2 559 202 565 201.1 571 198.6 577 193.7 585 190.6 589 187 592.1 182 595.2 176 597.6 169 598.9 160 599.5 156 598.7 151 596.6 145 593 136 582.9 128 576.5 121 571.7 114 568.9 111 567.1 107.2 563 101 553.5 90 542.2 79.1 529 77 525.6 74.9 520 74.1 516 74.5 512 75.9 509 82.8 500 83.3 498 83.1 492 85 489 89 487.2 94 486.3 116 486 122 484.7 124.7 483 127 480.7 133 470.3 136.7 466M256.5 522 259 521.1 261 522.5 261.5 525 260 527.2 258 527.6 256 526.3 255.6 524 256.5 522" fill="none" stroke="#111111" stroke-width="1.1" stroke-linejoin="round"/><path d="M102.8 348 105.2 359 105.5 364 105 369.3 104 373 102 376.2 100 377.8 97 378.5 94.6 378 92 376.5 89 373.5 86.8 370 83.7 362 80.8 348M224.6 456 229 455.9 232 456.8 234 458.3 235.4 461 235.4 464 234.4 467 230 473.5 221 481.5 214 485.7 210 486.9 205 487.6 201 487.3 198 485.8 196.7 484 196.9 481 200.4 473 203.2 469 208.6 464 214 460.1 219 457.6 224.6 456M135.5 474 138 473.3 139.9 475 141 477.2 149.4 508 163 538.4 170 549.3 180.8 561 183.8 567 184.3 570 183.9 574 180.7 581 173.9 589 170 591.8 166 593.4 162 594.1 158 594 153 593.3 149 591.9 146.5 590 145 588 141.9 581 139 576.4 134 570.4 128 564.5 126 563.3 124 562.9 118 563.9 115 563.9 111.5 562 108.4 557 105 543.8 103 541.1 96.7 537 93 533 86.3 516 85.9 513 86.9 509 92 502.7 93.2 500 93.1 497 91.5 493 91.9 491 94 489.7 97 489 115 489.3 121 488.3 124 486.8 127.6 484 135.5 474" fill="none" stroke="#111111" stroke-width="1.1" stroke-linejoin="round"/><path d="M97.3 348 99.5 355 99.9 362 99.2 365 98 367.2 97 368.1 95 368.5 92 366.9 89 362.3 87 355.7 86.1 348M222.6 458 226 457.6 229 458 231.1 459 232.7 461 233.2 463 232.8 466 229.3 472 223 478 215 482.8 207 484.9 204 484.8 201.9 484 200.5 482 200.5 479 202 474 204.5 470 208.4 466 213.5 462 218 459.5 222.6 458M135.3 481 137 480.8 138 481.4 141 487.2 143.6 496 144.3 505 145.6 511 163.3 556 167.3 569 168.7 578 168.3 582 166 586.2 163.7 588 161 589.1 156 589.7 152 589.3 149.6 588 148.2 586 146.5 578 140.3 561 136.4 541 135 537.5 134 537.3 133 538.1 127.5 549 123.3 555 119 558.7 117 559.4 115 559.4 112 557.1 110.3 553 109.6 548 109.5 536 109 532.8 107 531 101 529.7 99 527.8 97.8 525 97.4 521 97.8 518 99 515.2 101 513.1 105 511.7 116 512.1 121 510 124 507.5 125.2 505 125.1 503 121.2 496 121 494 123.4 491 132 483.3 135.3 481M98.6 494 100 493.4 103.4 494 104.6 495 104.6 496 101 499.3 99 499.4 97.9 496 98.6 494" fill="none" stroke="#111111" stroke-width="1.1" stroke-linejoin="round"/><path d="M220.9 460 224 459.4 227 459.6 229 460.5 230.4 462 231 464 230.8 466 228.3 471 223 476.2 217 479.9 210 481.9 207 482 205 481.2 203.6 479 203.7 476 204.6 473 206.5 470 213 463.9 217 461.5 220.9 460M132.3 487 135 486.3 137 487.2 138.8 490 139.7 493 140.1 496 139.6 499 138 501.4 136 502.4 134 502.2 131 500.5 128.9 498 127.4 495 127.4 493 128.2 491 132.3 487M122.4 519 124 518.6 126 519 128 521.8 128.8 527 128.2 535 126.2 543 123 550 119 554.6 116 555.5 113.7 554 112.2 550 111.8 544 112.6 537 114.3 530 116.5 525 119 521.5 122.4 519M149.3 548 150 547.4 151 547.8 154 552.4 157 560.2 158.5 566 160.6 580 159.9 582 157 583.6 155 583.5 153.6 582 152.7 577 149.3 565 148.1 555 148.4 551 149.3 548" fill="none" stroke="#111111" stroke-width="1.1" stroke-linejoin="round"/><path d="M219.5 462 225 461.3 228 463 228.7 466 227.1 470 223 474.4 218 477.6 212 479.3 208 478.7 207 477.8 206.4 476 206.6 474 207.9 471 213 465.6 219.5 462M120.7 526 123 525.4 125 527.3 125.8 531 125.5 537 124.3 542 122 547.3 119 550.9 117 551.7 115 550.5 114.1 548 114 540.8 116.4 532 118.7 528 120.7 526" fill="none" stroke="#111111" stroke-width="1.1" stroke-linejoin="round"/><path d="M218.7 464 222 463.2 225.1 464 226 465 226.2 467 225 470 222 473.2 217.3 476 213 476.9 210.2 476 209.5 475 209.4 473 210.9 470 215 466 218.7 464M119.6 532 121 531.1 122.5 532 123.2 534 123.2 537 122.4 541 121 544.4 119.9 546 118 547.3 117 547 116 545 116 541 117.2 536 119.6 532" fill="none" stroke="#111111" stroke-width="1.1" stroke-linejoin="round"/><path d="M219.4 466 222 466 223 467 222.3 470 218.9 473 216 474 214 473.8 213.1 473 212.9 472 213.7 470 216 467.7 219.4 466" fill="none" stroke="#111111" stroke-width="1.1" stroke-linejoin="round"/>
</g>
<circle cx="145.2" cy="497.4" r="144.8" fill="none" stroke="#6a6a6a" stroke-width="1"/>
<g clip-path="url(#cd)">
<path d="M405.1 444 411 444 417 445.4 422.2 448 426.3 452 427.9 456 427.5 461 425 465.4 420.8 469 417 470.9 413 472.1 409 472.5 404 472.2 400 471.3 396 469.5 392.6 467 390 464 388.6 461 388.3 457 389 454 390.8 451 394 448 397 446.2 401 444.8 405.1 444Z" fill="#0b3366" fill-rule="evenodd"/><path d="M400.7 442 408 441.2 415.3 442 423 444.9 428 448.5 431 453 431.8 458 430.6 463 427 468 423.3 471 419 473.2 414 474.7 408 475.3 402 474.7 397 473.2 392.7 471 389 468 386.6 465 384.9 461 384.5 457 385.6 453 388.1 449 391.5 446 396 443.5 400.7 442ZM406 443.9 402 444.5 397.5 446 394 448 391 450.8 389 454 388.3 457 388.4 460 389.4 463 391.6 466 394 468.2 398 470.5 402 471.8 406 472.5 411 472.4 415 471.6 419 470 424 466.5 427.1 462 428 457 426.9 453 423.6 449 418.6 446 412 444.1 406 443.9Z" fill="#144b8c" fill-rule="evenodd"/><path d="M402.1 439 411 438.6 419 440.2 427 443.7 432.4 448 435 453.4 435.2 460 432.8 466 428.3 471 423.9 474 418 476.5 412 477.8 406 478 400 477.1 394 475 388.9 472 384.7 468 382.2 464 380.9 459 381.4 454 383.3 450 386.6 446 391 442.8 396 440.5 402.1 439ZM401 441.9 396 443.5 391.5 446 388.1 449 385.6 453 384.5 457 384.9 461 386.6 465 389 468 392.7 471 397 473.2 402 474.7 408 475.3 414 474.7 419 473.2 423.3 471 427 468 430.6 463 431.8 458 431 453 428 448.5 423 444.9 416 442.2 409 441.2 401 441.9Z" fill="#2363aa" fill-rule="evenodd"/><path d="M404.4 436 414 436.3 423 438.5 432.3 443 435 445.1 437.1 448 438.6 452 439.1 457 438.7 461 437.3 465 435 468.8 432 472 424 477.2 418 479.5 411 480.8 405 480.8 399 479.8 392 477.2 386.5 474 382 470 378.7 465 377.3 460 377.4 455 379.2 450 382.1 446 386.7 442 392 439.1 398 437 404.4 436ZM403 438.9 397 440.2 392 442.3 387.8 445 383.9 449 381.8 453 380.9 458 381.8 463 383.9 467 387.6 471 392.1 474 398 476.5 404 477.8 410 478 416 477.1 422 475 427.1 472 432.1 467 435 461 435.3 455 434.6 452 433 448.8 428 444.3 420 440.5 412 438.7 403 438.9ZM541.1 439 543 438.7 543.5 439 542.9 440 539.4 442 537.8 442 538.2 441 541.1 439Z" fill="#2f78b9" fill-rule="evenodd"/><path d="M466.5 414 468 413.4 468.6 414 467.8 416 465 418.6 463 419.3 462.9 418 463.5 417 466.5 414ZM407.2 433 414 433.4 421 434.8 437 441.1 439.4 443 441 445.8 442.9 455 442.7 460 441.4 465 438.5 470 434.8 474 429.2 478 423 481 416 483.2 410 484 404 483.8 397 482.4 391 480.1 385 476.9 380.2 473 376.8 469 374.3 464 373.3 459 373.7 454 375.6 449 378.3 445 382.5 441 388 437.6 394 435.1 400 433.7 407.2 433ZM405 435.9 399 436.8 393 438.6 388 441.1 383 445 379.8 449 377.7 454 377.2 459 378.3 464 381.2 469 385 472.9 390 476.2 396 478.9 403 480.6 409 480.9 415 480.2 421 478.5 426 476.2 430 473.6 434 470 436.2 467 438.1 463 439 459 438.9 454 438 450 436.5 447 434 444.2 426 439.7 416 436.6 410 435.9 405 435.9ZM546 433 551 432.1 553.5 433 553.7 434 553 436 548.3 441 542.2 445 536 447.7 531 448.8 528 448 527.7 447 528.3 445 531.9 441 539 436.1 546 433ZM542 438.7 539.4 440 537.8 442 539.4 442 542.9 440 543.5 439 542 438.7Z" fill="#4191c6" fill-rule="evenodd"/><path d="M470.9 407 474 406.7 475 407.6 475.3 409 474.1 413 471.4 417 467 421.7 461 426.4 456 429 453.2 429 453 427 454.1 424 458.8 417 465 410.7 470.9 407ZM467 413.7 463.5 417 462.9 418 463 419.3 465 418.6 467.8 416 468.6 414 468 413.4 467 413.7ZM550.6 429 557 428.4 559 429.1 559.8 431 559.4 433 557.6 436 551.4 442 543 447.4 534 451.3 526 452.8 523 452.2 522 451.3 521.8 449 522.7 447 525.1 444 529.5 440 540 433.3 550.6 429ZM547 432.7 539.2 436 533.1 440 528.3 445 527.7 447 528 448 531 448.8 536 447.7 542.2 445 548.3 441 552.3 437 553.7 434 553.5 433 552 432.2 547 432.7ZM403.9 430 413 430.1 421 431.4 434 435.4 443.2 437 444.7 438 445.5 440 447 454 447.1 459 445.8 465 443.3 470 438.1 476 432 480.4 423 484.7 414 487.2 407 487.7 400 486.7 392 484.2 385 480.9 379 476.9 374.1 472 371 467 369.4 462 369.1 456 370.2 451 372.7 446 377 440.9 382 437 389 433.4 396 431.2 403.9 430ZM408 433 401 433.5 395 434.8 389 437.1 383.9 440 379.2 444 376.2 448 374 453 373.3 458 374 463 375.6 467 379 471.8 383 475.5 388.6 479 395 481.7 402 483.6 408 484.1 414 483.6 421 481.8 427.4 479 433 475.5 437 471.8 440.4 467 442.4 462 443 457 442.6 452 441.4 447 440.1 444 438 441.7 432.6 439 422 435.1 415 433.5 408 433Z" fill="#5ea6d1" fill-rule="evenodd"/><path d="M472.9 403 477 402.5 478.6 404 478.9 407 477.4 412 475 416 471 420.9 456.7 434 452.6 439 451.1 444 452 458 450.6 466 448.2 471 445.2 475 441.1 479 437 482 429 486.4 418 490.7 411 492.3 405 492.2 394 489.2 382 483.8 374 478.2 368.5 472 365.9 467 364.4 462 364.1 457 364.9 452 366.8 447 369.3 443 373 438.8 378 434.8 384 431.3 390 429 397 427.2 404 426.3 411 426.2 417 426.8 435 431.2 441 430.8 444 429.4 447 427 456.5 416 463 409.5 468 405.6 472.9 403ZM404 430 396 431.2 389 433.4 382 437 377 440.9 372.7 446 370.2 451 369.1 456 369.4 462 371 467 374.1 472 379 476.9 385 480.9 392 484.2 400 486.7 407 487.7 414 487.2 423 484.7 432 480.4 438.1 476 443.3 470 445.8 465 447.1 459 447 454 445.5 440 444.7 438 443.2 437 434 435.4 421 431.4 413 430.1 404 430ZM471 407 465 410.7 458.8 417 454.1 424 453 427 453.2 429 456 429 461 426.4 467 421.7 471.4 417 474.1 413 475.3 409 475 407.6 474 406.7 471 407ZM556.9 425 561 424.8 564 425.7 565.2 427 565.3 430 564 433 561.1 437 553 444.5 543 450.6 532 454.9 522 456.6 519 456.2 516.7 455 516.2 454 516.1 452 517.4 449 521.6 444 527.5 439 535 433.9 543 429.6 550 426.8 556.9 425ZM551 428.9 540 433.3 529.5 440 525.1 444 522.7 447 521.8 449 522 451.3 523 452.2 526 452.8 534 451.3 543 447.4 551.4 442 557.6 436 559.4 433 559.8 431 559 429.1 557 428.4 551 428.9Z" fill="#80bbdd" fill-rule="evenodd"/><path d="M475.4 399 479 398.4 480.6 399 481.5 400 482 402 481.9 405 480.3 411 475.4 419 461.6 434 458.1 439 456.7 444 458.1 458 457.7 463 456.6 467 454.3 472 450.8 477 446 481.7 441 485.5 434 489.5 415 498.5 411 499.7 407 499.6 400 497.3 378 487.2 369.3 481 363.1 474 360.4 469 358.5 463 358 457 359 451 361.3 445 364.6 440 369 435.2 374 431.3 380 427.8 387 425 395 422.8 402 421.8 415 421.9 423 423.3 435 426.3 438 426.4 441 425.7 447 422 458.2 411 465 405.1 471 401.1 475.4 399ZM473 403 468 405.6 463 409.5 456.5 416 447 427 444 429.4 441 430.8 435 431.2 417 426.8 411 426.2 404 426.3 397 427.2 390 429 384 431.3 378 434.8 373 438.8 369.3 443 366.8 447 364.9 452 364.1 457 364.4 462 365.9 467 368.5 472 374 478.2 382 483.8 394 489.2 405 492.2 411 492.3 418 490.7 429 486.4 437 482 441.1 479 445.2 475 448.2 471 450.6 466 452 458 451.1 444 452.6 439 456.7 434 471 420.9 475 416 477.4 412 478.9 407 478.6 404 477 402.5 473 403ZM557.7 422 564 421.1 568 421.5 571 423.6 571.5 427 570.3 431 567 436.5 554 452.3 552 453.7 547 455.4 525 460.2 516 460.7 513 460 511 458.8 509.9 456 511.9 451 515.9 446 522.6 440 531 434.1 540 428.9 549 424.8 557.7 422ZM557 425 550 426.8 543 429.6 535 433.9 527.5 439 521.6 444 517.4 449 516.1 452 516.2 454 516.7 455 519 456.2 522 456.6 532 454.9 543 450.6 553 444.5 561.1 437 564 433 565.3 430 565.2 427 564 425.7 561 424.8 557 425ZM554.9 455 560 454.1 565 454.4 569 456.1 571.6 459 572.3 463 571 467.2 568 471 563 474.2 558 475.5 554 475.3 550.7 474 548 471 547.4 467 548.3 463 551 458.2 553 456.1 554.9 455Z" fill="#a3cfe6" fill-rule="evenodd"/><path d="M479.7 394 483 393.8 485 395.4 485.3 399 484.1 406 482.4 412 480.5 416 467.5 433 464.4 439 464 443 466.2 453 466.7 459 465.8 466 463.6 472 458.4 480 452 486.3 445 491.3 429.3 500 425.4 503 422.6 506 420.2 510 418.6 515 416 536.1 414 540 413 540.7 411 540.3 409 537.9 407 533.2 401.9 514 397.5 507 394.4 504 390 501 375 493.5 367 488.5 359.7 482 354.5 475 351.3 468 349.8 460 350.3 452 352.9 444 357.2 437 363.9 430 371 424.9 380 420.4 393 416.5 406 415 420 416 437 419.9 442 419.5 448 416.2 462 404.4 469 399.2 475 395.8 479.7 394ZM476 398.8 471 401.1 465 405.1 458.2 411 447 422 441 425.7 438 426.4 435 426.3 423 423.3 415 421.9 402 421.8 395 422.8 387 425 380 427.8 374 431.3 369 435.2 364.6 440 361.3 445 359 451 358 457 358.5 463 360.4 469 363.1 474 369.3 481 378 487.2 400 497.3 407 499.6 411 499.7 415 498.5 434 489.5 441 485.5 446 481.7 450.8 477 454.3 472 456.6 467 457.7 463 458.1 458 456.7 444 458.1 439 461.6 434 475.4 419 480.3 411 481.7 406 481.8 401 481 399.3 480 398.6 476 398.8ZM565.9 417 573.3 417 576.1 418 578 419.7 579 422 579.2 424 578 433 578.5 436 580.1 438 588.5 445 590.5 448 592.1 452 592.8 456 592.7 460 590.5 472 590.4 477 591.7 481 596.5 490 597.8 497 597.3 501 596 504 594 506.3 591 508 587 508.1 582.9 506 579.3 502 574.4 494 571 491.6 567 491.2 555 492.8 549 493 543 492.2 537 490 532.6 487 529.1 483 527 478.7 525 471 523.7 469 520 467.4 507 465.5 503.9 464 502.3 462 502 460 502.8 457 506.6 451 513.5 444 523 436.4 534 429.4 545 423.7 556 419.3 565.9 417ZM558 421.9 550 424.4 541 428.4 532 433.4 523 439.7 515.9 446 511.9 451 509.9 456 511 458.8 513 460 516 460.7 525 460.2 547 455.4 552 453.7 554 452.3 567 436.5 570.3 431 571.5 427 571.2 424 569 421.9 564 421.1 558 421.9ZM555 455 552 457 548.8 462 547.4 467 548 471 550.7 474 554 475.3 558 475.5 563 474.2 568 471 571 467.2 572.3 463 571.6 459 569 456.1 565 454.4 560 454.1 555 455Z" fill="#c5e0ef" fill-rule="evenodd"/><path d="M401.9 365 404 364.4 406 364.9 408.2 367 410 370.6 411.3 376 411.6 382 409.6 396 409.7 399 412 402 416 403.6 428 405.8 441 409.2 446 409.3 452 406.8 470 394.4 478 389.8 486 387 489 386.8 491 387.8 491.5 389 491.3 391 487.6 401 484.6 415 482.4 420 477.3 429 475.9 434 477 439 483 451.8 485 454.7 487 455.8 490 455.3 494 453 513 438.4 526 429.6 538 422.7 549 417.5 562 412.8 573 410.5 582 410.6 585 411.4 587.7 413 590.2 416 594.6 424 605 433.8 605 499.4 603.6 505 600.9 510 598 513.2 595 515.1 592 516.2 588 516.6 582 515.2 571 508.8 567 507.5 563 507.3 545 509.1 538 508.6 531 507.1 522 503.5 514.2 498 508.6 492 502 481.8 499 479.2 496 477.9 492 477.2 488 477.1 485 477.8 479 481.2 467.6 491 460 496.7 439.7 508 434 512.7 431.3 517 429.6 522 426.2 548 423 559 420 563.9 417 566.3 414 566.9 410 565.5 406 561.5 401.9 554 398.7 545 393.2 525 391.1 520 389 516.5 386 513.1 382 510.2 367 502.8 360 498.6 354 494.1 349 489.4 343.8 483 339.2 475 336.8 468 335.6 460 336.4 450 339.2 441 344.5 432 351.6 424 359 418.1 368 412.7 378 408.6 393.8 404 396 402.9 398 401 398.8 398 396.6 385 396.6 377 398.7 369 400 366.8 401.9 365ZM480 393.9 475 395.8 469 399.2 462 404.4 448 416.2 442 419.5 437 419.9 420 416 406 415 393 416.5 380 420.4 371 424.9 363.9 430 357.2 437 352.9 444 350.3 452 349.8 460 351.3 468 354.5 475 359.7 482 367 488.5 375 493.5 390 501 394.4 504 397.5 507 401.9 514 407 533.2 409 537.9 411 540.3 413 540.7 414 540 416 536.1 418.6 515 420.2 510 422.6 506 425.4 503 429.3 500 445 491.3 452 486.3 458.4 480 463.6 472 465.8 466 466.7 459 466.2 453 464 443 464.4 439 467.5 433 480.5 416 482.4 412 484.1 406 485.3 399 485 395.4 483 393.8 480 393.9ZM566 417 556 419.3 545 423.7 534 429.4 523 436.4 513.5 444 506.6 451 502.8 457 502 460 502.3 462 503.9 464 507 465.5 520 467.4 523.7 469 525 471 527 478.7 529.1 483 532.6 487 537 490 543 492.2 549 493 555 492.8 567 491.2 571 491.6 574.4 494 579.3 502 582.9 506 587 508.1 591 508 594 506.3 596 504 597.3 501 597.8 497 596.5 490 591.7 481 590.4 477 590.5 472 592.7 460 592.8 456 592.1 452 590.5 448 588.5 445 580.1 438 578.5 436 578 433 579.2 424 579 422 578 419.7 576.1 418 573.3 417 566 417ZM549.1 525 551 524.2 554 524.6 556 526.4 557.2 529 557.5 532 556.6 535 555 537 553 538 551 538.1 549 537.1 546.8 534 546.3 532 546.6 529 547.4 527 549.1 525ZM460.5 572 462 571.4 464 571.5 468 573.9 472.2 579 475.8 586 477.8 593 478.5 600 477.6 605 476.5 607 475 608.2 473 608.6 471 608.1 467 605.1 463.2 600 460.2 594 458.1 587 457.5 580 458.3 575 460.5 572Z" fill="#dcebf5" fill-rule="evenodd"/><path d="M506.5 391 515 390.5 527 392.4 533.4 395 534.3 396 534.8 398 533.2 401 529.7 404 524 407.5 518 410.3 508 412.8 503 413.1 498 412.6 494 410.8 492 408 491.6 405 492.5 401 495 397.1 498 394.5 502 392.3 506.5 391ZM508 394 501 395.8 496.7 399 495 401.8 494.6 404 495 406.1 496.6 408 499 409.2 502 409.8 509 409.4 516.4 407 522 403 523.5 400 522.8 398 521.8 397 516 394.6 508 394ZM464.8 633 473 632.9 480 634.7 482.2 636 484.2 638 484.8 640 484.4 642 481 645.1 474 647.3 467 647.4 460 645.6 456.1 643 454.9 641 455 639 456.1 637 458.7 635 464.8 633ZM467 637.9 465.2 639 464.8 640 465.2 641 467 642.1 472 642.3 474 641.5 475 640 474.5 639 472 637.8 467 637.9ZM425.6 638 430 637.1 434.8 638 437.6 640 438.1 641 438.1 643 436.4 645 433 646.5 429 646.8 426 646.2 423 644.1 422.2 642 422.9 640 425.6 638Z" fill="#fde2d3" fill-rule="evenodd"/><path d="M507.8 394 515 394.4 521 396.5 523.3 399 523.3 401 522 403 516.4 407 509 409.4 502 409.8 499 409.2 496.6 408 495 406.1 494.6 404 495 401.8 496.7 399 501 395.8 507.8 394ZM508 397 503 397.9 500 399.8 498.5 402 498.5 404 499.1 405 502 406.5 506 406.8 510.2 406 514.2 404 516.1 401 515.2 399 512 397.5 508 397ZM466.8 638 472 637.8 474.5 639 475 640 474.6 641 473 642.1 468 642.4 466 641.6 464.8 640 465.2 639 466.8 638Z" fill="#fbcab0" fill-rule="evenodd"/><path d="M507.6 397 512 397.5 515.2 399 516.1 401 515 403.2 512 405.3 507 406.7 502 406.5 499.1 405 498.4 403 499.8 400 503 397.9 507.6 397Z" fill="#f7b292" fill-rule="evenodd"/><path d="M441.9 353 440.8 357.6 438.4 362.3 436.1 366.9 433.8 369.2 432.6 376.2 431.5 383.1 430.3 390.1 428.7 397 424.5 401.7 419.9 406.3 414.1 409.8 408.3 412.1 401.4 413.3 394.4 414.4 387.4 413.3 385.1 411 389.8 406.3 387.4 402.8 382.8 401.7 380.5 398.2 384 394.7 380.5 392.4 377.9 396 377 401 378.7 406 377 411 379.5 415.9 382 420.9 379.5 424.2 377.9 429.2 376.2 434.1 377 439.1 375.4 445.7 374.6 452.3 368.9 455 361.9 457 354.9 460 348.9 462" fill="none" stroke="#9a9a9a" stroke-width="1.6" stroke-linejoin="round"/><path d="M406.8 359.6 412.6 362.9 413.5 371.2 411.8 379.5 411 386.1 409.3 391.1 405.2 390.3 404.4 385.3 406 377.8 403.5 369.6 401.9 364.6 405.2 360.5 406.8 359.6" fill="none" stroke="#9a9a9a" stroke-width="1.6" stroke-linejoin="round"/><path d="M378.7 373 381.9 372.5 384.5 375 382.9 377.8 379.4 377 378.7 373" fill="none" stroke="#9a9a9a" stroke-width="1.6" stroke-linejoin="round"/><path d="M372.1 384 375.9 383.6 379.5 386 376.9 388.6 372.9 387.5 372.1 384" fill="none" stroke="#9a9a9a" stroke-width="1.6" stroke-linejoin="round"/><path d="M377 445.6 380.4 447.2 385.3 450.5 390.3 457.1 392.8 467.1 394.4 474.5 396.1 473.7 394.4 467.1 392.8 457.1 388.6 448.9 383.7 443.9 378.9 443.5 377 445.6" fill="none" stroke="#9a9a9a" stroke-width="1.6" stroke-linejoin="round"/><path d="M348.9 462.1 355.5 467.1 362.1 468.7 367.1 472 368.8 477 365.5 480.3 368.8 483.6 373.7 488.6 379 489 381.4 493.6 388.3 500.6 391.8 507.5 395.3 512.2 392.9 516.8 388.3 520.3 383.7 521.5 377.9 521.5 383.7 523.8 384.8 529.6 383.7 535.4 386 540 389.5 544.6 388.3 551.6 384.8 556.2 389.5 559.7 396.4 563.2 399.9 560.9 403.4 565.5 406.9 570.1 408.9 569 412.2 574 415.5 578.9 418.8 582.2 420.5 587.2 425.5 588.9 430.4 590.5 433.7 592.2 437 591.4 437.9 593.8 442 593.8 447 594.7 451.9 597.1 456.9 600.5 460.2 603.8 463.5 607.1 466.8 610.4 470.2 613.7 471 617 468.5 618.7 465.2 617 461.9 615.4 458.6 617 456.9 613.7 455.3 611.2 453.6 613.7 451.9 617 448.6 618.7 450.3 623.6 448.6 626.9 445.3 630.3 438.7 631.9 433.7 633.6 428.8 635.2 423.8 636.9 418.8 638.5 413.9 636.9 410.6 635.2 408.9 633.6 404.8 629 396.9 627 388.9 629 382.9 633" fill="none" stroke="#9a9a9a" stroke-width="1.6" stroke-linejoin="round"/><path d="M408.9 632 413.9 626.9 417.2 625.3 418.8 626.9 414.9 630" fill="none" stroke="#9a9a9a" stroke-width="1.6" stroke-linejoin="round"/><path d="M404.9 498 411.5 500.6 407.9 504 403.9 508 399.9 512 396.9 510 400.9 505 404.9 498" fill="none" stroke="#9a9a9a" stroke-width="1.6" stroke-linejoin="round"/><path d="M405.7 558.5 408 549.3 411.5 548.1 414.9 552.7 418.4 557.4 417.3 559.7 413.8 556.2 410.3 558.5 406.9 560.9 405.7 558.5" fill="none" stroke="#9a9a9a" stroke-width="1.6" stroke-linejoin="round"/><path d="M414.9 469 417.9 466 420.9 468 419.9 472 416.9 475 414.9 473 414.9 469" fill="none" stroke="#9a9a9a" stroke-width="1.6" stroke-linejoin="round"/><path d="M416.9 476 419.9 475 420.9 479 417.9 480 416.9 476" fill="none" stroke="#9a9a9a" stroke-width="1.6" stroke-linejoin="round"/><path d="M431.7 451 434.9 450.5 436.6 453 433.9 455.5 431.9 454 431.7 451" fill="none" stroke="#9a9a9a" stroke-width="1.6" stroke-linejoin="round"/><path d="M508.9 575.6 501.6 577.3 495 578.9 490 580.6 486.7 583.9 485.1 587.2 483.4 590.5 481.7 593.8 480.1 597.1 479.3 600.5 481.7 602.1 485.1 603.8 486.7 607.1 481.7 608.7 480.1 612 483.4 613.7 488.4 613.7 493.3 615.4 495 618.7 491.7 622 490 626.9 488.4 631.9 490 635.2 495 636.9 498.3 635.2" fill="none" stroke="#9a9a9a" stroke-width="1.6" stroke-linejoin="round"/><path d="M473.5 622 476.8 622.5 474.9 624" fill="none" stroke="#9a9a9a" stroke-width="1.6" stroke-linejoin="round"/><path d="M508.9 575.6 513.5 571.6 520.8 569.1 523.3 561.8 525.7 554.5 530.6 549.6 535.4 544.8 537.9 539.9 542.7 535 547.6 532.6 550.1 527.7 547.6 522.8 550.1 518 554.9 513.1 557.4 508.2 559.8 505.8" fill="none" stroke="#9a9a9a" stroke-width="1.6" stroke-linejoin="round"/><path d="M518.2 533.6 522.6 530.6 527.1 532.1 530.1 536.6 533.1 539.6 536.1 536.6 540.5 533.6 545 532.1 549.5 530.6 553.9 527.6 558.4 526.2 562.9 523.2 567.3 521.7" fill="none" stroke="#9a9a9a" stroke-width="1.6" stroke-linejoin="round"/><path d="M548.9 561 549.9 553 552.9 550 555.9 555 557.4 562 553.9 564 550.9 559" fill="none" stroke="#9a9a9a" stroke-width="1.6" stroke-linejoin="round"/><path d="M574.9 541 576.9 545 578.9 551 580.9 557 578.9 560 575.9 555 574.9 547 574.9 541" fill="none" stroke="#9a9a9a" stroke-width="1.6" stroke-linejoin="round"/><path d="M520.9 627.6 523.3 617.9 528.1 616.6 533 615.4 537.9 613 545.2 611.8" fill="none" stroke="#9a9a9a" stroke-width="1.6" stroke-linejoin="round"/><path d="M483.7 382.8 488.6 379.5 495.3 377.8 501.9 380.3 503.5 385.3 501.9 389.4 498.6 391.1 496.9 396 495.3 402.7 491.9 407.6 490.3 411 488.6 415.9 487 420.9 483.7 425.8 480.4 429.2 477.3 429 476 433 473.3 436.9 470.7 440.9 468 446.2 465.4 450.2 462.7 455.5 463.4 458.1 466.7 459.5 469.4 458.1 471.4 460.8 470.7 463.4 468 464.8 466.7 466.1 469.4 468.7 472 471.4 476 472.7 480 474 483.9 475.4 486.6 478 487.9 479.3 490.6 478 494.5 479.3 498.5 478 502.5 479.3 506.4 478 510.4 479.3 513.1 478 515.7 476.7 518.9 475.4" fill="none" stroke="#9a9a9a" stroke-width="1.6" stroke-linejoin="round"/><path d="M485.3 482 487.9 486 489.2 489.9 487.9 493.9 489.2 499" fill="none" stroke="#9a9a9a" stroke-width="1.6" stroke-linejoin="round"/><path d="M483.7 382.8 482 386.1 484.5 388.6 488.6 391.1 491.9 389.4" fill="none" stroke="#9a9a9a" stroke-width="1.6" stroke-linejoin="round"/><path d="M511.8 402.7 520.1 404.3 528.4 406 535 402.7 541.6 399.4 548.9 396 556.2 393" fill="none" stroke="#9a9a9a" stroke-width="1.6" stroke-linejoin="round"/><path d="M556.2 393 557.9 399.6 556.2 406.2 554.6 414.5 552.9 421.1 549.6 427.8 544.6 431.1 541.3 432.7 538 434.4 533 437.7 528.1 441 524.8 444.3 523.1 449.3 519.8 455.9 516.5 462.5 513.2 467.5 509.9 472.5 506.6 479.1" fill="none" stroke="#9a9a9a" stroke-width="1.6" stroke-linejoin="round"/><path d="M562.9 442.7 559.5 447.6 557.9 454.3 554.6 459.2 551.3 462.5 547.9 467.5 546.3 472.5 544.6 479.1 547.9 484.1 546.3 489 548.9 495 552.4 499" fill="none" stroke="#9a9a9a" stroke-width="1.6" stroke-linejoin="round"/><path d="M577.7 441 576.1 447.6 572.8 451 574.4 455.9 571.1 462.5 573.9 469 570.9 475 574.9 481 578.9 487" fill="none" stroke="#9a9a9a" stroke-width="1.6" stroke-linejoin="round"/><path d="M587.7 439.4 590.9 446 594.3 452.6 594.3 459.2 590.9 465.8 592.6 472.5 595.9 479.1 594.9 487 597.9 494" fill="none" stroke="#9a9a9a" stroke-width="1.6" stroke-linejoin="round"/><path d="M563.9 417 570.9 413 578.9 411 586.9 415 593.9 419 600.9 423" fill="none" stroke="#9a9a9a" stroke-width="1.6" stroke-linejoin="round"/><path d="M492.8 488.9 497.3 487.4 500.3 491.9 504.8 491.9 507.7 493.4 506.3 496.4 509.2 497.8 513.7 496.4 515.2 499.3 512.2 500.8 507.7 500.8 503.3 503.8 500.3 500.8 497.3 499.3 494.3 496.4 492.8 493.4 492.8 488.9" fill="none" stroke="#9a9a9a" stroke-width="1.6" stroke-linejoin="round"/><path d="M518.2 487.4 521.2 487.4 522.6 493.4 522.6 499.3 519.7 500.8 517.4 497.8 518.2 493.4 518.2 487.4" fill="none" stroke="#9a9a9a" stroke-width="1.6" stroke-linejoin="round"/><path d="M525.6 488.9 528.6 490.4 528.6 496.4 527.1 500.8 524.1 499.3 524.1 493.4 525.6 488.9" fill="none" stroke="#9a9a9a" stroke-width="1.6" stroke-linejoin="round"/><path d="M530.1 499.3 534.6 497.8 537.5 500.8 536.1 503.8 531.6 503.8 530.1 499.3" fill="none" stroke="#9a9a9a" stroke-width="1.6" stroke-linejoin="round"/><path d="M528.6 508.3 533.1 506.8 539 508.3 540.5 512.7 536.1 514.2 531.6 512.7 528.6 508.3" fill="none" stroke="#9a9a9a" stroke-width="1.6" stroke-linejoin="round"/><path d="M515.2 506.8 519.7 505.3 524.1 506.8 524.1 509.8 519.7 511.3 515.9 510.5 515.2 506.8" fill="none" stroke="#9a9a9a" stroke-width="1.6" stroke-linejoin="round"/><path d="M503.3 503.8 507.7 502.3 513.7 503.8 515.2 508.3 513.7 512.7 509.2 514.2 504.8 511.3 503.3 508.3 503.3 503.8" fill="none" stroke="#9a9a9a" stroke-width="1.6" stroke-linejoin="round"/><path d="M504.8 515.7 509.2 515.7 510.7 520.2 507.7 523.2 504.8 521.7 504.8 515.7" fill="none" stroke="#9a9a9a" stroke-width="1.6" stroke-linejoin="round"/><path d="M506.3 523.2 513.7 520.2 519.7 517.2 527.1 517.2 531.6 518.7 528.6 524.7 525.6 529.1 521.2 530.6 516.7 529.1 513.7 530.6 509.2 529.1 506.3 526.2 506.3 523.2" fill="none" stroke="#9a9a9a" stroke-width="1.6" stroke-linejoin="round"/><path d="M531.6 487.4 536.1 490.4 540.5 490.4" fill="none" stroke="#9a9a9a" stroke-width="1.6" stroke-linejoin="round"/><path d="M528.6 482.9 531.6 478.5 536.1 477 540.5 480 543.5 484.4 548 485.9 552.4 488.9 558.4 490.4 561.4 493.4 555.4 494.9 551 497.8 548 502.3 546.5 505.3 549.5 508.3 553.9 506.8 558.4 508.3 559.9 512.7 556.9 515.7 553.9 518.7 551 523.2 548 526.2" fill="none" stroke="#9a9a9a" stroke-width="1.6" stroke-linejoin="round"/><path d="M483.9 478.5 488.4 481.5 492.8 482.2 498.8 482.9 504.8 482.9 510.7 482.2 513.7 480 516.7 477 519.7 474" fill="none" stroke="#9a9a9a" stroke-width="1.6" stroke-linejoin="round"/><path d="M485.9 479 483.9 484 485.9 489 488.9 492 493.9 495 496.9 500 500.9 503 503.9 507 502.9 514 504.9 520 505.9 526 510.9 529 513.9 528" fill="none" stroke="#9a9a9a" stroke-width="1.6" stroke-linejoin="round"/><path d="M488.9 499 492.9 498 495.9 502 494.9 507 490.9 508 487.9 504 488.9 499" fill="none" stroke="#9a9a9a" stroke-width="1.6" stroke-linejoin="round"/><path d="M494.9 510 498.9 509 500.9 513 497.9 517 494.9 515 494.9 510" fill="none" stroke="#9a9a9a" stroke-width="1.6" stroke-linejoin="round"/><path d="M527.9 485 532.9 484 537.9 487 542.9 486 544.9 490 539.9 494 534.9 495 529.9 492 527.9 485" fill="none" stroke="#9a9a9a" stroke-width="1.6" stroke-linejoin="round"/><path d="M546.9 502 551.9 501 555.9 504 554.9 509 549.9 510 546.9 507 546.9 502" fill="none" stroke="#9a9a9a" stroke-width="1.6" stroke-linejoin="round"/><path d="M535.9 515 540.9 514 544.9 517 542.9 522 537.9 522 535.9 515" fill="none" stroke="#9a9a9a" stroke-width="1.6" stroke-linejoin="round"/><path d="M516.9 517 520.9 515 522.9 519 519.9 522 516.9 521 516.9 517" fill="none" stroke="#9a9a9a" stroke-width="1.6" stroke-linejoin="round"/><path d="M518.6 362C519 367.4 523.5 385.9 521 394.7C518.5 403.5 509.1 408.4 503.7 414.6C498.3 420.8 492.1 425.4 488.8 432C485.5 438.6 483.4 448.5 483.8 454.3C484.2 460.1 487.1 464.6 491.2 466.7C495.3 468.8 504 468.8 508.6 466.7C513.2 464.6 515.3 460.1 518.6 454.3C521.9 448.5 524 438.6 528.5 432C533 425.4 542.2 421.2 545.9 414.6C549.6 408 549.4 398.6 550.8 392.2C552.1 385.8 552.5 379.4 554 376C555.5 372.6 559 372.7 560 372" fill="none" stroke="#f23b3b" stroke-width="1.2"/><path d="M475 508.9 471 510.3 468 512.1 463 517.6 461.3 521 460.2 525 459.8 529 460.3 533 463 540 466 543.7 469 546.2 472 547.8 476 549 480 549.4 484 548.8 488 547.4 491 545.6 493.9 543 496.2 540 498.2 536 499.2 532 499.4 528 498.8 524 497.4 520 495.6 517 493.1 514 490 511.6 487 510 483 508.7 479 508.4 475 508.9" fill="none" stroke="#f23b3b" stroke-width="1.15" stroke-dasharray="3.5 2" stroke-linejoin="round"/><path d="M474 499 469 500.9 464 504.2 460 508.3 456.9 513 454.7 518 453.3 524 453 530 453.9 536 455.9 542 458.8 547 463 551.8 467 554.9 472 557.4 477 558.8 482 559.2 488 558.4 493 556.7 498 553.7 502.2 550 505.9 545 508.3 540 509.9 534 510.3 528 509.6 522 507.6 516 504.8 511 501 506.5 496 502.4 491 499.9 485 498.3 479 498.1 474 499" fill="none" stroke="#f23b3b" stroke-width="1.15" stroke-dasharray="3.5 2" stroke-linejoin="round"/><path d="M305 369 321 367.8 337 367.7 352 369.4 366 372.4 376 375.7 388 381.4 396 386.6 406.6 396 415.5 407 422.6 419 428.4 432 432.5 445 435.1 459 436.5 476 436.7 495 435.4 524 435.7 533 436.8 543 440 558 446.5 580 452 594.9 458 606.9 462 612.6 467 618.1 472 621.9 478 625 489 627.9 520 630.1 537 633.3 545.2 636 552 639.3 558 643.5 562.2 648" fill="none" stroke="#f23b3b" stroke-width="1.15" stroke-linejoin="round"/><path d="M305 383 321 381.5 337 381.2 356 383.5 370 387.4 382 392.9 388 396.7 393 400.7 401.7 410 408.5 420 414.1 431 418.2 442 420.2 449 422.4 461 424.7 489 425.1 525 425.9 540 428.5 559 432.5 578 437.8 598 443.5 614 450 627.8 461.5 648" fill="none" stroke="#f23b3b" stroke-width="1.15" stroke-linejoin="round"/><path d="M305 394.6 321 392.5 335 391.7 352 393.2 366 396.6 377 401.4 386.4 408 394 416 400.7 426 405.1 435 408.8 445 410.7 452 412.6 463 414.6 491 415.3 541 416.8 556 419.3 572 423.6 592 428.3 609 443 648" fill="none" stroke="#f23b3b" stroke-width="1.15" stroke-linejoin="round"/><path d="M305 407.1 321 403.7 334 402.1 350 402.6 363 405.5 373 409.8 381 415.5 388 423.1 394.7 434 398.6 443 400.8 450 402.7 459 403.9 470 404.4 495 402.5 542 403.3 556 405.3 572 408.5 589 413.1 607 427.5 648" fill="none" stroke="#f23b3b" stroke-width="1.15" stroke-linejoin="round"/><path d="M305 426.1 320 418.4 331 414.7 343 413.1 355 413.9 360 415.1 366 417.4 371 420.1 374.9 423 382 431 385.6 437 388.5 443 391.5 452 393.5 464 394 477 393 492 391.6 502 389 513.7 376.3 557 374.4 568 374.1 580 376.1 594 381.7 611 386.7 623 399.4 648" fill="none" stroke="#f23b3b" stroke-width="1.15" stroke-linejoin="round"/><path d="M345 427 352 426.6 359 427.9 364.1 430 369 433.5 373.7 439 377.7 446 380.6 454 382 462 382.3 471 381.2 481 378.9 490 375.5 498 371 504.7 366 509.5 360 512.9 354 514.3 348 514.2 341 512.1 335 508.6 329 503.1 324 496.4 320.2 489 317.5 481 316.1 473 315.8 464 316.9 456 319 449 322.5 442 327 436.3 332.2 432 338 429 345 427" fill="none" stroke="#f23b3b" stroke-width="1.15" stroke-linejoin="round"/><path d="M349.4 449 354 448.4 357 449.5 359 450.9 362.2 455 364.4 461 364.6 467 363 473 359.5 478 355 480.4 351 480.4 346.5 478 343 473.5 341 468 340.6 463 342 456.9 345.1 452 349.4 449" fill="none" stroke="#f23b3b" stroke-width="1.15" stroke-linejoin="round"/><path d="M346.3 503.2 343.5 502.1 340.9 500.6 338.5 498.8 336.3 496.8 334.2 494.6 332.4 492.2 330.7 489.8 329.2 487.1 327.9 484.4 326.8 481.7 325.9 478.8 325.2 475.9 324.7 472.9 324.4 469.9 324.3 466.9 324.3 463.9 324.6 461 325 458 325.7 455.1 326.6 452.2 327.8 449.4 329.2 446.8 330.8 444.3 332.7 442 334.8 439.8 337.2 438 339.8 436.4 342.5 435.2 345.3 434.3 348.3 433.8 351.3 433.6 354.3 433.9 357.2 434.5 360 435.6 362.6 437.1 364.9 438.9 367.1 441.1 369 443.3 370.7 445.8 372.2 448.4 373.5 451.1 374.5 453.9 375.4 456.8 376 459.8 376.4 462.7 376.6 465.7 376.6 468.7 376.4 471.7 376.1 474.7 375.6 477.7 374.9 480.6 374 483.4 372.9 486.2 371.7 489 370.2 491.6 368.5 494 366.6 496.3 364.4 498.4 361.9 500.1 359.3 501.5 356.5 502.5 353.5 503 350.5 503.1 347.6 502.7 344.7 501.8 341.9 500.6 339.4 499.1 337 497.3 334.8 495.2 332.8 493 331 490.6 329.4 488.1 327.9 485.4 326.7 482.7 325.6 479.9" fill="none" stroke="#2230f2" stroke-width="1.3" stroke-linecap="round"/><path d="M335.5 441.9 L337.2 438 L333.1 438.7" fill="none" stroke="#2230f2" stroke-width="1.3"/><path d="M373.8 476.5 L374.9 480.6 L377.7 477.4" fill="none" stroke="#2230f2" stroke-width="1.3"/><path d="M335.5 418.9 338.5 418.4 341.4 418 344.4 417.8 347.4 417.7 350.4 417.9 353.4 418.3 356.4 418.8 359.3 419.6 362.1 420.6 364.8 421.8 367.5 423.2 369.9 424.9 372.3 426.8 374.4 428.9 376.4 431.2 378.2 433.6 379.8 436.1 381.3 438.7 382.7 441.3 384 444 385.1 446.8 386.2 449.6 387 452.5 387.8 455.4 388.4 458.3 388.8 461.3 389.1 464.3 389.3 467.3 389.5 470.3 389.5 473.3 389.4 476.3 389.3 479.3 389 482.3 388.7 485.3 388.3 488.2 387.9 491.2 387.3 494.2 386.7 497.1 386 500 385.2 502.9 384.3 505.8 383.3 508.6 382.3 511.4 381.1 514.2 379.8 516.9 378.5 519.5 377 522.2 375.4 524.7 373.8 527.2 372 529.6 370 531.9 368 534.1 365.8 536.2 363.5 538 361 539.7 358.4 541.2 355.7 542.4 352.8 543.4 349.9 544 346.9 544.4 343.9 544.4 340.9 544.2 338 543.7 335.1 542.9 332.2 541.9 329.5 540.7 326.8 539.3 324.3 537.7 321.8 536 319.4 534.2 317.2 532.2 315 530.2" fill="none" stroke="#2230f2" stroke-width="1.3" stroke-linecap="round"/><path d="M385.7 455.1 L388.4 458.3 L389.6 454.3" fill="none" stroke="#2230f2" stroke-width="1.3"/><path d="M374.2 523 L373.8 527.2 L377.5 525.3" fill="none" stroke="#2230f2" stroke-width="1.3"/><path d="M349.3 401.1 352.2 401.5 355.2 402.1 358.1 402.8 361 403.6 363.9 404.5 366.7 405.5 369.4 406.7 372.1 408.1 374.7 409.6 377.2 411.2 379.6 413.1 381.8 415 384 417.1 386 419.4 387.9 421.7 389.7 424.1 391.3 426.6 392.8 429.2 394.3 431.8 395.6 434.5 396.9 437.2 398 440 399.1 442.8 400.1 445.6 401 448.5 401.8 451.4 402.5 454.3 403.1 457.2 403.6 460.2 404 463.2 404.3 466.1 404.6 469.1 404.8 472.1 405 475.1 405.2 478.1 405.3 481.1 405.4 484.1 405.4 487.1 405.5 490.1 405.5 493.1 405.5 496.1 405.5 499.1 405.4 502.1 405.3 505.1 405.2 508.1 405.1 511.1 405 514.1 404.9 517.1 404.8 520.1 404.7 523.1 404.6 526.1 404.5 529.1 404.5 532.1 404.5 535.1 404.6 538.1 404.7 541.1 404.8 544.1 405 547.1 405.2 550.1 405.4 553.1 405.7 556 406 559 406.4 562 406.8 565 407.2 567.9 407.7 570.9 408.2 573.9 408.8 576.8 409.3 579.8 409.9 582.7 410.5 585.6 411.1 588.6 411.8 591.5 412.5 594.4 413.2 597.3 413.9 600.3 414.7 603.1" fill="none" stroke="#2230f2" stroke-width="1.3" stroke-linecap="round"/><path d="M399.3 449.7 L402.2 452.8 L403.2 448.8" fill="none" stroke="#2230f2" stroke-width="1.3"/><path d="M402.6 526.9 L404.5 530.6 L406.6 526.9" fill="none" stroke="#2230f2" stroke-width="1.3"/><path d="M362.6 387.9 365.5 388.8 368.3 389.7 371.1 390.8 373.9 391.9 376.6 393.2 379.3 394.6 381.8 396.1 384.4 397.8 386.8 399.5 389.1 401.4 391.4 403.3 393.6 405.4 395.6 407.6 397.6 409.9 399.5 412.2 401.3 414.6 402.9 417.1 404.5 419.6 406.1 422.2 407.5 424.9 408.8 427.5 410.1 430.3 411.3 433 412.5 435.8 413.5 438.6 414.5 441.4 415.4 444.3 416.2 447.2 417 450.1 417.6 453 418.2 455.9 418.7 458.9 419.2 461.8 419.6 464.8 419.9 467.8 420.2 470.8 420.5 473.8 420.8 476.8 421 479.8 421.2 482.7 421.4 485.7 421.7 488.7 421.9 491.7 422 494.7 422.2 497.7 422.3 500.7 422.5 503.7 422.6 506.7 422.7 509.7 422.9 512.7 423 515.7 423.2 518.7 423.4 521.7 423.7 524.7 424 527.7 424.3 530.6 424.6 533.6 425 536.6 425.5 539.6 426 542.5 426.5 545.5 427 548.4 427.6 551.4 428.3 554.3 428.9 557.2 429.6 560.1 430.3 563.1 431 566 431.8 568.9 432.5 571.8 433.3 574.7 434 577.6 434.8 580.5 435.6 583.4 436.4 586.3 437.2 589.2 438 592 438.9 594.9 439.8 597.8 440.7 600.6" fill="none" stroke="#2230f2" stroke-width="1.3" stroke-linecap="round"/><path d="M413.3 444.1 L416.2 447.2 L417.2 443.1" fill="none" stroke="#2230f2" stroke-width="1.3"/><path d="M421.6 524.2 L424 527.7 L425.6 523.8" fill="none" stroke="#2230f2" stroke-width="1.3"/><path d="M378.5 377.2 381.2 378.4 383.9 379.8 386.5 381.1 389.1 382.7 391.7 384.3 394.2 385.9 396.5 387.8 398.9 389.7 401.1 391.6 403.3 393.7 405.4 395.8 407.4 398 409.4 400.3 411.3 402.7 413 405.1 414.8 407.5 416.4 410 418 412.6 419.5 415.2 420.9 417.8 422.3 420.5 423.6 423.2 424.8 425.9 426 428.7 427.1 431.5 428.1 434.3 429.1 437.1 430 440 430.8 442.9 431.6 445.8 432.3 448.7 432.9 451.6 433.4 454.6 433.9 457.6 434.3 460.5 434.7 463.5 435 466.5 435.3 469.5 435.5 472.5 435.7 475.5 435.9 478.5 436.1 481.4 436.2 484.4 436.4 487.4 436.5 490.4 436.6 493.4 436.6 496.4 436.7 499.4 436.7 502.4 436.8 505.4 436.9 508.4 436.9 511.4 437.1 514.4 437.3 517.4 437.6 520.4 437.9 523.4 438.3 526.4 438.9 529.3 439.5 532.2 440.3 535.1 441.1 538 442.1 540.8 443.2 543.6 444.5 546.4 445.8 549.1 447.3 551.7 448.8 554.2 450.5 556.8 452.2 559.2 454 561.6 456 563.9 457.9 566.1 460 568.3 462.1 570.4 464.3 572.5 466.5 574.5 468.8 576.4 471.2 578.2 473.7 579.9 476.2 581.5 478.9 583 481.6 584.2 484.4 585.3" fill="none" stroke="#2230f2" stroke-width="1.3" stroke-linecap="round"/><path d="M427.5 438.4 L430.4 441.4 L431.3 437.4" fill="none" stroke="#2230f2" stroke-width="1.3"/><path d="M435.6 521.5 L438.1 524.9 L439.6 521" fill="none" stroke="#2230f2" stroke-width="1.3"/><path d="M394.1 367.6 396.6 369.1 399.2 370.8 401.7 372.4 404.1 374.2 406.5 376 408.8 377.9 411.1 379.9 413.2 381.9 415.4 384 417.5 386.2 419.5 388.4 421.4 390.7 423.3 393.1 425.1 395.5 426.8 397.9 428.5 400.4 430.1 402.9 431.7 405.5 433.1 408.1 434.6 410.7 436 413.4 437.3 416.1 438.5 418.8 439.7 421.6 440.9 424.3 442 427.1 443 429.9 444 432.8 444.8 435.7 445.6 438.6 446.4 441.4 447 444.4 447.6 447.3 448.2 450.3 448.6 453.2 448.9 456.2 449.2 459.2 449.4 462.2 449.5 465.2 449.5 468.2 449.5 471.2 449.4 474.2 449.3 477.2 449.1 480.2 448.9 483.2 448.6 486.2 448.3 489.2 447.9 492.1 447.5 495.1 447.1 498.1 446.7 501.1 446.4 504 446 507 445.8 510 445.6 513 445.5 516 445.6 519 445.9 522 446.2 525 446.8 527.9 447.6 530.8 448.5 533.6 449.7 536.4 451 539.1 452.6 541.6 454.4 544 456.4 546.3 458.7 548.3 461.1 550.1 463.7 551.6 466.4 552.7 469.3 553.6 472.3 554 475.3 554.1 478.2 553.8 481.1 553 483.9 551.9 486.5 550.4 488.8 548.5 490.9 546.3 492.6 543.8 493.9 541.2 494.8 538.3 495.2 535.3 495.1 532.3" fill="none" stroke="#2230f2" stroke-width="1.3" stroke-linecap="round"/><path d="M442.3 434.1 L445.2 437.1 L446.2 433" fill="none" stroke="#2230f2" stroke-width="1.3"/><path d="M443.6 518.5 L445.9 522 L447.6 518.2" fill="none" stroke="#2230f2" stroke-width="1.3"/><path d="M461.9 561.9 464.5 563.4 467.2 564.7 470 565.8 472.9 566.6 475.9 567 478.9 567.2 481.9 567.1 484.8 566.7 487.7 565.9 490.6 564.9 493.2 563.6 495.8 562 498.2 560.2 500.4 558.1 502.4 555.9 504.1 553.4 505.6 550.8 506.9 548.1 507.8 545.3 508.5 542.4 509 539.4 509.1 536.4 508.9 533.4 508.4 530.5 507.6 527.5 506.7 524.7 505.4 522 503.9 519.4 502 517 499.9 514.9 497.6 513 495 511.5 492.3 510.2 489.4 509.4 486.5 508.9 483.5 508.9 480.5 509.4 477.6 510.2 475 511.6 472.6 513.4 470.5 515.6 468.9 518.1 467.8 520.9 467.3 523.8 467.5 526.8 468.3 529.7 469.8 532.3 472 534.3 474.8 535.5 477.7 535.6 480.5 534.5 482.4 532.2 482.8 529.3 481.4 526.8 478.5 526 476.3 527.8 477 530.5 479.8 530.7 480.2 528 477.5 527.4 477.1 530 479.8 530.4 479.9 527.7 477.2 527.7 477.5 530.4 480.1 530 479.5 527.4 476.9 528.2 478 530.7 480.4 529.5 479 527.2 476.8 528.6 478.4 530.8 480.4 529 478.5 527.1 476.8 529.2 478.9 530.8 480.3 528.4 478 527.2" fill="none" stroke="#2230f2" stroke-width="1.3" stroke-linecap="round"/><path d="M508.2 523 L504.7 520.7 L504.6 524.9" fill="none" stroke="#2230f2" stroke-width="1.3"/><path d="M484.9 529 L481.4 526.8 L481.4 531" fill="none" stroke="#2230f2" stroke-width="1.3"/><path d="M382.5 489 381.7 491.8 380.8 494.7 379.8 497.5 378.6 500.2 377.2 502.9 375.7 505.5 374 508 372.1 510.3 370 512.5 367.8 514.5 365.4 516.3 362.8 517.8 360 519 357.2 519.8 354.2 520.3 351.2 520.5 348.2 520.2 345.3 519.7 342.4 518.8 339.6 517.7 337 516.3 334.4 514.7 332 512.9 329.8 510.9 327.6 508.8 325.7 506.6 323.8 504.2 322 501.8 320.4 499.3 318.9 496.7 317.5 494 316.2 491.3 315.1 488.5 314.2 485.7 313.4 482.8 312.7 479.9" fill="none" stroke="#2230f2" stroke-width="1.3" stroke-linecap="round"/><path d="M362.6 515.7 L360 519 L364.2 519.4" fill="none" stroke="#2230f2" stroke-width="1.3"/><path d="M330.6 509 L326.6 507.7 L327.7 511.8" fill="none" stroke="#2230f2" stroke-width="1.3"/><path d="M484.3 579.2 487.2 579.6 490.2 579.8 493.2 579.9 496.2 579.7 499.2 579.4 502.2 578.9 505.1 578.3 508 577.5 510.9 576.6 513.7 575.6 516.4 574.4 519.2 573.2 521.8 571.8 524.4 570.3 526.9 568.6 529.3 566.8 531.6 564.9 533.8 562.8 535.8 560.6 537.6 558.2 539.2 555.7 540.7 553.1 542 550.4 543.1 547.6 544 544.7 544.6 541.8 545 538.8 545.3 535.8 545.4 532.8 545.3 529.8 545 526.8 544.6 523.8 544.1 520.9 543.5 518 542.7 515.1 541.9 512.2 540.9 509.3 539.9 506.5 538.8 503.8 537.5 501 536.2 498.3 534.8 495.7 533.3 493.1 531.8 490.5 530.4 487.8 529 485.2 527.8 482.4 527 479.5 526.4 476.6 526 473.6 525.9 470.6 526 467.6" fill="none" stroke="#2230f2" stroke-width="1.3" stroke-linecap="round"/><path d="M533.7 565.8 L534.8 561.7 L530.8 563" fill="none" stroke="#2230f2" stroke-width="1.3"/><path d="M544.9 515.1 L541.9 512.2 L541 516.3" fill="none" stroke="#2230f2" stroke-width="1.3"/><path d="M423.4 358.4 425.8 360.3 428 362.3 430.2 364.4 432.3 366.5 434.4 368.6 436.4 370.8 438.4 373.1 440.4 375.3 442.3 377.7 444.1 380.1 445.9 382.5 447.7 384.9 449.3 387.4 451 389.9 452.6 392.4 454.1 395 455.6 397.6 457.1 400.2 458.5 402.9 459.8 405.5 461.1 408.2 462.4 411 463.6 413.7 464.7 416.5 465.8 419.3 466.8 422.1 467.7 425 468.6 427.9 469.2 430.8 469.8 433.7 470.3 436.7 470.6 439.7 470.7 442.7 470.8 445.7 470.6 448.6 470.3 451.6 469.8 454.6 469.2 457.5 468.6 460.5 467.8 463.4 467 466.3 466.2 469.1 465.2 472 464.2 474.8 463.1 477.6 462 480.4 460.8 483.1 459.6 485.9 458.4 488.6 457.2 491.4 456 494.1 454.9 496.9 453.9 499.7 452.9 502.6 452.1 505.5 451.4 508.4" fill="none" stroke="#2230f2" stroke-width="1.3" stroke-linecap="round"/><path d="M455.7 401.8 L459.1 404.2 L459.3 400" fill="none" stroke="#2230f2" stroke-width="1.3"/><path d="M467.7 455 L468.9 459 L471.7 455.8" fill="none" stroke="#2230f2" stroke-width="1.3"/><path d="M387.6 513.1 386.7 516 385.8 518.8 384.9 521.7 383.9 524.5 382.9 527.3 381.8 530.1 380.7 532.9 379.6 535.7 378.4 538.5 377.3 541.2 376.1 544 374.9 546.7 373.7 549.5 372.5 552.3 371.4 555 370.2 557.8 369.2 560.6 368.1 563.4 367.2 566.3 366.3 569.1 365.6 572.1 365 575 364.6 578 364.2 580.9 364.1 583.9 364.3 586.9 364.8 589.9 365.8 592.7 367.2 595.4 368.7 598 370.2 600.6 371.6 603.2 373 605.9 374.2 608.6 375.3 611.4 376.3 614.2 377.1 617.1" fill="none" stroke="#2230f2" stroke-width="1.3" stroke-linecap="round"/><path d="M372.7 546.7 L373.1 550.9 L376.4 548.3" fill="none" stroke="#2230f2" stroke-width="1.3"/><path d="M362 583.4 L364.3 586.9 L366.1 583.1" fill="none" stroke="#2230f2" stroke-width="1.3"/><path d="M508.1 571.6 510.8 570.2 513.3 568.6 515.7 566.8 518 564.9 520.1 562.7 522.1 560.5 523.9 558.1 525.5 555.5 526.9 552.9 528.1 550.2 529.1 547.3 529.9 544.4 530.5 541.5 531 538.5 531.2 535.5 531.2 532.5 531.1 529.5 530.8 526.6 530.4 523.6 529.8 520.6 529 517.7 528.1 514.9 527 512.1 525.7 509.4 524.3 506.7 522.8 504.2 521.1 501.7 519.3 499.3 517.4 496.9 515.6 494.5 513.9 492.1 512.6 489.4 512 486.5 512.3 483.5 513 480.6 513.9 477.7 514.5 474.8 514.9 471.8 515.3 468.8" fill="none" stroke="#2230f2" stroke-width="1.3" stroke-linecap="round"/><path d="M532.4 542.5 L531 538.5 L528.4 541.9" fill="none" stroke="#2230f2" stroke-width="1.3"/><path d="M524 502.3 L520.2 500.5 L520.7 504.7" fill="none" stroke="#2230f2" stroke-width="1.3"/><path d="M365.2 464.3 364.9 467.3 364.3 470.2 363.2 473 361.7 475.6 359.6 477.7 357.1 479.3 354.2 479.9 351.2 479.5 348.5 478.2 346.3 476.2 344.6 473.7 343.3 471 342.4 468.2 342.1 465.2 342.2 462.2 342.9 459.3 344.2 456.6 345.7 454 347.8 451.8 350.3 450.2 353.2 449.6 356.1 450.1 358.7 451.6 360.9 453.7 362.5 456.2 363.7 458.9 364.4 461.8 364.7 464.8 364.6 467.8 364.1 470.8 363.2 473.6 361.8 476.3 360 478.7 357.7 480.6" fill="none" stroke="#2230f2" stroke-width="1.3" stroke-linecap="round"/><path d="M345.6 458.2 L345.7 454 L342.1 456.1" fill="none" stroke="#2230f2" stroke-width="1.3"/><path d="M372.8 537.3 371 539.7 369.2 542.1 367.2 544.3 365.2 546.5 363 548.6 360.7 550.5 358.2 552.2 355.7 553.8 353 555.1 350.1 556.1 347.2 556.8 344.3 557.3 341.3 557.4 338.3 557.3 335.3 556.8 332.4 556.2 329.5 555.2 326.7 554.1 324 552.8 321.4 551.5" fill="none" stroke="#2230f2" stroke-width="1.3" stroke-linecap="round"/><path d="M350.3 554 L347.2 556.8 L351.3 557.9" fill="none" stroke="#2230f2" stroke-width="1.3"/><path d="M394.2 452 394.9 454.9 395.4 457.9 395.8 460.8 396.1 463.8 396.4 466.8 396.5 469.8 396.6 472.8 396.7 475.8 396.7 478.8 396.6 481.8 396.5 484.8 396.3 487.8 396.1 490.8 395.9 493.8 395.6 496.8 395.3 499.7 394.9 502.7 394.5 505.7 394 508.6 393.5 511.6 393 514.6 392.4 517.5 391.9 520.4 391.3 523.4 390.8 526.3 390.2 529.3 389.7 532.2 389.2 535.2 388.7 538.2 388.3 541.1 387.9 544.1 387.5 547.1 387.3 550.1 387 553.1 386.9 556.1 386.9 559.1 386.9 562.1 387 565.1 387.1 568.1 387.4 571 387.7 574 388 577 388.5 580 389 582.9 389.5 585.9 390.1 588.8 390.7 591.8 391.4 594.7 392.1 597.6 392.9 600.5 393.7 603.4 394.6 606.2 395.5 609.1 396.5 611.9 397.5 614.8 398.6 617.6 399.6 620.4 400.8 623.2 401.9 625.9 403.1 628.7 404.2 631.5" fill="none" stroke="#2230f2" stroke-width="1.3" stroke-linecap="round"/><path d="M391.4 512 L392.7 516 L395.4 512.8" fill="none" stroke="#2230f2" stroke-width="1.3"/><path d="M385.6 573.6 L388 577 L389.6 573.1" fill="none" stroke="#2230f2" stroke-width="1.3"/><path d="M452.1 568 453.7 570.6 455.2 573.1 456.8 575.7 458.4 578.2 460 580.7 461.7 583.2 463.4 585.7 465.2 588.1 467.1 590.4 469.1 592.6 471.3 594.7 473.6 596.7 476 598.4 478.6 599.9 481.3 601.2 484.1 602.3 487 603.1 489.9 603.9 492.8 604.5 495.8 605 498.8 605.3 501.8 605.6 504.7 605.8 507.7 606 510.7 606.2 513.7 606.3 516.7 606.5 519.7 606.7 522.7 606.8 525.7 607.1 528.7 607.3 531.7 607.6 534.7 607.9 537.6 608.3 540.6 608.7 543.6 609.2" fill="none" stroke="#2230f2" stroke-width="1.3" stroke-linecap="round"/><path d="M471.8 597.9 L476 598.4 L474.2 594.6" fill="none" stroke="#2230f2" stroke-width="1.3"/><path d="M508.4 608.1 L512.2 606.3 L508.7 604.1" fill="none" stroke="#2230f2" stroke-width="1.3"/><path d="M429.5 527.9 429.9 530.8 430.4 533.8 431 536.7 431.6 539.7 432.3 542.6 433 545.5 433.7 548.4 434.6 551.3 435.4 554.2 436.3 557 437.2 559.9 438.2 562.7 439.1 565.6 440 568.4 441 571.3 441.9 574.1 442.9 577 443.8 579.8 444.8 582.7 445.8 585.5 446.8 588.3 447.9 591.1 449 593.9 450.1 596.7 451.3 599.4 452.5 602.2 453.9 604.9 455.3 607.5 456.9 610.1 458.5 612.6 460.3 615 462.2 617.3 464.2 619.5 466.4 621.6 468.7 623.5 471.2 625.2 473.8 626.7 476.5 628 479.3 629.1 482.1 629.9 485 630.7 488 631.3 490.9 631.7 493.9 632 496.9 632.3 499.9 632.4 502.9 632.6" fill="none" stroke="#2230f2" stroke-width="1.3" stroke-linecap="round"/><path d="M439.8 574.1 L442.9 577 L443.6 572.8" fill="none" stroke="#2230f2" stroke-width="1.3"/><path d="M460.2 618.2 L464.2 619.5 L463.2 615.4" fill="none" stroke="#2230f2" stroke-width="1.3"/><path d="M497.7 456.1 496.3 458.8 494.9 461.4 493.4 464 492 466.7 491.3 469.6 491.3 472.6 491.7 475.5 492.7 478.4 494 481.1 495.5 483.6 497 483.8 499.8 482.9 502.3 481.4 504.6 479.5 506.6 477.2 508.1 474.6 509 471.7 509.3 468.8 509.6 465.8" fill="none" stroke="#2230f2" stroke-width="1.3" stroke-linecap="round"/><path d="M492.6 483 L496.5 484.5 L495.7 480.4" fill="none" stroke="#2230f2" stroke-width="1.3"/><path d="M411.4 469.1 411.6 472.1 411.9 475.1 412 478.1 412.2 481.1 412.4 484.1 412.5 487.1 412.7 490.1 412.8 493.1 412.9 496.1 413 499.1 413 502.1 413.1 505.1 413.1 508.1 413.1 511.1 413.2 514.1 413.2 517.1 413.3 520.1 413.4 523.1 413.5 526.1 413.6 529.1 413.8 532.1 414 535.1 414.3 538 414.5 541 414.9 544 415.2 547 415.6 550 416 552.9 416.4 555.9 416.9 558.9 417.4 561.8 418 564.8 418.5 567.7 419.1 570.7 419.7 573.6 420.3 576.5 421 579.5 421.6 582.4 422.3 585.3 423 588.2 423.7 591.2 424.4 594.1 425.2 597 426 599.9 426.8 602.7 427.6 605.6 428.5 608.5 429.5 611.3 430.4 614.2 431.4 617 432.5 619.8 433.5 622.6 434.6 625.4 435.7 628.2 436.8 631 438 633.8 439.1 636.6 440.2 639.3" fill="none" stroke="#2230f2" stroke-width="1.3" stroke-linecap="round"/><path d="M411.5 527 L413.7 530.6 L415.5 526.8" fill="none" stroke="#2230f2" stroke-width="1.3"/><path d="M420.1 585.1 L423 588.2 L424.1 584.2" fill="none" stroke="#2230f2" stroke-width="1.3"/><path d="M365.7 528.1 363.2 529.7 360.5 531.1 357.7 532.1 354.8 532.9 351.8 533.3 348.8 533.4 345.8 533.2 342.9 532.7 340 531.9 337.2 530.9 334.4 529.6 331.8 528.2 329.2 526.6 326.8 524.9 324.4 523.1 322.2 521.1 320 519 318 516.7 316.1 514.4 314.4 512 312.7 509.5" fill="none" stroke="#2230f2" stroke-width="1.3" stroke-linecap="round"/><path d="M336 528.2 L331.8 528.2 L334.1 531.7" fill="none" stroke="#2230f2" stroke-width="1.3"/><path d="M444.2 607 445.3 609.7 446.5 612.5 447.7 615.2 449.1 617.9 450.5 620.6 451.9 623.2 453.4 625.8 454.9 628.4 456.6 630.9 458.2 633.4 460 635.8 461.7 638.3 463.6 640.6" fill="none" stroke="#2230f2" stroke-width="1.3" stroke-linecap="round"/><path d="M450.5 625 L454.1 627.1 L454 622.9" fill="none" stroke="#2230f2" stroke-width="1.3"/><path d="M515.5 559.6 517.3 557.2 518.8 554.7 520.2 552 521.4 549.2 522.3 546.4 523.1 543.5 523.6 540.5 523.9 537.5 524 534.5 523.9 531.5 523.6 528.6 523 525.6 522.3 522.7 521.3 519.9 520.2 517.1 518.8 514.4 517.3 511.8 515.6 509.4 513.7 507 511.6 504.9 509.5 502.8 507.1 500.9 504.7 499.2 502.1 497.6 499.5 496.3 496.6 495.2 493.7 494.5 490.8 494.1 487.8 494 484.8 494.1 481.8 494.6 478.9 495.4 476.1 496.4 473.4 497.7 470.8 499.3 468.5 501.1 466.3 503.1 464.3 505.4 462.7 507.9 461.2 510.6 460.1 513.3 459.3 516.2 458.9 519.2 458.8 522.2 459 525.2 459.7 528.1 460.7 530.9 462.1 533.6 463.9 535.9 466.1 538 468.7 539.6 471.5 540.6 474.4 541.1" fill="none" stroke="#2230f2" stroke-width="1.3" stroke-linecap="round"/><path d="M518.5 509.9 L514.7 508.2 L515.3 512.3" fill="none" stroke="#2230f2" stroke-width="1.3"/><path d="M468.8 498.2 L467.3 502.1 L471.4 501.2" fill="none" stroke="#2230f2" stroke-width="1.3"/><path d="M414.3 609 415.2 611.9 416.1 614.7 417.1 617.6 418.1 620.4 419.1 623.2 420.1 626 421.1 628.8 422.2 631.6 423.3 634.5 424.3 637.3" fill="none" stroke="#2230f2" stroke-width="1.3" stroke-linecap="round"/><path d="M417.5 624.7 L420.6 627.4 L421.2 623.3" fill="none" stroke="#2230f2" stroke-width="1.3"/><path d="M370 476.5 369 479.3 367.6 481.9 365.9 484.4 363.9 486.7 361.6 488.6 359 490 356.1 490.8 353.1 491.1 350.1 490.9 347.2 490.2 344.5 488.9 342.1 487.2 339.9 485.1 338 482.8 336.3 480.3 334.9 477.6 333.8 474.9 332.9 472 332.4 469.1 332.1 466.1 332.1 463.1 332.3 460.1 332.8 457.1 333.6 454.2 334.7 451.4 336.1 448.8 337.7 446.3 339.7 444 342 442.1 344.5 440.5" fill="none" stroke="#2230f2" stroke-width="1.3" stroke-linecap="round"/><path d="M337.7 478.8 L334.3 476.3 L334.1 480.5" fill="none" stroke="#2230f2" stroke-width="1.3"/><path d="M409.9 362.2 412.3 364 414.6 365.8 417 367.7 419.2 369.6 421.4 371.7 423.6 373.8 425.7 375.9 427.7 378.1 429.7 380.4 431.7 382.6 433.5 385 435.3 387.4 437.1 389.8 438.8 392.3 440.4 394.8 442.1 397.3 443.6 399.9 445 402.5 446.5 405.1 447.8 407.8 449.2 410.5 450.5 413.2 451.7 416 452.8 418.7 454 421.5 455 424.3 456 427.2 456.9 430 457.7 432.9 458.5 435.8 459.2 438.7 459.7 441.7 460.2 444.6 460.6 447.6 460.8 450.6 460.9 453.6 460.9 456.6 460.8 459.6 460.6 462.6 460.2 465.6 459.8 468.5 459.3 471.5" fill="none" stroke="#2230f2" stroke-width="1.3" stroke-linecap="round"/><path d="M436.8 392.8 L440.4 394.8 L440.1 390.6" fill="none" stroke="#2230f2" stroke-width="1.3"/><path d="M455.2 431.3 L458.1 434.4 L459.1 430.3" fill="none" stroke="#2230f2" stroke-width="1.3"/><path d="M364.9 554.4 363 556.8 361.1 559.1 359.1 561.3 357 563.5 354.9 565.6 352.7 567.6 350.4 569.6 348 571.4 345.6 573.2 343.1 574.8 340.5 576.4 337.8 577.7" fill="none" stroke="#2230f2" stroke-width="1.3" stroke-linecap="round"/><path d="M351.9 565.6 L350.4 569.6 L354.5 568.7" fill="none" stroke="#2230f2" stroke-width="1.3"/><path d="M377.5 555.2 376.9 558.1 376.4 561.1 375.9 564 375.6 567 375.4 570 375.4 573 375.4 576 375.5 579 375.7 582 376.1 585 376.5 588 377 590.9 377.6 593.9 378.3 596.8 379.1 599.7 380 602.5 380.9 605.4 381.9 608.2 382.9 611 384 613.8 385.1 616.6 386.2 619.4 387.5 622.1 388.7 624.8" fill="none" stroke="#2230f2" stroke-width="1.3" stroke-linecap="round"/><path d="M374.9 590.6 L377.6 593.9 L378.8 589.8" fill="none" stroke="#2230f2" stroke-width="1.3"/><path d="M490 442.2 489 445 487.9 447.8 486.8 450.6 485.7 453.4 484.6 456.2 483.3 458.9 482 461.6 480.9 464.4 479.9 467.2 478.9 470.1 477.9 472.9 476.6 475.6 475.2 478.2 473.4 480.6 471.4 482.9 469.4 485.1 467.3 487.2 465.3 489.5 463.4 491.8" fill="none" stroke="#2230f2" stroke-width="1.3" stroke-linecap="round"/><path d="M477.3 468.7 L477.9 472.9 L481.1 470.1" fill="none" stroke="#2230f2" stroke-width="1.3"/><path d="M450.5 576.1 451.7 578.9 453 581.6 454.2 584.3 455.5 587 456.9 589.7 458.3 592.3 459.8 594.9 461.4 597.4 463.1 599.9 465 602.3 467 604.5 469.2 606.6 471.5 608.5 474 610.2 476.6 611.6 479.3 612.9 482.1 613.9 485 614.7 487.9 615.4 490.9 616 493.8 616.4 496.8 616.7 499.8 617 502.8 617.2 505.8 617.4 508.8 617.6 511.8 617.7 514.8 617.9 517.8 618.1 520.8 618.3 523.8 618.6 526.7 618.9 529.7 619.3" fill="none" stroke="#2230f2" stroke-width="1.3" stroke-linecap="round"/><path d="M480.9 615.6 L485 614.7 L482 611.8" fill="none" stroke="#2230f2" stroke-width="1.3"/><path d="M535 403C532.5 402.7 525 401.5 520 401C515 400.5 509.7 400 505 400C500.3 400 495.8 400.2 492 401C488.2 401.8 485 403.2 482 405C479 406.8 476.3 409.2 474 412C471.7 414.8 469 420.3 468 422" fill="none" stroke="#2230f2" stroke-width="1.3" stroke-linecap="round"/><path d="M496.5 398.6 L493 401 L496.9 402.6" fill="none" stroke="#2230f2" stroke-width="1.3"/><path d="M526 458C527.3 456.3 530.7 450.8 534 448C537.3 445.2 541.7 442.7 546 441C550.3 439.3 556 438 560 438C564 438 567.2 439.5 570 441C572.8 442.5 575.8 446 577 447" fill="none" stroke="#2230f2" stroke-width="1.3" stroke-linecap="round"/><path d="M553.9 441.1 L557 438.3 L552.9 437.2" fill="none" stroke="#2230f2" stroke-width="1.3"/><path d="M530 462C531.7 460.5 536.3 455.5 540 453C543.7 450.5 548.3 448.2 552 447C555.7 445.8 560.3 446.2 562 446" fill="none" stroke="#2230f2" stroke-width="1.3" stroke-linecap="round"/><path d="M550.2 450.1 L553 447 L548.9 446.3" fill="none" stroke="#2230f2" stroke-width="1.3"/><path d="M552 392C553.7 393.7 558.8 398.3 562 402C565.2 405.7 568 409.7 571 414C574 418.3 577.2 423 580 428C582.8 433 585.7 438.7 588 444C590.3 449.3 593 457.3 594 460" fill="none" stroke="#2230f2" stroke-width="1.3" stroke-linecap="round"/><path d="M567.2 412.2 L571 414 L570.5 409.8" fill="none" stroke="#2230f2" stroke-width="1.3"/><path d="M570 466C572.3 466.7 579.3 468.2 584 470C588.7 471.8 595.7 475.8 598 477" fill="none" stroke="#2230f2" stroke-width="1.3" stroke-linecap="round"/><path d="M581.8 471.4 L586 471 L583.4 467.7" fill="none" stroke="#2230f2" stroke-width="1.3"/><path d="M545 478C547.5 479 555 482 560 484C565 486 570 487.8 575 490C580 492.2 587.5 495.8 590 497" fill="none" stroke="#2230f2" stroke-width="1.3" stroke-linecap="round"/><path d="M563.8 487.8 L568 487.5 L565.5 484.2" fill="none" stroke="#2230f2" stroke-width="1.3"/><path d="M512 486C509.7 485.7 502.7 484.3 498 484C493.3 483.7 488.7 483.7 484 484C479.3 484.3 474.3 485 470 486C465.7 487 460 489.3 458 490" fill="none" stroke="#2230f2" stroke-width="1.3" stroke-linecap="round"/><path d="M485.6 482.1 L482 484.2 L485.8 486.1" fill="none" stroke="#2230f2" stroke-width="1.3"/><path d="M515 495C512.5 494.8 504.8 494 500 494C495.2 494 488.3 494.8 486 495" fill="none" stroke="#2230f2" stroke-width="1.3" stroke-linecap="round"/><path d="M592 505C590.3 506.2 585.3 509.5 582 512C578.7 514.5 573.7 518.7 572 520" fill="none" stroke="#2230f2" stroke-width="1.3" stroke-linecap="round"/>
</g>
<circle cx="454.1" cy="497.4" r="144.8" fill="none" stroke="#6a6a6a" stroke-width="1"/>
<rect x="164.4" y="652.4" width="14.5" height="19.1" fill="#0b3366" stroke="#111" stroke-width="1"/>
<rect x="178.9" y="652.4" width="14.5" height="19.1" fill="#144b8c" stroke="#111" stroke-width="1"/>
<rect x="193.4" y="652.4" width="14.5" height="19.1" fill="#2363aa" stroke="#111" stroke-width="1"/>
<rect x="207.9" y="652.4" width="14.5" height="19.1" fill="#2f78b9" stroke="#111" stroke-width="1"/>
<rect x="222.4" y="652.4" width="14.5" height="19.1" fill="#4191c6" stroke="#111" stroke-width="1"/>
<rect x="236.9" y="652.4" width="14.5" height="19.1" fill="#5ea6d1" stroke="#111" stroke-width="1"/>
<rect x="251.4" y="652.4" width="14.5" height="19.1" fill="#80bbdd" stroke="#111" stroke-width="1"/>
<rect x="265.9" y="652.4" width="14.5" height="19.1" fill="#a3cfe6" stroke="#111" stroke-width="1"/>
<rect x="280.4" y="652.4" width="14.5" height="19.1" fill="#c5e0ef" stroke="#111" stroke-width="1"/>
<rect x="294.9" y="652.4" width="14.5" height="19.1" fill="#dcebf5" stroke="#111" stroke-width="1"/>
<rect x="309.4" y="652.4" width="14.5" height="19.1" fill="#ffffff" stroke="#111" stroke-width="1"/>
<rect x="323.9" y="652.4" width="14.5" height="19.1" fill="#ffffff" stroke="#111" stroke-width="1"/>
<rect x="338.4" y="652.4" width="14.5" height="19.1" fill="#fde2d3" stroke="#111" stroke-width="1"/>
<rect x="352.9" y="652.4" width="14.5" height="19.1" fill="#fbcab0" stroke="#111" stroke-width="1"/>
<rect x="367.4" y="652.4" width="14.5" height="19.1" fill="#f7b292" stroke="#111" stroke-width="1"/>
<rect x="381.9" y="652.4" width="14.5" height="19.1" fill="#ef9677" stroke="#111" stroke-width="1"/>
<rect x="396.4" y="652.4" width="14.5" height="19.1" fill="#e37a62" stroke="#111" stroke-width="1"/>
<rect x="410.9" y="652.4" width="14.5" height="19.1" fill="#d65f52" stroke="#111" stroke-width="1"/>
<rect x="425.4" y="652.4" width="14.5" height="19.1" fill="#c84646" stroke="#111" stroke-width="1"/>
<rect x="439.9" y="652.4" width="14.5" height="19.1" fill="#b32536" stroke="#111" stroke-width="1"/>
<rect x="454.4" y="652.4" width="14.5" height="19.1" fill="#931329" stroke="#111" stroke-width="1"/>
<rect x="468.9" y="652.4" width="14.5" height="19.1" fill="#6a0020" stroke="#111" stroke-width="1"/>
<text x="178.9" y="681.6" font-size="10.6" fill="#222" stroke="#fff" stroke-width="0.25" text-anchor="middle">−10</text>
<text x="207.9" y="681.6" font-size="10.6" fill="#222" stroke="#fff" stroke-width="0.25" text-anchor="middle">−8</text>
<text x="236.9" y="681.6" font-size="10.6" fill="#222" stroke="#fff" stroke-width="0.25" text-anchor="middle">−6</text>
<text x="265.9" y="681.6" font-size="10.6" fill="#222" stroke="#fff" stroke-width="0.25" text-anchor="middle">−4</text>
<text x="294.9" y="681.6" font-size="10.6" fill="#222" stroke="#fff" stroke-width="0.25" text-anchor="middle">−2</text>
<text x="323.9" y="681.6" font-size="10.6" fill="#222" stroke="#fff" stroke-width="0.25" text-anchor="middle">0</text>
<text x="352.9" y="681.6" font-size="10.6" fill="#222" stroke="#fff" stroke-width="0.25" text-anchor="middle">2</text>
<text x="381.9" y="681.6" font-size="10.6" fill="#222" stroke="#fff" stroke-width="0.25" text-anchor="middle">4</text>
<text x="410.9" y="681.6" font-size="10.6" fill="#222" stroke="#fff" stroke-width="0.25" text-anchor="middle">6</text>
<text x="439.9" y="681.6" font-size="10.6" fill="#222" stroke="#fff" stroke-width="0.25" text-anchor="middle">8</text>
<text x="468.9" y="681.6" font-size="10.6" fill="#222" stroke="#fff" stroke-width="0.25" text-anchor="middle">10</text>
</svg></body></html>
